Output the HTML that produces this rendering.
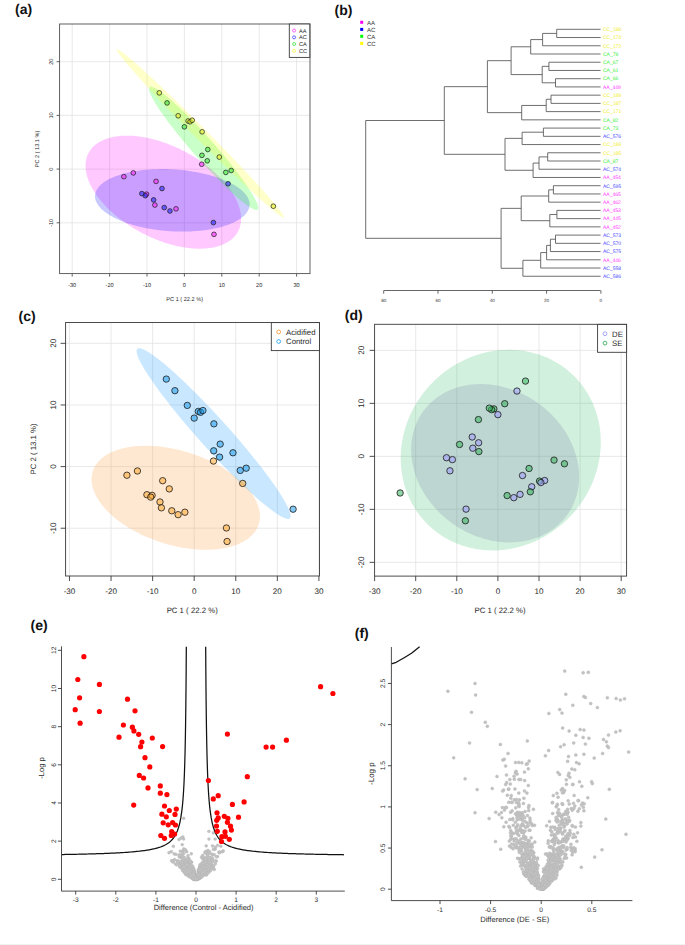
<!DOCTYPE html>
<html><head><meta charset="utf-8"><style>
html,body{margin:0;padding:0;background:#fff;}
svg{display:block;font-family:"Liberation Sans", sans-serif;text-rendering:geometricPrecision;}
</style></head><body>
<svg width="685" height="945" viewBox="0 0 685 945">
<rect width="685" height="945" fill="#fff"/>
<line x1="72.2" y1="24" x2="72.2" y2="273.6" stroke="#e2e2e2" stroke-width="0.8"/>
<line x1="109.6" y1="24" x2="109.6" y2="273.6" stroke="#e2e2e2" stroke-width="0.8"/>
<line x1="147" y1="24" x2="147" y2="273.6" stroke="#e2e2e2" stroke-width="0.8"/>
<line x1="184.4" y1="24" x2="184.4" y2="273.6" stroke="#e2e2e2" stroke-width="0.8"/>
<line x1="221.8" y1="24" x2="221.8" y2="273.6" stroke="#e2e2e2" stroke-width="0.8"/>
<line x1="259.2" y1="24" x2="259.2" y2="273.6" stroke="#e2e2e2" stroke-width="0.8"/>
<line x1="296.6" y1="24" x2="296.6" y2="273.6" stroke="#e2e2e2" stroke-width="0.8"/>
<line x1="59.6" y1="222.8" x2="310" y2="222.8" stroke="#e2e2e2" stroke-width="0.8"/>
<line x1="59.6" y1="169.1" x2="310" y2="169.1" stroke="#e2e2e2" stroke-width="0.8"/>
<line x1="59.6" y1="115.4" x2="310" y2="115.4" stroke="#e2e2e2" stroke-width="0.8"/>
<line x1="59.6" y1="61.7" x2="310" y2="61.7" stroke="#e2e2e2" stroke-width="0.8"/>
<path d="M203.4 163.05 L201.27 161.54 L199.11 160.05 L196.91 158.6 L194.68 157.18 L192.42 155.8 L190.13 154.45 L187.81 153.14 L185.47 151.87 L183.11 150.64 L180.72 149.45 L178.32 148.31 L175.9 147.2 L173.47 146.15 L171.04 145.13 L168.59 144.17 L166.14 143.25 L163.68 142.38 L161.23 141.57 L158.77 140.8 L156.32 140.08 L153.88 139.42 L151.45 138.8 L149.03 138.24 L146.62 137.74 L144.23 137.29 L141.86 136.89 L139.51 136.55 L137.19 136.26 L134.89 136.03 L132.62 135.86 L130.37 135.74 L128.17 135.68 L125.99 135.68 L123.86 135.73 L121.76 135.83 L119.71 136 L117.69 136.22 L115.73 136.49 L113.81 136.82 L111.94 137.21 L110.12 137.65 L108.36 138.15 L106.65 138.7 L104.99 139.3 L103.4 139.95 L101.86 140.66 L100.38 141.42 L98.97 142.23 L97.62 143.09 L96.34 144 L95.13 144.95 L93.98 145.96 L92.9 147.01 L91.89 148.1 L90.95 149.24 L90.09 150.42 L89.29 151.64 L88.58 152.91 L87.93 154.21 L87.36 155.55 L86.87 156.93 L86.45 158.34 L86.11 159.78 L85.85 161.26 L85.66 162.77 L85.55 164.31 L85.52 165.87 L85.57 167.47 L85.69 169.08 L85.89 170.72 L86.17 172.39 L86.52 174.07 L86.95 175.77 L87.46 177.48 L88.04 179.21 L88.7 180.95 L89.43 182.71 L90.24 184.47 L91.12 186.24 L92.07 188.02 L93.09 189.8 L94.18 191.59 L95.34 193.37 L96.57 195.16 L97.87 196.94 L99.23 198.71 L100.65 200.48 L102.14 202.24 L103.68 203.99 L105.29 205.73 L106.96 207.46 L108.68 209.17 L110.45 210.86 L112.28 212.54 L114.16 214.19 L116.08 215.83 L118.06 217.44 L120.08 219.02 L122.14 220.58 L124.25 222.11 L126.39 223.61 L128.57 225.07 L130.78 226.51 L133.03 227.91 L135.31 229.27 L137.61 230.6 L139.94 231.89 L142.29 233.14 L144.67 234.35 L147.06 235.52 L149.47 236.65 L151.89 237.73 L154.33 238.76 L156.77 239.75 L159.22 240.69 L161.68 241.58 L164.13 242.43 L166.59 243.22 L169.04 243.96 L171.48 244.65 L173.92 245.29 L176.35 245.88 L178.76 246.41 L181.16 246.89 L183.54 247.31 L185.9 247.68 L188.24 248 L190.55 248.25 L192.84 248.45 L195.09 248.6 L197.32 248.69 L199.51 248.72 L201.66 248.7 L203.78 248.62 L205.86 248.49 L207.89 248.29 L209.88 248.05 L211.82 247.74 L213.72 247.38 L215.56 246.97 L217.35 246.5 L219.09 245.98 L220.77 245.4 L222.4 244.78 L223.96 244.09 L225.47 243.36 L226.91 242.58 L228.29 241.74 L229.61 240.86 L230.86 239.93 L232.04 238.95 L233.16 237.92 L234.2 236.85 L235.17 235.73 L236.07 234.57 L236.9 233.37 L237.66 232.13 L238.34 230.84 L238.95 229.52 L239.48 228.16 L239.93 226.77 L240.31 225.34 L240.62 223.88 L240.84 222.38 L240.99 220.86 L241.06 219.31 L241.05 217.73 L240.97 216.12 L240.81 214.49 L240.57 212.84 L240.25 211.17 L239.86 209.48 L239.39 207.77 L238.84 206.05 L238.22 204.31 L237.53 202.56 L236.76 200.81 L235.91 199.04 L235 197.26 L234.01 195.48 L232.96 193.7 L231.83 191.92 L230.64 190.13 L229.37 188.35 L228.05 186.57 L226.65 184.8 L225.2 183.03 L223.68 181.28 L222.1 179.53 L220.47 177.8 L218.78 176.08 L217.03 174.38 L215.23 172.69 L213.37 171.03 L211.47 169.38 L209.52 167.76 L207.52 166.16 L205.48 164.59 L203.4 163.05 Z" fill="#ff00ff" fill-opacity="0.21" stroke="none"/>
<path d="M223.27 179.71 L221.41 178.98 L219.5 178.26 L217.55 177.58 L215.55 176.91 L213.5 176.27 L211.42 175.65 L209.29 175.06 L207.13 174.49 L204.94 173.94 L202.71 173.43 L200.45 172.94 L198.17 172.48 L195.85 172.04 L193.52 171.63 L191.16 171.26 L188.79 170.91 L186.4 170.59 L183.99 170.3 L181.57 170.04 L179.15 169.81 L176.71 169.61 L174.27 169.44 L171.83 169.3 L169.39 169.2 L166.96 169.12 L164.53 169.08 L162.1 169.06 L159.69 169.08 L157.29 169.13 L154.9 169.21 L152.53 169.32 L150.18 169.46 L147.86 169.63 L145.55 169.84 L143.28 170.07 L141.03 170.33 L138.82 170.63 L136.63 170.95 L134.49 171.3 L132.38 171.68 L130.31 172.09 L128.28 172.53 L126.3 173 L124.36 173.49 L122.47 174.01 L120.63 174.56 L118.84 175.13 L117.1 175.73 L115.42 176.35 L113.8 176.99 L112.23 177.66 L110.73 178.35 L109.28 179.07 L107.9 179.8 L106.58 180.55 L105.33 181.33 L104.15 182.12 L103.03 182.93 L101.98 183.76 L101 184.61 L100.1 185.47 L99.26 186.35 L98.5 187.24 L97.81 188.14 L97.2 189.05 L96.66 189.98 L96.19 190.92 L95.8 191.86 L95.49 192.82 L95.26 193.78 L95.1 194.75 L95.02 195.72 L95.01 196.7 L95.08 197.68 L95.23 198.67 L95.46 199.65 L95.76 200.64 L96.14 201.63 L96.59 202.61 L97.13 203.6 L97.73 204.58 L98.41 205.55 L99.16 206.52 L99.99 207.49 L100.89 208.45 L101.86 209.4 L102.9 210.34 L104 211.27 L105.18 212.19 L106.43 213.09 L107.73 213.99 L109.11 214.87 L110.54 215.74 L112.04 216.59 L113.6 217.42 L115.22 218.24 L116.89 219.04 L118.62 219.82 L120.4 220.59 L122.24 221.33 L124.12 222.05 L126.05 222.75 L128.03 223.43 L130.05 224.08 L132.12 224.71 L134.22 225.32 L136.36 225.9 L138.54 226.45 L140.75 226.98 L143 227.49 L145.27 227.96 L147.57 228.41 L149.89 228.83 L152.24 229.22 L154.61 229.59 L156.99 229.92 L159.39 230.23 L161.8 230.5 L164.22 230.75 L166.65 230.96 L169.09 231.14 L171.53 231.3 L173.97 231.42 L176.41 231.51 L178.84 231.57 L181.27 231.6 L183.69 231.6 L186.1 231.57 L188.49 231.5 L190.87 231.41 L193.23 231.28 L195.57 231.12 L197.88 230.94 L200.17 230.72 L202.43 230.47 L204.66 230.19 L206.86 229.88 L209.03 229.54 L211.16 229.18 L213.25 228.78 L215.29 228.36 L217.3 227.91 L219.26 227.43 L221.18 226.92 L223.04 226.39 L224.86 225.83 L226.62 225.24 L228.33 224.63 L229.98 224 L231.57 223.34 L233.11 222.66 L234.59 221.96 L236 221.24 L237.35 220.49 L238.63 219.73 L239.85 218.94 L241 218.14 L242.09 217.32 L243.1 216.48 L244.04 215.63 L244.91 214.76 L245.71 213.88 L246.44 212.98 L247.09 212.07 L247.67 211.15 L248.17 210.22 L248.59 209.28 L248.95 208.33 L249.22 207.37 L249.42 206.4 L249.54 205.43 L249.58 204.46 L249.55 203.48 L249.44 202.49 L249.25 201.51 L248.98 200.52 L248.64 199.53 L248.23 198.54 L247.73 197.56 L247.17 196.58 L246.52 195.6 L245.81 194.63 L245.02 193.66 L244.15 192.7 L243.22 191.74 L242.22 190.8 L241.14 189.86 L240 188.94 L238.79 188.03 L237.51 187.12 L236.17 186.24 L234.76 185.36 L233.3 184.5 L231.77 183.66 L230.18 182.83 L228.54 182.02 L226.83 181.23 L225.08 180.46 L223.27 179.71 Z" fill="#0000ff" fill-opacity="0.21" stroke="none"/>
<path d="M210.78 140.28 L209.06 138.36 L207.34 136.45 L205.62 134.54 L203.89 132.66 L202.17 130.78 L200.44 128.93 L198.72 127.09 L197.01 125.28 L195.3 123.48 L193.6 121.72 L191.9 119.98 L190.23 118.26 L188.56 116.58 L186.91 114.93 L185.27 113.31 L183.66 111.73 L182.06 110.18 L180.49 108.68 L178.93 107.21 L177.41 105.78 L175.91 104.4 L174.43 103.06 L172.99 101.76 L171.57 100.51 L170.19 99.31 L168.84 98.15 L167.53 97.05 L166.25 96 L165.01 95 L163.81 94.05 L162.65 93.16 L161.53 92.32 L160.45 91.54 L159.41 90.82 L158.42 90.15 L157.47 89.54 L156.57 88.99 L155.71 88.5 L154.91 88.06 L154.15 87.69 L153.44 87.38 L152.78 87.13 L152.17 86.94 L151.62 86.81 L151.11 86.74 L150.66 86.74 L150.26 86.79 L149.91 86.91 L149.62 87.09 L149.38 87.33 L149.2 87.63 L149.07 87.99 L148.99 88.41 L148.97 88.89 L149 89.43 L149.09 90.03 L149.23 90.68 L149.42 91.4 L149.67 92.17 L149.98 93 L150.33 93.88 L150.74 94.81 L151.21 95.8 L151.72 96.84 L152.29 97.94 L152.91 99.08 L153.57 100.27 L154.29 101.51 L155.06 102.8 L155.88 104.13 L156.74 105.51 L157.65 106.93 L158.61 108.39 L159.61 109.89 L160.65 111.43 L161.74 113.01 L162.87 114.62 L164.04 116.26 L165.25 117.94 L166.5 119.64 L167.78 121.38 L169.1 123.14 L170.46 124.93 L171.84 126.74 L173.26 128.57 L174.71 130.42 L176.19 132.29 L177.7 134.18 L179.23 136.08 L180.79 137.99 L182.37 139.91 L183.97 141.84 L185.59 143.78 L187.22 145.72 L188.88 147.67 L190.55 149.61 L192.23 151.56 L193.92 153.5 L195.63 155.43 L197.34 157.36 L199.05 159.28 L200.78 161.19 L202.5 163.08 L204.23 164.97 L205.95 166.83 L207.67 168.68 L209.39 170.5 L211.11 172.31 L212.81 174.09 L214.51 175.84 L216.19 177.57 L217.87 179.26 L219.53 180.93 L221.17 182.56 L222.8 184.16 L224.4 185.73 L225.99 187.26 L227.55 188.74 L229.09 190.19 L230.6 191.6 L232.09 192.96 L233.55 194.28 L234.98 195.55 L236.38 196.78 L237.74 197.96 L239.08 199.09 L240.37 200.16 L241.63 201.19 L242.85 202.16 L244.03 203.08 L245.18 203.95 L246.28 204.76 L247.33 205.51 L248.35 206.21 L249.32 206.85 L250.24 207.43 L251.12 207.95 L251.95 208.41 L252.73 208.81 L253.47 209.15 L254.15 209.43 L254.79 209.65 L255.37 209.81 L255.9 209.91 L256.38 209.95 L256.8 209.92 L257.18 209.84 L257.5 209.69 L257.76 209.48 L257.98 209.21 L258.13 208.88 L258.24 208.49 L258.29 208.04 L258.28 207.53 L258.22 206.96 L258.11 206.33 L257.94 205.65 L257.72 204.91 L257.44 204.11 L257.11 203.25 L256.73 202.34 L256.29 201.38 L255.8 200.36 L255.26 199.3 L254.67 198.18 L254.02 197.01 L253.33 195.79 L252.59 194.53 L251.8 193.22 L250.96 191.86 L250.07 190.47 L249.14 189.03 L248.16 187.55 L247.13 186.03 L246.07 184.47 L244.96 182.88 L243.81 181.25 L242.62 179.59 L241.39 177.9 L240.12 176.17 L238.82 174.43 L237.48 172.65 L236.11 170.85 L234.71 169.03 L233.27 167.19 L231.81 165.33 L230.32 163.45 L228.8 161.56 L227.25 159.65 L225.68 157.73 L224.09 155.8 L222.48 153.87 L220.85 151.93 L219.21 149.99 L217.55 148.04 L215.87 146.1 L214.18 144.16 L212.48 142.22 L210.78 140.28 Z" fill="#00ff00" fill-opacity="0.21" stroke="none"/>
<path d="M204.5 129.16 L201.85 126.51 L199.21 123.86 L196.57 121.23 L193.93 118.6 L191.3 115.99 L188.67 113.4 L186.06 110.83 L183.46 108.28 L180.88 105.75 L178.32 103.26 L175.78 100.79 L173.27 98.36 L170.78 95.96 L168.32 93.59 L165.9 91.27 L163.5 88.99 L161.15 86.75 L158.83 84.56 L156.56 82.42 L154.32 80.33 L152.14 78.29 L150 76.31 L147.91 74.38 L145.88 72.51 L143.9 70.71 L141.97 68.96 L140.11 67.28 L138.3 65.67 L136.56 64.12 L134.88 62.64 L133.26 61.23 L131.71 59.9 L130.23 58.64 L128.82 57.45 L127.48 56.33 L126.21 55.3 L125.02 54.34 L123.9 53.46 L122.86 52.66 L121.9 51.94 L121.01 51.31 L120.21 50.75 L119.48 50.28 L118.83 49.88 L118.27 49.58 L117.78 49.35 L117.38 49.21 L117.06 49.16 L116.83 49.18 L116.68 49.29 L116.61 49.49 L116.62 49.77 L116.72 50.13 L116.9 50.57 L117.17 51.1 L117.51 51.71 L117.94 52.4 L118.46 53.17 L119.05 54.02 L119.73 54.95 L120.48 55.96 L121.32 57.05 L122.23 58.21 L123.22 59.44 L124.29 60.76 L125.43 62.14 L126.65 63.59 L127.94 65.11 L129.31 66.7 L130.74 68.36 L132.25 70.08 L133.82 71.87 L135.46 73.72 L137.16 75.62 L138.93 77.59 L140.76 79.6 L142.64 81.68 L144.59 83.8 L146.59 85.98 L148.64 88.2 L150.75 90.46 L152.9 92.77 L155.1 95.12 L157.35 97.51 L159.64 99.93 L161.97 102.39 L164.34 104.87 L166.75 107.39 L169.18 109.93 L171.65 112.49 L174.15 115.08 L176.67 117.68 L179.22 120.3 L181.79 122.93 L184.38 125.58 L186.98 128.23 L189.6 130.88 L192.22 133.54 L194.86 136.2 L197.5 138.85 L200.14 141.5 L202.78 144.14 L205.43 146.77 L208.06 149.39 L210.69 151.99 L213.31 154.57 L215.91 157.13 L218.5 159.67 L221.07 162.18 L223.62 164.67 L226.15 167.12 L228.65 169.53 L231.13 171.92 L233.57 174.26 L235.98 176.56 L238.35 178.82 L240.69 181.03 L242.99 183.2 L245.24 185.32 L247.45 187.38 L249.61 189.39 L251.72 191.35 L253.78 193.25 L255.79 195.08 L257.75 196.86 L259.64 198.57 L261.48 200.22 L263.25 201.8 L264.97 203.31 L266.61 204.76 L268.2 206.13 L269.71 207.43 L271.16 208.65 L272.53 209.8 L273.84 210.88 L275.07 211.87 L276.22 212.79 L277.3 213.63 L278.3 214.39 L279.23 215.07 L280.07 215.67 L280.84 216.18 L281.53 216.62 L282.13 216.96 L282.66 217.23 L283.1 217.41 L283.46 217.51 L283.74 217.53 L283.93 217.46 L284.04 217.3 L284.07 217.07 L284.01 216.75 L283.87 216.34 L283.65 215.86 L283.34 215.29 L282.96 214.64 L282.48 213.91 L281.93 213.1 L281.3 212.21 L280.58 211.24 L279.79 210.19 L278.91 209.07 L277.96 207.87 L276.93 206.59 L275.82 205.25 L274.64 203.83 L273.39 202.34 L272.06 200.78 L270.66 199.16 L269.19 197.47 L267.65 195.72 L266.04 193.9 L264.37 192.02 L262.64 190.09 L260.84 188.1 L258.98 186.05 L257.06 183.95 L255.09 181.8 L253.06 179.61 L250.98 177.36 L248.85 175.07 L246.68 172.75 L244.45 170.38 L242.18 167.97 L239.87 165.53 L237.52 163.06 L235.14 160.56 L232.71 158.03 L230.26 155.48 L227.78 152.9 L225.26 150.31 L222.73 147.7 L220.17 145.07 L217.59 142.43 L215 139.78 L212.39 137.13 L209.77 134.47 L207.13 131.82 L204.5 129.16 Z" fill="#ffff00" fill-opacity="0.21" stroke="none"/>
<circle cx="123.85" cy="176.62" r="2.35" fill="#ff28ff" fill-opacity="0.6" stroke="#1a1a1a" stroke-width="0.7"/>
<circle cx="133.31" cy="172.91" r="2.35" fill="#ff28ff" fill-opacity="0.6" stroke="#1a1a1a" stroke-width="0.7"/>
<circle cx="156.05" cy="181.4" r="2.35" fill="#ff28ff" fill-opacity="0.6" stroke="#1a1a1a" stroke-width="0.7"/>
<circle cx="162" cy="188.54" r="2.35" fill="#2828ff" fill-opacity="0.6" stroke="#1a1a1a" stroke-width="0.7"/>
<circle cx="141.84" cy="193.59" r="2.35" fill="#2828ff" fill-opacity="0.6" stroke="#1a1a1a" stroke-width="0.7"/>
<circle cx="146.51" cy="194.18" r="2.35" fill="#ff28ff" fill-opacity="0.6" stroke="#1a1a1a" stroke-width="0.7"/>
<circle cx="145.28" cy="195.68" r="2.35" fill="#2828ff" fill-opacity="0.6" stroke="#1a1a1a" stroke-width="0.7"/>
<circle cx="153.62" cy="199.92" r="2.35" fill="#2828ff" fill-opacity="0.6" stroke="#1a1a1a" stroke-width="0.7"/>
<circle cx="154.89" cy="205.03" r="2.35" fill="#ff28ff" fill-opacity="0.6" stroke="#1a1a1a" stroke-width="0.7"/>
<circle cx="164.24" cy="207.6" r="2.35" fill="#2828ff" fill-opacity="0.6" stroke="#1a1a1a" stroke-width="0.7"/>
<circle cx="169.93" cy="210.99" r="2.35" fill="#2828ff" fill-opacity="0.6" stroke="#1a1a1a" stroke-width="0.7"/>
<circle cx="176.02" cy="208.84" r="2.35" fill="#ff28ff" fill-opacity="0.6" stroke="#1a1a1a" stroke-width="0.7"/>
<circle cx="213.39" cy="222.59" r="2.35" fill="#2828ff" fill-opacity="0.6" stroke="#1a1a1a" stroke-width="0.7"/>
<circle cx="213.98" cy="234.35" r="2.35" fill="#ff28ff" fill-opacity="0.6" stroke="#1a1a1a" stroke-width="0.7"/>
<circle cx="201.72" cy="164.27" r="2.35" fill="#ff28ff" fill-opacity="0.6" stroke="#1a1a1a" stroke-width="0.7"/>
<circle cx="228.05" cy="183.76" r="2.35" fill="#2828ff" fill-opacity="0.6" stroke="#1a1a1a" stroke-width="0.7"/>
<circle cx="159.3" cy="92.85" r="2.35" fill="#e6f02a" fill-opacity="0.6" stroke="#1a1a1a" stroke-width="0.7"/>
<circle cx="167.05" cy="102.94" r="2.35" fill="#3ce63c" fill-opacity="0.6" stroke="#1a1a1a" stroke-width="0.7"/>
<circle cx="178.19" cy="115.78" r="2.35" fill="#e6f02a" fill-opacity="0.6" stroke="#1a1a1a" stroke-width="0.7"/>
<circle cx="188.1" cy="120.98" r="2.35" fill="#e6f02a" fill-opacity="0.6" stroke="#1a1a1a" stroke-width="0.7"/>
<circle cx="190.08" cy="121.79" r="2.35" fill="#e6f02a" fill-opacity="0.6" stroke="#1a1a1a" stroke-width="0.7"/>
<circle cx="192.22" cy="120.23" r="2.35" fill="#e6f02a" fill-opacity="0.6" stroke="#1a1a1a" stroke-width="0.7"/>
<circle cx="184.4" cy="126.84" r="2.35" fill="#3ce63c" fill-opacity="0.6" stroke="#1a1a1a" stroke-width="0.7"/>
<circle cx="202.13" cy="131.83" r="2.35" fill="#e6f02a" fill-opacity="0.6" stroke="#1a1a1a" stroke-width="0.7"/>
<circle cx="207.78" cy="149.5" r="2.35" fill="#3ce63c" fill-opacity="0.6" stroke="#1a1a1a" stroke-width="0.7"/>
<circle cx="201.94" cy="155.35" r="2.35" fill="#3ce63c" fill-opacity="0.6" stroke="#1a1a1a" stroke-width="0.7"/>
<circle cx="219.29" cy="157.07" r="2.35" fill="#e6f02a" fill-opacity="0.6" stroke="#1a1a1a" stroke-width="0.7"/>
<circle cx="207.25" cy="160.83" r="2.35" fill="#3ce63c" fill-opacity="0.6" stroke="#1a1a1a" stroke-width="0.7"/>
<circle cx="225.8" cy="172.43" r="2.35" fill="#3ce63c" fill-opacity="0.6" stroke="#1a1a1a" stroke-width="0.7"/>
<circle cx="231.19" cy="170.5" r="2.35" fill="#3ce63c" fill-opacity="0.6" stroke="#1a1a1a" stroke-width="0.7"/>
<circle cx="273.37" cy="206.21" r="2.35" fill="#e6f02a" fill-opacity="0.6" stroke="#1a1a1a" stroke-width="0.7"/>
<rect x="59.6" y="24" width="250.4" height="249.6" fill="none" stroke="#505050" stroke-width="0.9"/>
<line x1="72.2" y1="273.6" x2="72.2" y2="276.6" stroke="#505050" stroke-width="0.9"/>
<text x="72.2" y="287.42" font-size="5.6" text-anchor="middle" fill="#2a2a2a">-30</text>
<line x1="109.6" y1="273.6" x2="109.6" y2="276.6" stroke="#505050" stroke-width="0.9"/>
<text x="109.6" y="287.42" font-size="5.6" text-anchor="middle" fill="#2a2a2a">-20</text>
<line x1="147" y1="273.6" x2="147" y2="276.6" stroke="#505050" stroke-width="0.9"/>
<text x="147" y="287.42" font-size="5.6" text-anchor="middle" fill="#2a2a2a">-10</text>
<line x1="184.4" y1="273.6" x2="184.4" y2="276.6" stroke="#505050" stroke-width="0.9"/>
<text x="184.4" y="287.42" font-size="5.6" text-anchor="middle" fill="#2a2a2a">0</text>
<line x1="221.8" y1="273.6" x2="221.8" y2="276.6" stroke="#505050" stroke-width="0.9"/>
<text x="221.8" y="287.42" font-size="5.6" text-anchor="middle" fill="#2a2a2a">10</text>
<line x1="259.2" y1="273.6" x2="259.2" y2="276.6" stroke="#505050" stroke-width="0.9"/>
<text x="259.2" y="287.42" font-size="5.6" text-anchor="middle" fill="#2a2a2a">20</text>
<line x1="296.6" y1="273.6" x2="296.6" y2="276.6" stroke="#505050" stroke-width="0.9"/>
<text x="296.6" y="287.42" font-size="5.6" text-anchor="middle" fill="#2a2a2a">30</text>
<line x1="56.6" y1="222.8" x2="59.6" y2="222.8" stroke="#505050" stroke-width="0.9"/>
<text x="50.6" y="224.82" font-size="5.6" text-anchor="middle" fill="#2a2a2a" transform="rotate(-90 50.6 222.8)">-10</text>
<line x1="56.6" y1="169.1" x2="59.6" y2="169.1" stroke="#505050" stroke-width="0.9"/>
<text x="50.6" y="171.12" font-size="5.6" text-anchor="middle" fill="#2a2a2a" transform="rotate(-90 50.6 169.1)">0</text>
<line x1="56.6" y1="115.4" x2="59.6" y2="115.4" stroke="#505050" stroke-width="0.9"/>
<text x="50.6" y="117.42" font-size="5.6" text-anchor="middle" fill="#2a2a2a" transform="rotate(-90 50.6 115.4)">10</text>
<line x1="56.6" y1="61.7" x2="59.6" y2="61.7" stroke="#505050" stroke-width="0.9"/>
<text x="50.6" y="63.72" font-size="5.6" text-anchor="middle" fill="#2a2a2a" transform="rotate(-90 50.6 61.7)">20</text>
<text x="184.7" y="301.02" font-size="5.6" text-anchor="middle" fill="#2a2a2a">PC 1 ( 22.2 %)</text>
<text x="36.6" y="151.02" font-size="5.6" text-anchor="middle" fill="#2a2a2a" transform="rotate(-90 36.6 149)">PC 2 ( 13.1 %)</text>
<rect x="289.3" y="24" width="20.5" height="33.4" fill="#fff" stroke="#3a3a3a" stroke-width="0.9"/>
<circle cx="294.1" cy="30.6" r="1.5" fill="none" stroke="#ff40ff" stroke-width="0.8"/>
<text x="299" y="32.62" font-size="5.6" text-anchor="start" fill="#2a2a2a">AA</text>
<circle cx="294.1" cy="37.33" r="1.5" fill="none" stroke="#4040ff" stroke-width="0.8"/>
<text x="299" y="39.35" font-size="5.6" text-anchor="start" fill="#2a2a2a">AC</text>
<circle cx="294.1" cy="44.06" r="1.5" fill="none" stroke="#40e040" stroke-width="0.8"/>
<text x="299" y="46.08" font-size="5.6" text-anchor="start" fill="#2a2a2a">CA</text>
<circle cx="294.1" cy="50.79" r="1.5" fill="none" stroke="#f0f040" stroke-width="0.8"/>
<text x="299" y="52.81" font-size="5.6" text-anchor="start" fill="#2a2a2a">CC</text>
<text x="15" y="1.1" font-size="14" font-weight="bold" fill="#111" dominant-baseline="text-before-edge">(a)</text>
<line x1="69.49" y1="322.5" x2="69.49" y2="576" stroke="#e2e2e2" stroke-width="0.8"/>
<line x1="111.06" y1="322.5" x2="111.06" y2="576" stroke="#e2e2e2" stroke-width="0.8"/>
<line x1="152.63" y1="322.5" x2="152.63" y2="576" stroke="#e2e2e2" stroke-width="0.8"/>
<line x1="194.2" y1="322.5" x2="194.2" y2="576" stroke="#e2e2e2" stroke-width="0.8"/>
<line x1="235.77" y1="322.5" x2="235.77" y2="576" stroke="#e2e2e2" stroke-width="0.8"/>
<line x1="277.34" y1="322.5" x2="277.34" y2="576" stroke="#e2e2e2" stroke-width="0.8"/>
<line x1="318.91" y1="322.5" x2="318.91" y2="576" stroke="#e2e2e2" stroke-width="0.8"/>
<line x1="65.6" y1="528.23" x2="319.5" y2="528.23" stroke="#e2e2e2" stroke-width="0.8"/>
<line x1="65.6" y1="466.6" x2="319.5" y2="466.6" stroke="#e2e2e2" stroke-width="0.8"/>
<line x1="65.6" y1="404.97" x2="319.5" y2="404.97" stroke="#e2e2e2" stroke-width="0.8"/>
<line x1="65.6" y1="343.34" x2="319.5" y2="343.34" stroke="#e2e2e2" stroke-width="0.8"/>
<path d="M223.5 468.28 L221.29 466.94 L219.03 465.64 L216.73 464.36 L214.39 463.12 L212.01 461.91 L209.59 460.74 L207.14 459.61 L204.66 458.51 L202.14 457.46 L199.61 456.44 L197.05 455.46 L194.46 454.53 L191.86 453.64 L189.24 452.79 L186.61 451.99 L183.97 451.24 L181.32 450.53 L178.67 449.87 L176.01 449.25 L173.35 448.69 L170.69 448.17 L168.04 447.7 L165.4 447.28 L162.77 446.92 L160.15 446.6 L157.54 446.33 L154.96 446.12 L152.39 445.96 L149.85 445.84 L147.33 445.78 L144.84 445.78 L142.39 445.82 L139.96 445.92 L137.57 446.06 L135.22 446.26 L132.91 446.51 L130.64 446.82 L128.42 447.17 L126.25 447.57 L124.12 448.02 L122.05 448.53 L120.02 449.08 L118.06 449.68 L116.15 450.33 L114.3 451.02 L112.52 451.76 L110.79 452.55 L109.13 453.38 L107.54 454.26 L106.01 455.18 L104.56 456.14 L103.17 457.15 L101.86 458.19 L100.62 459.28 L99.46 460.4 L98.37 461.56 L97.36 462.76 L96.43 463.99 L95.57 465.25 L94.8 466.55 L94.11 467.88 L93.49 469.24 L92.97 470.62 L92.52 472.04 L92.15 473.48 L91.87 474.94 L91.68 476.43 L91.56 477.93 L91.53 479.46 L91.59 481.01 L91.73 482.57 L91.95 484.15 L92.25 485.74 L92.64 487.34 L93.11 488.96 L93.67 490.58 L94.3 492.21 L95.02 493.84 L95.82 495.48 L96.7 497.12 L97.65 498.76 L98.69 500.41 L99.8 502.04 L100.98 503.68 L102.24 505.31 L103.58 506.93 L104.98 508.54 L106.46 510.14 L108.01 511.73 L109.62 513.3 L111.3 514.86 L113.04 516.4 L114.85 517.93 L116.71 519.43 L118.64 520.91 L120.62 522.37 L122.66 523.8 L124.75 525.21 L126.89 526.59 L129.08 527.95 L131.31 529.27 L133.6 530.56 L135.92 531.82 L138.28 533.04 L140.68 534.23 L143.11 535.38 L145.58 536.5 L148.08 537.57 L150.6 538.61 L153.15 539.61 L155.72 540.56 L158.32 541.47 L160.93 542.34 L163.55 543.17 L166.19 543.94 L168.83 544.68 L171.48 545.36 L174.14 546 L176.8 546.59 L179.46 547.13 L182.11 547.63 L184.76 548.07 L187.4 548.46 L190.03 548.8 L192.64 549.1 L195.23 549.34 L197.81 549.52 L200.36 549.66 L202.89 549.75 L205.4 549.78 L207.87 549.76 L210.31 549.69 L212.72 549.57 L215.09 549.4 L217.42 549.17 L219.71 548.9 L221.95 548.57 L224.15 548.19 L226.3 547.76 L228.4 547.29 L230.45 546.76 L232.45 546.18 L234.38 545.56 L236.26 544.89 L238.08 544.17 L239.84 543.4 L241.53 542.59 L243.15 541.74 L244.71 540.84 L246.2 539.9 L247.62 538.91 L248.97 537.89 L250.25 536.82 L251.45 535.72 L252.58 534.58 L253.63 533.4 L254.6 532.18 L255.49 530.94 L256.3 529.66 L257.04 528.34 L257.69 527 L258.26 525.63 L258.75 524.23 L259.16 522.8 L259.48 521.35 L259.72 519.87 L259.87 518.38 L259.94 516.86 L259.93 515.32 L259.83 513.77 L259.65 512.2 L259.39 510.61 L259.04 509.02 L258.61 507.41 L258.1 505.79 L257.5 504.16 L256.83 502.53 L256.07 500.89 L255.23 499.25 L254.32 497.61 L253.32 495.97 L252.25 494.33 L251.1 492.69 L249.88 491.06 L248.58 489.44 L247.21 487.82 L245.77 486.21 L244.26 484.62 L242.68 483.04 L241.03 481.47 L239.32 479.92 L237.54 478.39 L235.71 476.87 L233.81 475.38 L231.86 473.91 L229.85 472.46 L227.78 471.04 L225.67 469.65 L223.5 468.28 Z" fill="#ffa040" fill-opacity="0.24" stroke="none"/>
<path d="M223.63 422.51 L221.21 419.85 L218.79 417.19 L216.36 414.56 L213.92 411.94 L211.49 409.35 L209.06 406.77 L206.64 404.23 L204.22 401.72 L201.81 399.23 L199.41 396.78 L197.03 394.37 L194.66 392 L192.32 389.67 L189.99 387.38 L187.69 385.14 L185.41 382.94 L183.16 380.8 L180.94 378.71 L178.76 376.67 L176.6 374.69 L174.49 372.77 L172.42 370.91 L170.38 369.12 L168.39 367.38 L166.44 365.72 L164.55 364.12 L162.7 362.59 L160.9 361.13 L159.15 359.74 L157.46 358.43 L155.82 357.19 L154.24 356.03 L152.72 354.94 L151.26 353.94 L149.87 353.01 L148.53 352.16 L147.26 351.4 L146.06 350.71 L144.93 350.11 L143.86 349.59 L142.86 349.16 L141.94 348.81 L141.08 348.54 L140.3 348.36 L139.59 348.27 L138.96 348.26 L138.39 348.33 L137.91 348.49 L137.5 348.73 L137.16 349.06 L136.9 349.48 L136.72 349.97 L136.62 350.55 L136.59 351.22 L136.64 351.96 L136.76 352.79 L136.96 353.7 L137.24 354.68 L137.59 355.75 L138.02 356.89 L138.53 358.11 L139.11 359.4 L139.76 360.77 L140.49 362.21 L141.29 363.73 L142.16 365.31 L143.11 366.96 L144.12 368.68 L145.21 370.46 L146.36 372.3 L147.58 374.21 L148.86 376.17 L150.21 378.19 L151.62 380.27 L153.1 382.4 L154.63 384.58 L156.22 386.81 L157.88 389.09 L159.58 391.41 L161.34 393.77 L163.15 396.18 L165.02 398.62 L166.93 401.09 L168.88 403.6 L170.89 406.13 L172.93 408.7 L175.02 411.29 L177.14 413.9 L179.3 416.53 L181.49 419.18 L183.72 421.84 L185.98 424.52 L188.26 427.2 L190.57 429.89 L192.9 432.58 L195.25 435.28 L197.63 437.97 L200.01 440.66 L202.41 443.34 L204.82 446.01 L207.24 448.67 L209.67 451.32 L212.1 453.94 L214.53 456.55 L216.97 459.13 L219.39 461.69 L221.82 464.22 L224.23 466.72 L226.63 469.19 L229.02 471.62 L231.4 474.01 L233.76 476.36 L236.09 478.67 L238.41 480.94 L240.7 483.16 L242.96 485.33 L245.2 487.44 L247.4 489.51 L249.57 491.51 L251.7 493.46 L253.79 495.35 L255.85 497.18 L257.86 498.95 L259.83 500.65 L261.75 502.28 L263.63 503.85 L265.45 505.34 L267.23 506.76 L268.95 508.12 L270.61 509.39 L272.22 510.59 L273.77 511.72 L275.26 512.76 L276.69 513.73 L278.05 514.62 L279.35 515.42 L280.59 516.15 L281.76 516.79 L282.86 517.35 L283.89 517.82 L284.85 518.22 L285.74 518.52 L286.56 518.75 L287.31 518.89 L287.98 518.94 L288.58 518.91 L289.1 518.79 L289.55 518.59 L289.92 518.3 L290.22 517.93 L290.44 517.48 L290.58 516.94 L290.65 516.32 L290.64 515.61 L290.56 514.83 L290.39 513.96 L290.15 513.01 L289.84 511.99 L289.44 510.88 L288.98 509.7 L288.43 508.44 L287.82 507.11 L287.13 505.7 L286.36 504.23 L285.53 502.68 L284.62 501.06 L283.64 499.38 L282.59 497.63 L281.47 495.82 L280.28 493.94 L279.03 492.01 L277.72 490.01 L276.33 487.97 L274.89 485.86 L273.39 483.71 L271.82 481.5 L270.2 479.25 L268.52 476.95 L266.79 474.6 L265 472.22 L263.16 469.8 L261.28 467.34 L259.34 464.85 L257.36 462.33 L255.34 459.78 L253.27 457.2 L251.17 454.6 L249.03 451.98 L246.85 449.34 L244.64 446.68 L242.4 444.01 L240.13 441.33 L237.83 438.65 L235.51 435.95 L233.17 433.26 L230.81 430.56 L228.43 427.87 L226.03 425.19 L223.63 422.51 Z" fill="#1ea0ff" fill-opacity="0.24" stroke="none"/>
<circle cx="126.9" cy="475.23" r="3.2" fill="#ffaa32" fill-opacity="0.55" stroke="#1a1a1a" stroke-width="0.8"/>
<circle cx="137.42" cy="470.98" r="3.2" fill="#ffaa32" fill-opacity="0.55" stroke="#1a1a1a" stroke-width="0.8"/>
<circle cx="162.69" cy="480.71" r="3.2" fill="#ffaa32" fill-opacity="0.55" stroke="#1a1a1a" stroke-width="0.8"/>
<circle cx="169.3" cy="488.91" r="3.2" fill="#ffaa32" fill-opacity="0.55" stroke="#1a1a1a" stroke-width="0.8"/>
<circle cx="146.89" cy="494.7" r="3.2" fill="#ffaa32" fill-opacity="0.55" stroke="#1a1a1a" stroke-width="0.8"/>
<circle cx="152.09" cy="495.38" r="3.2" fill="#ffaa32" fill-opacity="0.55" stroke="#1a1a1a" stroke-width="0.8"/>
<circle cx="150.72" cy="497.11" r="3.2" fill="#ffaa32" fill-opacity="0.55" stroke="#1a1a1a" stroke-width="0.8"/>
<circle cx="159.99" cy="501.98" r="3.2" fill="#ffaa32" fill-opacity="0.55" stroke="#1a1a1a" stroke-width="0.8"/>
<circle cx="161.4" cy="507.83" r="3.2" fill="#ffaa32" fill-opacity="0.55" stroke="#1a1a1a" stroke-width="0.8"/>
<circle cx="171.79" cy="510.79" r="3.2" fill="#ffaa32" fill-opacity="0.55" stroke="#1a1a1a" stroke-width="0.8"/>
<circle cx="178.11" cy="514.67" r="3.2" fill="#ffaa32" fill-opacity="0.55" stroke="#1a1a1a" stroke-width="0.8"/>
<circle cx="184.89" cy="512.21" r="3.2" fill="#ffaa32" fill-opacity="0.55" stroke="#1a1a1a" stroke-width="0.8"/>
<circle cx="226.42" cy="527.98" r="3.2" fill="#ffaa32" fill-opacity="0.55" stroke="#1a1a1a" stroke-width="0.8"/>
<circle cx="227.08" cy="541.48" r="3.2" fill="#ffaa32" fill-opacity="0.55" stroke="#1a1a1a" stroke-width="0.8"/>
<circle cx="213.45" cy="461.05" r="3.2" fill="#ffaa32" fill-opacity="0.55" stroke="#1a1a1a" stroke-width="0.8"/>
<circle cx="242.71" cy="483.42" r="3.2" fill="#ffaa32" fill-opacity="0.55" stroke="#1a1a1a" stroke-width="0.8"/>
<circle cx="166.31" cy="379.09" r="3.2" fill="#1e9beb" fill-opacity="0.55" stroke="#1a1a1a" stroke-width="0.8"/>
<circle cx="174.91" cy="390.67" r="3.2" fill="#1e9beb" fill-opacity="0.55" stroke="#1a1a1a" stroke-width="0.8"/>
<circle cx="187.3" cy="405.4" r="3.2" fill="#1e9beb" fill-opacity="0.55" stroke="#1a1a1a" stroke-width="0.8"/>
<circle cx="198.32" cy="411.38" r="3.2" fill="#1e9beb" fill-opacity="0.55" stroke="#1a1a1a" stroke-width="0.8"/>
<circle cx="200.52" cy="412.3" r="3.2" fill="#1e9beb" fill-opacity="0.55" stroke="#1a1a1a" stroke-width="0.8"/>
<circle cx="202.89" cy="410.52" r="3.2" fill="#1e9beb" fill-opacity="0.55" stroke="#1a1a1a" stroke-width="0.8"/>
<circle cx="194.2" cy="418.1" r="3.2" fill="#1e9beb" fill-opacity="0.55" stroke="#1a1a1a" stroke-width="0.8"/>
<circle cx="213.9" cy="423.83" r="3.2" fill="#1e9beb" fill-opacity="0.55" stroke="#1a1a1a" stroke-width="0.8"/>
<circle cx="220.18" cy="444.11" r="3.2" fill="#1e9beb" fill-opacity="0.55" stroke="#1a1a1a" stroke-width="0.8"/>
<circle cx="213.7" cy="450.82" r="3.2" fill="#1e9beb" fill-opacity="0.55" stroke="#1a1a1a" stroke-width="0.8"/>
<circle cx="232.98" cy="452.79" r="3.2" fill="#1e9beb" fill-opacity="0.55" stroke="#1a1a1a" stroke-width="0.8"/>
<circle cx="219.6" cy="457.11" r="3.2" fill="#1e9beb" fill-opacity="0.55" stroke="#1a1a1a" stroke-width="0.8"/>
<circle cx="240.22" cy="470.42" r="3.2" fill="#1e9beb" fill-opacity="0.55" stroke="#1a1a1a" stroke-width="0.8"/>
<circle cx="246.2" cy="468.2" r="3.2" fill="#1e9beb" fill-opacity="0.55" stroke="#1a1a1a" stroke-width="0.8"/>
<circle cx="293.1" cy="509.19" r="3.2" fill="#1e9beb" fill-opacity="0.55" stroke="#1a1a1a" stroke-width="0.8"/>
<rect x="65.6" y="322.5" width="253.9" height="253.5" fill="none" stroke="#3a3a3a" stroke-width="0.9"/>
<line x1="69.49" y1="576" x2="69.49" y2="581" stroke="#3a3a3a" stroke-width="0.9"/>
<text x="69.49" y="594.02" font-size="8.1" text-anchor="middle" fill="#2a2a2a">-30</text>
<line x1="111.06" y1="576" x2="111.06" y2="581" stroke="#3a3a3a" stroke-width="0.9"/>
<text x="111.06" y="594.02" font-size="8.1" text-anchor="middle" fill="#2a2a2a">-20</text>
<line x1="152.63" y1="576" x2="152.63" y2="581" stroke="#3a3a3a" stroke-width="0.9"/>
<text x="152.63" y="594.02" font-size="8.1" text-anchor="middle" fill="#2a2a2a">-10</text>
<line x1="194.2" y1="576" x2="194.2" y2="581" stroke="#3a3a3a" stroke-width="0.9"/>
<text x="194.2" y="594.02" font-size="8.1" text-anchor="middle" fill="#2a2a2a">0</text>
<line x1="235.77" y1="576" x2="235.77" y2="581" stroke="#3a3a3a" stroke-width="0.9"/>
<text x="235.77" y="594.02" font-size="8.1" text-anchor="middle" fill="#2a2a2a">10</text>
<line x1="277.34" y1="576" x2="277.34" y2="581" stroke="#3a3a3a" stroke-width="0.9"/>
<text x="277.34" y="594.02" font-size="8.1" text-anchor="middle" fill="#2a2a2a">20</text>
<line x1="318.91" y1="576" x2="318.91" y2="581" stroke="#3a3a3a" stroke-width="0.9"/>
<text x="318.91" y="594.02" font-size="8.1" text-anchor="middle" fill="#2a2a2a">30</text>
<line x1="60.6" y1="528.23" x2="65.6" y2="528.23" stroke="#3a3a3a" stroke-width="0.9"/>
<text x="52.6" y="531.15" font-size="8.1" text-anchor="middle" fill="#2a2a2a" transform="rotate(-90 52.6 528.23)">-10</text>
<line x1="60.6" y1="466.6" x2="65.6" y2="466.6" stroke="#3a3a3a" stroke-width="0.9"/>
<text x="52.6" y="469.52" font-size="8.1" text-anchor="middle" fill="#2a2a2a" transform="rotate(-90 52.6 466.6)">0</text>
<line x1="60.6" y1="404.97" x2="65.6" y2="404.97" stroke="#3a3a3a" stroke-width="0.9"/>
<text x="52.6" y="407.89" font-size="8.1" text-anchor="middle" fill="#2a2a2a" transform="rotate(-90 52.6 404.97)">10</text>
<line x1="60.6" y1="343.34" x2="65.6" y2="343.34" stroke="#3a3a3a" stroke-width="0.9"/>
<text x="52.6" y="346.26" font-size="8.1" text-anchor="middle" fill="#2a2a2a" transform="rotate(-90 52.6 343.34)">20</text>
<text x="192.2" y="612.81" font-size="7.8" text-anchor="middle" fill="#2a2a2a">PC 1 ( 22.2 %)</text>
<text x="33.7" y="451.81" font-size="7.8" text-anchor="middle" fill="#2a2a2a" transform="rotate(-90 33.7 449)">PC 2 ( 13.1 %)</text>
<rect x="271.3" y="322.6" width="48.2" height="28" fill="#fff" stroke="#3a3a3a" stroke-width="0.9"/>
<circle cx="278.7" cy="331.9" r="1.9" fill="none" stroke="#f5a040" stroke-width="0.9"/>
<text x="286" y="334.71" font-size="7.8" text-anchor="start" fill="#2a2a2a">Acidified</text>
<circle cx="278.7" cy="341.5" r="1.9" fill="none" stroke="#30a8f0" stroke-width="0.9"/>
<text x="286" y="344.31" font-size="7.8" text-anchor="start" fill="#2a2a2a">Control</text>
<text x="18.6" y="307.7" font-size="14" font-weight="bold" fill="#111" dominant-baseline="text-before-edge">(c)</text>
<line x1="415.7" y1="324.3" x2="415.7" y2="576.1" stroke="#e2e2e2" stroke-width="0.8"/>
<line x1="456.8" y1="324.3" x2="456.8" y2="576.1" stroke="#e2e2e2" stroke-width="0.8"/>
<line x1="497.9" y1="324.3" x2="497.9" y2="576.1" stroke="#e2e2e2" stroke-width="0.8"/>
<line x1="539" y1="324.3" x2="539" y2="576.1" stroke="#e2e2e2" stroke-width="0.8"/>
<line x1="580.1" y1="324.3" x2="580.1" y2="576.1" stroke="#e2e2e2" stroke-width="0.8"/>
<line x1="621.2" y1="324.3" x2="621.2" y2="576.1" stroke="#e2e2e2" stroke-width="0.8"/>
<line x1="374.6" y1="562.35" x2="626.6" y2="562.35" stroke="#e2e2e2" stroke-width="0.8"/>
<line x1="374.6" y1="509.35" x2="626.6" y2="509.35" stroke="#e2e2e2" stroke-width="0.8"/>
<line x1="374.6" y1="456.35" x2="626.6" y2="456.35" stroke="#e2e2e2" stroke-width="0.8"/>
<line x1="374.6" y1="403.35" x2="626.6" y2="403.35" stroke="#e2e2e2" stroke-width="0.8"/>
<line x1="374.6" y1="350.35" x2="626.6" y2="350.35" stroke="#e2e2e2" stroke-width="0.8"/>
<path d="M574.29 376.34 L572.12 374.23 L569.87 372.2 L567.55 370.24 L565.17 368.36 L562.72 366.57 L560.21 364.85 L557.64 363.23 L555.01 361.69 L552.33 360.23 L549.6 358.87 L546.82 357.6 L544 356.42 L541.13 355.33 L538.22 354.34 L535.27 353.44 L532.29 352.64 L529.28 351.94 L526.24 351.33 L523.17 350.83 L520.08 350.42 L516.97 350.11 L513.85 349.9 L510.71 349.79 L507.56 349.79 L504.41 349.88 L501.25 350.07 L498.09 350.36 L494.94 350.75 L491.79 351.24 L488.65 351.83 L485.52 352.51 L482.4 353.29 L479.31 354.17 L476.23 355.15 L473.18 356.22 L470.16 357.38 L467.17 358.64 L464.21 359.98 L461.29 361.42 L458.41 362.95 L455.57 364.56 L452.77 366.26 L450.02 368.04 L447.33 369.9 L444.68 371.84 L442.1 373.86 L439.57 375.96 L437.1 378.13 L434.69 380.37 L432.35 382.68 L430.08 385.06 L427.88 387.51 L425.75 390.01 L423.7 392.58 L421.73 395.2 L419.83 397.88 L418.01 400.61 L416.28 403.39 L414.63 406.22 L413.06 409.09 L411.58 412 L410.2 414.95 L408.9 417.93 L407.69 420.95 L406.58 423.99 L405.56 427.06 L404.63 430.16 L403.81 433.27 L403.07 436.4 L402.44 439.55 L401.9 442.7 L401.46 445.86 L401.12 449.03 L400.88 452.2 L400.74 455.36 L400.7 458.52 L400.76 461.67 L400.92 464.81 L401.18 467.94 L401.53 471.05 L401.99 474.13 L402.54 477.2 L403.2 480.23 L403.95 483.24 L404.79 486.21 L405.73 489.15 L406.77 492.05 L407.9 494.9 L409.12 497.72 L410.44 500.48 L411.84 503.19 L413.33 505.85 L414.91 508.46 L416.58 511.01 L418.33 513.49 L420.16 515.92 L422.07 518.27 L424.06 520.56 L426.13 522.78 L428.27 524.93 L430.48 527 L432.76 529 L435.12 530.92 L437.53 532.75 L440.01 534.51 L442.55 536.18 L445.15 537.76 L447.8 539.26 L450.51 540.66 L453.26 541.98 L456.07 543.21 L458.92 544.34 L461.81 545.38 L464.73 546.33 L467.7 547.17 L470.7 547.93 L473.72 548.58 L476.78 549.14 L479.86 549.59 L482.95 549.95 L486.07 550.21 L489.2 550.37 L492.35 550.43 L495.5 550.39 L498.65 550.25 L501.81 550 L504.97 549.66 L508.12 549.22 L511.27 548.69 L514.4 548.05 L517.52 547.31 L520.63 546.48 L523.71 545.56 L526.78 544.53 L529.81 543.42 L532.82 542.21 L535.8 540.91 L538.74 539.51 L541.64 538.03 L544.5 536.46 L547.32 534.81 L550.09 533.07 L552.81 531.25 L555.48 529.34 L558.1 527.36 L560.66 525.3 L563.16 523.17 L565.59 520.96 L567.97 518.69 L570.27 516.34 L572.51 513.93 L574.67 511.45 L576.76 508.92 L578.78 506.32 L580.72 503.67 L582.57 500.96 L584.35 498.21 L586.04 495.41 L587.65 492.56 L589.17 489.67 L590.6 486.74 L591.95 483.77 L593.2 480.77 L594.36 477.74 L595.42 474.68 L596.4 471.6 L597.27 468.49 L598.05 465.37 L598.74 462.23 L599.32 459.08 L599.81 455.92 L600.2 452.76 L600.49 449.59 L600.68 446.43 L600.77 443.26 L600.76 440.11 L600.66 436.96 L600.45 433.83 L600.14 430.71 L599.73 427.61 L599.23 424.54 L598.62 421.49 L597.92 418.46 L597.13 415.47 L596.23 412.52 L595.24 409.6 L594.16 406.72 L592.98 403.89 L591.71 401.1 L590.35 398.36 L588.91 395.68 L587.37 393.04 L585.75 390.47 L584.04 387.95 L582.25 385.49 L580.38 383.1 L578.43 380.78 L576.4 378.52 L574.29 376.34 Z" fill="#40c070" fill-opacity="0.24" stroke="none"/>
<path d="M549.16 412.28 L547.11 410.39 L545 408.56 L542.84 406.78 L540.64 405.05 L538.39 403.39 L536.1 401.78 L533.76 400.24 L531.39 398.75 L528.98 397.34 L526.54 395.98 L524.07 394.7 L521.56 393.48 L519.03 392.33 L516.48 391.26 L513.91 390.25 L511.32 389.32 L508.71 388.46 L506.08 387.68 L503.45 386.97 L500.81 386.33 L498.16 385.78 L495.51 385.3 L492.86 384.9 L490.21 384.57 L487.57 384.33 L484.94 384.16 L482.31 384.08 L479.7 384.07 L477.1 384.14 L474.52 384.29 L471.96 384.51 L469.43 384.82 L466.92 385.21 L464.43 385.67 L461.98 386.21 L459.56 386.82 L457.18 387.52 L454.84 388.28 L452.53 389.13 L450.27 390.04 L448.05 391.03 L445.88 392.09 L443.76 393.23 L441.69 394.43 L439.67 395.7 L437.71 397.04 L435.8 398.44 L433.96 399.91 L432.17 401.44 L430.45 403.04 L428.8 404.69 L427.2 406.4 L425.68 408.17 L424.23 409.99 L422.84 411.87 L421.53 413.8 L420.29 415.77 L419.13 417.8 L418.04 419.87 L417.03 421.98 L416.1 424.13 L415.24 426.33 L414.47 428.56 L413.78 430.82 L413.16 433.12 L412.63 435.44 L412.18 437.8 L411.82 440.18 L411.53 442.58 L411.33 445 L411.22 447.44 L411.18 449.9 L411.23 452.37 L411.37 454.85 L411.59 457.34 L411.89 459.84 L412.27 462.34 L412.74 464.84 L413.29 467.33 L413.92 469.83 L414.63 472.31 L415.42 474.79 L416.29 477.26 L417.24 479.71 L418.27 482.15 L419.37 484.57 L420.55 486.96 L421.81 489.33 L423.13 491.68 L424.53 494 L426 496.29 L427.54 498.54 L429.15 500.76 L430.82 502.94 L432.55 505.08 L434.35 507.18 L436.21 509.24 L438.13 511.25 L440.1 513.22 L442.13 515.13 L444.21 516.99 L446.34 518.8 L448.52 520.55 L450.75 522.25 L453.02 523.88 L455.34 525.46 L457.69 526.97 L460.08 528.42 L462.51 529.81 L464.96 531.13 L467.45 532.38 L469.97 533.56 L472.51 534.67 L475.07 535.71 L477.66 536.68 L480.26 537.58 L482.87 538.4 L485.5 539.15 L488.14 539.82 L490.78 540.41 L493.43 540.93 L496.08 541.37 L498.73 541.73 L501.38 542.02 L504.02 542.22 L506.65 542.35 L509.27 542.4 L511.87 542.37 L514.46 542.26 L517.03 542.07 L519.58 541.8 L522.1 541.46 L524.6 541.03 L527.07 540.53 L529.5 539.95 L531.9 539.3 L534.27 538.57 L536.59 537.76 L538.88 536.88 L541.12 535.93 L543.31 534.9 L545.46 533.81 L547.55 532.64 L549.6 531.4 L551.59 530.1 L553.52 528.73 L555.4 527.29 L557.21 525.79 L558.97 524.23 L560.65 522.6 L562.28 520.92 L563.84 519.18 L565.33 517.38 L566.74 515.53 L568.09 513.63 L569.37 511.68 L570.57 509.68 L571.69 507.63 L572.74 505.54 L573.72 503.41 L574.61 501.23 L575.42 499.02 L576.16 496.77 L576.81 494.49 L577.38 492.18 L577.87 489.84 L578.28 487.47 L578.61 485.08 L578.85 482.67 L579.01 480.24 L579.08 477.79 L579.07 475.32 L578.98 472.85 L578.8 470.36 L578.54 467.87 L578.2 465.37 L577.78 462.87 L577.27 460.37 L576.68 457.88 L576.01 455.39 L575.26 452.9 L574.42 450.43 L573.51 447.97 L572.52 445.53 L571.46 443.1 L570.32 440.69 L569.1 438.31 L567.81 435.95 L566.45 433.62 L565.01 431.31 L563.51 429.04 L561.94 426.8 L560.3 424.6 L558.59 422.44 L556.83 420.32 L555 418.24 L553.11 416.21 L551.16 414.22 L549.16 412.28 Z" fill="#6c6ca4" fill-opacity="0.2" stroke="none"/>
<circle cx="564.44" cy="463.77" r="3.2" fill="#34b45c" fill-opacity="0.55" stroke="#1a1a1a" stroke-width="0.8"/>
<circle cx="554.04" cy="460.11" r="3.2" fill="#34b45c" fill-opacity="0.55" stroke="#1a1a1a" stroke-width="0.8"/>
<circle cx="529.05" cy="468.49" r="3.2" fill="#34b45c" fill-opacity="0.55" stroke="#1a1a1a" stroke-width="0.8"/>
<circle cx="522.52" cy="475.54" r="3.2" fill="#a09cff" fill-opacity="0.55" stroke="#1a1a1a" stroke-width="0.8"/>
<circle cx="544.67" cy="480.52" r="3.2" fill="#a09cff" fill-opacity="0.55" stroke="#1a1a1a" stroke-width="0.8"/>
<circle cx="539.53" cy="481.1" r="3.2" fill="#34b45c" fill-opacity="0.55" stroke="#1a1a1a" stroke-width="0.8"/>
<circle cx="540.89" cy="482.59" r="3.2" fill="#a09cff" fill-opacity="0.55" stroke="#1a1a1a" stroke-width="0.8"/>
<circle cx="531.73" cy="486.77" r="3.2" fill="#a09cff" fill-opacity="0.55" stroke="#1a1a1a" stroke-width="0.8"/>
<circle cx="530.33" cy="491.81" r="3.2" fill="#34b45c" fill-opacity="0.55" stroke="#1a1a1a" stroke-width="0.8"/>
<circle cx="520.05" cy="494.35" r="3.2" fill="#a09cff" fill-opacity="0.55" stroke="#1a1a1a" stroke-width="0.8"/>
<circle cx="513.81" cy="497.69" r="3.2" fill="#a09cff" fill-opacity="0.55" stroke="#1a1a1a" stroke-width="0.8"/>
<circle cx="507.11" cy="495.57" r="3.2" fill="#34b45c" fill-opacity="0.55" stroke="#1a1a1a" stroke-width="0.8"/>
<circle cx="466.05" cy="509.14" r="3.2" fill="#a09cff" fill-opacity="0.55" stroke="#1a1a1a" stroke-width="0.8"/>
<circle cx="465.39" cy="520.75" r="3.2" fill="#34b45c" fill-opacity="0.55" stroke="#1a1a1a" stroke-width="0.8"/>
<circle cx="478.87" cy="451.58" r="3.2" fill="#34b45c" fill-opacity="0.55" stroke="#1a1a1a" stroke-width="0.8"/>
<circle cx="449.94" cy="470.82" r="3.2" fill="#a09cff" fill-opacity="0.55" stroke="#1a1a1a" stroke-width="0.8"/>
<circle cx="525.48" cy="381.09" r="3.2" fill="#34b45c" fill-opacity="0.55" stroke="#1a1a1a" stroke-width="0.8"/>
<circle cx="516.97" cy="391.05" r="3.2" fill="#a09cff" fill-opacity="0.55" stroke="#1a1a1a" stroke-width="0.8"/>
<circle cx="504.72" cy="403.72" r="3.2" fill="#34b45c" fill-opacity="0.55" stroke="#1a1a1a" stroke-width="0.8"/>
<circle cx="493.83" cy="408.86" r="3.2" fill="#34b45c" fill-opacity="0.55" stroke="#1a1a1a" stroke-width="0.8"/>
<circle cx="491.65" cy="409.66" r="3.2" fill="#34b45c" fill-opacity="0.55" stroke="#1a1a1a" stroke-width="0.8"/>
<circle cx="489.31" cy="408.12" r="3.2" fill="#34b45c" fill-opacity="0.55" stroke="#1a1a1a" stroke-width="0.8"/>
<circle cx="497.9" cy="414.64" r="3.2" fill="#a09cff" fill-opacity="0.55" stroke="#1a1a1a" stroke-width="0.8"/>
<circle cx="478.42" cy="419.57" r="3.2" fill="#34b45c" fill-opacity="0.55" stroke="#1a1a1a" stroke-width="0.8"/>
<circle cx="472.21" cy="437" r="3.2" fill="#a09cff" fill-opacity="0.55" stroke="#1a1a1a" stroke-width="0.8"/>
<circle cx="478.62" cy="442.78" r="3.2" fill="#a09cff" fill-opacity="0.55" stroke="#1a1a1a" stroke-width="0.8"/>
<circle cx="459.55" cy="444.48" r="3.2" fill="#34b45c" fill-opacity="0.55" stroke="#1a1a1a" stroke-width="0.8"/>
<circle cx="472.79" cy="448.19" r="3.2" fill="#a09cff" fill-opacity="0.55" stroke="#1a1a1a" stroke-width="0.8"/>
<circle cx="452.4" cy="459.64" r="3.2" fill="#a09cff" fill-opacity="0.55" stroke="#1a1a1a" stroke-width="0.8"/>
<circle cx="446.48" cy="457.73" r="3.2" fill="#a09cff" fill-opacity="0.55" stroke="#1a1a1a" stroke-width="0.8"/>
<circle cx="400.12" cy="492.97" r="3.2" fill="#34b45c" fill-opacity="0.55" stroke="#1a1a1a" stroke-width="0.8"/>
<rect x="374.6" y="324.3" width="252" height="251.8" fill="none" stroke="#3a3a3a" stroke-width="0.9"/>
<line x1="374.6" y1="576.1" x2="374.6" y2="581.1" stroke="#3a3a3a" stroke-width="0.9"/>
<text x="374.6" y="594.42" font-size="8.1" text-anchor="middle" fill="#2a2a2a">-30</text>
<line x1="415.7" y1="576.1" x2="415.7" y2="581.1" stroke="#3a3a3a" stroke-width="0.9"/>
<text x="415.7" y="594.42" font-size="8.1" text-anchor="middle" fill="#2a2a2a">-20</text>
<line x1="456.8" y1="576.1" x2="456.8" y2="581.1" stroke="#3a3a3a" stroke-width="0.9"/>
<text x="456.8" y="594.42" font-size="8.1" text-anchor="middle" fill="#2a2a2a">-10</text>
<line x1="497.9" y1="576.1" x2="497.9" y2="581.1" stroke="#3a3a3a" stroke-width="0.9"/>
<text x="497.9" y="594.42" font-size="8.1" text-anchor="middle" fill="#2a2a2a">0</text>
<line x1="539" y1="576.1" x2="539" y2="581.1" stroke="#3a3a3a" stroke-width="0.9"/>
<text x="539" y="594.42" font-size="8.1" text-anchor="middle" fill="#2a2a2a">10</text>
<line x1="580.1" y1="576.1" x2="580.1" y2="581.1" stroke="#3a3a3a" stroke-width="0.9"/>
<text x="580.1" y="594.42" font-size="8.1" text-anchor="middle" fill="#2a2a2a">20</text>
<line x1="621.2" y1="576.1" x2="621.2" y2="581.1" stroke="#3a3a3a" stroke-width="0.9"/>
<text x="621.2" y="594.42" font-size="8.1" text-anchor="middle" fill="#2a2a2a">30</text>
<line x1="369.6" y1="562.35" x2="374.6" y2="562.35" stroke="#3a3a3a" stroke-width="0.9"/>
<text x="361.4" y="565.27" font-size="8.1" text-anchor="middle" fill="#2a2a2a" transform="rotate(-90 361.4 562.35)">-20</text>
<line x1="369.6" y1="509.35" x2="374.6" y2="509.35" stroke="#3a3a3a" stroke-width="0.9"/>
<text x="361.4" y="512.27" font-size="8.1" text-anchor="middle" fill="#2a2a2a" transform="rotate(-90 361.4 509.35)">-10</text>
<line x1="369.6" y1="456.35" x2="374.6" y2="456.35" stroke="#3a3a3a" stroke-width="0.9"/>
<text x="361.4" y="459.27" font-size="8.1" text-anchor="middle" fill="#2a2a2a" transform="rotate(-90 361.4 456.35)">0</text>
<line x1="369.6" y1="403.35" x2="374.6" y2="403.35" stroke="#3a3a3a" stroke-width="0.9"/>
<text x="361.4" y="406.27" font-size="8.1" text-anchor="middle" fill="#2a2a2a" transform="rotate(-90 361.4 403.35)">10</text>
<line x1="369.6" y1="350.35" x2="374.6" y2="350.35" stroke="#3a3a3a" stroke-width="0.9"/>
<text x="361.4" y="353.27" font-size="8.1" text-anchor="middle" fill="#2a2a2a" transform="rotate(-90 361.4 350.35)">20</text>
<text x="500.1" y="612.51" font-size="7.8" text-anchor="middle" fill="#2a2a2a">PC 1 ( 22.2 %)</text>
<rect x="597.6" y="324.4" width="29" height="27.9" fill="#fff" stroke="#3a3a3a" stroke-width="0.9"/>
<circle cx="605" cy="333.7" r="1.9" fill="none" stroke="#9a9af0" stroke-width="0.9"/>
<text x="612" y="336.51" font-size="7.8" text-anchor="start" fill="#2a2a2a">DE</text>
<circle cx="605" cy="343.1" r="1.9" fill="none" stroke="#40b060" stroke-width="0.9"/>
<text x="612" y="345.91" font-size="7.8" text-anchor="start" fill="#2a2a2a">SE</text>
<text x="344.8" y="306.9" font-size="14" font-weight="bold" fill="#111" dominant-baseline="text-before-edge">(d)</text>
<text x="334.5" y="1.9" font-size="14" font-weight="bold" fill="#111" dominant-baseline="text-before-edge">(b)</text>
<rect x="360.2" y="20.8" width="3" height="3" fill="#ff00ff"/>
<text x="367" y="24.96" font-size="6.0" text-anchor="start" fill="#2a2a2a">AA</text>
<rect x="360.2" y="27.9" width="3" height="3" fill="#0000ff"/>
<text x="367" y="31.56" font-size="6.0" text-anchor="start" fill="#2a2a2a">AC</text>
<rect x="360.2" y="34.8" width="3" height="3" fill="#00ff00"/>
<text x="367" y="38.96" font-size="6.0" text-anchor="start" fill="#2a2a2a">CA</text>
<rect x="360.2" y="41.9" width="3" height="3" fill="#ffff00"/>
<text x="367" y="45.56" font-size="6.0" text-anchor="start" fill="#2a2a2a">CC</text>
<text x="603" y="31.1" font-size="5.0" text-anchor="start" fill="#eeee22">CC_188</text>
<text x="603" y="39.33" font-size="5.0" text-anchor="start" fill="#eeee22">CC_174</text>
<text x="603" y="47.56" font-size="5.0" text-anchor="start" fill="#eeee22">CC_172</text>
<text x="603" y="55.8" font-size="5.0" text-anchor="start" fill="#33ee33">CA_78</text>
<text x="603" y="64.03" font-size="5.0" text-anchor="start" fill="#33ee33">CA_67</text>
<text x="603" y="72.26" font-size="5.0" text-anchor="start" fill="#33ee33">CA_61</text>
<text x="603" y="80.49" font-size="5.0" text-anchor="start" fill="#33ee33">CA_66</text>
<text x="603" y="88.72" font-size="5.0" text-anchor="start" fill="#ff33ff">AA_449</text>
<text x="603" y="96.96" font-size="5.0" text-anchor="start" fill="#eeee22">CC_189</text>
<text x="603" y="105.19" font-size="5.0" text-anchor="start" fill="#eeee22">CC_187</text>
<text x="603" y="113.42" font-size="5.0" text-anchor="start" fill="#eeee22">CC_171</text>
<text x="603" y="121.65" font-size="5.0" text-anchor="start" fill="#33ee33">CA_82</text>
<text x="603" y="129.88" font-size="5.0" text-anchor="start" fill="#33ee33">CA_73</text>
<text x="603" y="138.12" font-size="5.0" text-anchor="start" fill="#4444ff">AC_576</text>
<text x="603" y="146.35" font-size="5.0" text-anchor="start" fill="#eeee22">CC_186</text>
<text x="603" y="154.58" font-size="5.0" text-anchor="start" fill="#eeee22">CC_185</text>
<text x="603" y="162.81" font-size="5.0" text-anchor="start" fill="#33ee33">CA_87</text>
<text x="603" y="171.04" font-size="5.0" text-anchor="start" fill="#4444ff">AC_574</text>
<text x="603" y="179.28" font-size="5.0" text-anchor="start" fill="#ff33ff">AA_454</text>
<text x="603" y="187.51" font-size="5.0" text-anchor="start" fill="#4444ff">AC_595</text>
<text x="603" y="195.74" font-size="5.0" text-anchor="start" fill="#ff33ff">AA_465</text>
<text x="603" y="203.97" font-size="5.0" text-anchor="start" fill="#ff33ff">AA_462</text>
<text x="603" y="212.2" font-size="5.0" text-anchor="start" fill="#ff33ff">AA_453</text>
<text x="603" y="220.44" font-size="5.0" text-anchor="start" fill="#ff33ff">AA_445</text>
<text x="603" y="228.67" font-size="5.0" text-anchor="start" fill="#ff33ff">AA_452</text>
<text x="603" y="236.9" font-size="5.0" text-anchor="start" fill="#4444ff">AC_573</text>
<text x="603" y="245.13" font-size="5.0" text-anchor="start" fill="#4444ff">AC_570</text>
<text x="603" y="253.36" font-size="5.0" text-anchor="start" fill="#4444ff">AC_575</text>
<text x="603" y="261.6" font-size="5.0" text-anchor="start" fill="#ff33ff">AA_446</text>
<text x="603" y="269.83" font-size="5.0" text-anchor="start" fill="#4444ff">AC_558</text>
<text x="603" y="278.06" font-size="5.0" text-anchor="start" fill="#4444ff">AC_586</text>
<line x1="556.7" y1="29.3" x2="600.6" y2="29.3" stroke="#555" stroke-width="0.85"/>
<line x1="556.7" y1="37.53" x2="600.6" y2="37.53" stroke="#555" stroke-width="0.85"/>
<line x1="556.7" y1="29.3" x2="556.7" y2="37.53" stroke="#555" stroke-width="0.85"/>
<line x1="542.6" y1="33.42" x2="556.7" y2="33.42" stroke="#555" stroke-width="0.85"/>
<line x1="542.6" y1="45.76" x2="600.6" y2="45.76" stroke="#555" stroke-width="0.85"/>
<line x1="542.6" y1="33.42" x2="542.6" y2="45.76" stroke="#555" stroke-width="0.85"/>
<line x1="530.7" y1="39.59" x2="542.6" y2="39.59" stroke="#555" stroke-width="0.85"/>
<line x1="530.7" y1="54" x2="600.6" y2="54" stroke="#555" stroke-width="0.85"/>
<line x1="530.7" y1="39.59" x2="530.7" y2="54" stroke="#555" stroke-width="0.85"/>
<line x1="548.9" y1="62.23" x2="600.6" y2="62.23" stroke="#555" stroke-width="0.85"/>
<line x1="548.9" y1="70.46" x2="600.6" y2="70.46" stroke="#555" stroke-width="0.85"/>
<line x1="548.9" y1="62.23" x2="548.9" y2="70.46" stroke="#555" stroke-width="0.85"/>
<line x1="555.5" y1="78.69" x2="600.6" y2="78.69" stroke="#555" stroke-width="0.85"/>
<line x1="555.5" y1="86.92" x2="600.6" y2="86.92" stroke="#555" stroke-width="0.85"/>
<line x1="555.5" y1="78.69" x2="555.5" y2="86.92" stroke="#555" stroke-width="0.85"/>
<line x1="542.2" y1="66.34" x2="548.9" y2="66.34" stroke="#555" stroke-width="0.85"/>
<line x1="542.2" y1="82.81" x2="555.5" y2="82.81" stroke="#555" stroke-width="0.85"/>
<line x1="542.2" y1="66.34" x2="542.2" y2="82.81" stroke="#555" stroke-width="0.85"/>
<line x1="511.1" y1="46.79" x2="530.7" y2="46.79" stroke="#555" stroke-width="0.85"/>
<line x1="511.1" y1="74.58" x2="542.2" y2="74.58" stroke="#555" stroke-width="0.85"/>
<line x1="511.1" y1="46.79" x2="511.1" y2="74.58" stroke="#555" stroke-width="0.85"/>
<line x1="551" y1="95.16" x2="600.6" y2="95.16" stroke="#555" stroke-width="0.85"/>
<line x1="551" y1="103.39" x2="600.6" y2="103.39" stroke="#555" stroke-width="0.85"/>
<line x1="551" y1="95.16" x2="551" y2="103.39" stroke="#555" stroke-width="0.85"/>
<line x1="546.2" y1="99.27" x2="551" y2="99.27" stroke="#555" stroke-width="0.85"/>
<line x1="546.2" y1="111.62" x2="600.6" y2="111.62" stroke="#555" stroke-width="0.85"/>
<line x1="546.2" y1="99.27" x2="546.2" y2="111.62" stroke="#555" stroke-width="0.85"/>
<line x1="521.7" y1="105.45" x2="546.2" y2="105.45" stroke="#555" stroke-width="0.85"/>
<line x1="521.7" y1="119.85" x2="600.6" y2="119.85" stroke="#555" stroke-width="0.85"/>
<line x1="521.7" y1="105.45" x2="521.7" y2="119.85" stroke="#555" stroke-width="0.85"/>
<line x1="487.4" y1="60.68" x2="511.1" y2="60.68" stroke="#555" stroke-width="0.85"/>
<line x1="487.4" y1="112.65" x2="521.7" y2="112.65" stroke="#555" stroke-width="0.85"/>
<line x1="487.4" y1="60.68" x2="487.4" y2="112.65" stroke="#555" stroke-width="0.85"/>
<line x1="543.4" y1="128.08" x2="600.6" y2="128.08" stroke="#555" stroke-width="0.85"/>
<line x1="543.4" y1="136.32" x2="600.6" y2="136.32" stroke="#555" stroke-width="0.85"/>
<line x1="543.4" y1="128.08" x2="543.4" y2="136.32" stroke="#555" stroke-width="0.85"/>
<line x1="522.1" y1="132.2" x2="543.4" y2="132.2" stroke="#555" stroke-width="0.85"/>
<line x1="522.1" y1="144.55" x2="600.6" y2="144.55" stroke="#555" stroke-width="0.85"/>
<line x1="522.1" y1="132.2" x2="522.1" y2="144.55" stroke="#555" stroke-width="0.85"/>
<line x1="547.7" y1="152.78" x2="600.6" y2="152.78" stroke="#555" stroke-width="0.85"/>
<line x1="547.7" y1="161.01" x2="600.6" y2="161.01" stroke="#555" stroke-width="0.85"/>
<line x1="547.7" y1="152.78" x2="547.7" y2="161.01" stroke="#555" stroke-width="0.85"/>
<line x1="539" y1="156.9" x2="547.7" y2="156.9" stroke="#555" stroke-width="0.85"/>
<line x1="539" y1="169.24" x2="600.6" y2="169.24" stroke="#555" stroke-width="0.85"/>
<line x1="539" y1="156.9" x2="539" y2="169.24" stroke="#555" stroke-width="0.85"/>
<line x1="533.1" y1="163.07" x2="539" y2="163.07" stroke="#555" stroke-width="0.85"/>
<line x1="533.1" y1="177.48" x2="600.6" y2="177.48" stroke="#555" stroke-width="0.85"/>
<line x1="533.1" y1="163.07" x2="533.1" y2="177.48" stroke="#555" stroke-width="0.85"/>
<line x1="505" y1="138.37" x2="522.1" y2="138.37" stroke="#555" stroke-width="0.85"/>
<line x1="505" y1="170.27" x2="533.1" y2="170.27" stroke="#555" stroke-width="0.85"/>
<line x1="505" y1="138.37" x2="505" y2="170.27" stroke="#555" stroke-width="0.85"/>
<line x1="444.3" y1="86.67" x2="487.4" y2="86.67" stroke="#555" stroke-width="0.85"/>
<line x1="444.3" y1="154.32" x2="505" y2="154.32" stroke="#555" stroke-width="0.85"/>
<line x1="444.3" y1="86.67" x2="444.3" y2="154.32" stroke="#555" stroke-width="0.85"/>
<line x1="553.4" y1="185.71" x2="600.6" y2="185.71" stroke="#555" stroke-width="0.85"/>
<line x1="553.4" y1="193.94" x2="600.6" y2="193.94" stroke="#555" stroke-width="0.85"/>
<line x1="553.4" y1="185.71" x2="553.4" y2="193.94" stroke="#555" stroke-width="0.85"/>
<line x1="548.7" y1="189.82" x2="553.4" y2="189.82" stroke="#555" stroke-width="0.85"/>
<line x1="548.7" y1="202.17" x2="600.6" y2="202.17" stroke="#555" stroke-width="0.85"/>
<line x1="548.7" y1="189.82" x2="548.7" y2="202.17" stroke="#555" stroke-width="0.85"/>
<line x1="556.9" y1="210.4" x2="600.6" y2="210.4" stroke="#555" stroke-width="0.85"/>
<line x1="556.9" y1="218.64" x2="600.6" y2="218.64" stroke="#555" stroke-width="0.85"/>
<line x1="556.9" y1="210.4" x2="556.9" y2="218.64" stroke="#555" stroke-width="0.85"/>
<line x1="549.8" y1="214.52" x2="556.9" y2="214.52" stroke="#555" stroke-width="0.85"/>
<line x1="549.8" y1="226.87" x2="600.6" y2="226.87" stroke="#555" stroke-width="0.85"/>
<line x1="549.8" y1="214.52" x2="549.8" y2="226.87" stroke="#555" stroke-width="0.85"/>
<line x1="521.2" y1="196" x2="548.7" y2="196" stroke="#555" stroke-width="0.85"/>
<line x1="521.2" y1="220.69" x2="549.8" y2="220.69" stroke="#555" stroke-width="0.85"/>
<line x1="521.2" y1="196" x2="521.2" y2="220.69" stroke="#555" stroke-width="0.85"/>
<line x1="555.5" y1="235.1" x2="600.6" y2="235.1" stroke="#555" stroke-width="0.85"/>
<line x1="555.5" y1="243.33" x2="600.6" y2="243.33" stroke="#555" stroke-width="0.85"/>
<line x1="555.5" y1="235.1" x2="555.5" y2="243.33" stroke="#555" stroke-width="0.85"/>
<line x1="550.4" y1="239.22" x2="555.5" y2="239.22" stroke="#555" stroke-width="0.85"/>
<line x1="550.4" y1="251.56" x2="600.6" y2="251.56" stroke="#555" stroke-width="0.85"/>
<line x1="550.4" y1="239.22" x2="550.4" y2="251.56" stroke="#555" stroke-width="0.85"/>
<line x1="546.6" y1="245.39" x2="550.4" y2="245.39" stroke="#555" stroke-width="0.85"/>
<line x1="546.6" y1="259.8" x2="600.6" y2="259.8" stroke="#555" stroke-width="0.85"/>
<line x1="546.6" y1="245.39" x2="546.6" y2="259.8" stroke="#555" stroke-width="0.85"/>
<line x1="540.7" y1="252.59" x2="546.6" y2="252.59" stroke="#555" stroke-width="0.85"/>
<line x1="540.7" y1="268.03" x2="600.6" y2="268.03" stroke="#555" stroke-width="0.85"/>
<line x1="540.7" y1="252.59" x2="540.7" y2="268.03" stroke="#555" stroke-width="0.85"/>
<line x1="522.9" y1="260.31" x2="540.7" y2="260.31" stroke="#555" stroke-width="0.85"/>
<line x1="522.9" y1="276.26" x2="600.6" y2="276.26" stroke="#555" stroke-width="0.85"/>
<line x1="522.9" y1="260.31" x2="522.9" y2="276.26" stroke="#555" stroke-width="0.85"/>
<line x1="501.1" y1="208.35" x2="521.2" y2="208.35" stroke="#555" stroke-width="0.85"/>
<line x1="501.1" y1="268.29" x2="522.9" y2="268.29" stroke="#555" stroke-width="0.85"/>
<line x1="501.1" y1="208.35" x2="501.1" y2="268.29" stroke="#555" stroke-width="0.85"/>
<line x1="365.7" y1="120.5" x2="444.3" y2="120.5" stroke="#555" stroke-width="0.85"/>
<line x1="365.7" y1="238.32" x2="501.1" y2="238.32" stroke="#555" stroke-width="0.85"/>
<line x1="365.7" y1="120.5" x2="365.7" y2="238.32" stroke="#555" stroke-width="0.85"/>
<line x1="383.8" y1="290.5" x2="600.6" y2="290.5" stroke="#555" stroke-width="0.9"/>
<line x1="383.7" y1="290.5" x2="383.7" y2="293.7" stroke="#555" stroke-width="0.9"/>
<text x="383.7" y="301.66" font-size="4.6" text-anchor="middle" fill="#444">80</text>
<line x1="438" y1="290.5" x2="438" y2="293.7" stroke="#555" stroke-width="0.9"/>
<text x="438" y="301.66" font-size="4.6" text-anchor="middle" fill="#444">60</text>
<line x1="492.3" y1="290.5" x2="492.3" y2="293.7" stroke="#555" stroke-width="0.9"/>
<text x="492.3" y="301.66" font-size="4.6" text-anchor="middle" fill="#444">40</text>
<line x1="546.6" y1="290.5" x2="546.6" y2="293.7" stroke="#555" stroke-width="0.9"/>
<text x="546.6" y="301.66" font-size="4.6" text-anchor="middle" fill="#444">20</text>
<line x1="600.9" y1="290.5" x2="600.9" y2="293.7" stroke="#555" stroke-width="0.9"/>
<text x="600.9" y="301.66" font-size="4.6" text-anchor="middle" fill="#444">0</text>
<text x="30.5" y="617.1" font-size="14" font-weight="bold" fill="#111" dominant-baseline="text-before-edge">(e)</text>
<circle cx="196.6" cy="879.29" r="1.45" fill="#c2c2c2" stroke="#b6b6b6" stroke-width="0.4"/>
<circle cx="194.45" cy="876.96" r="1.45" fill="#c2c2c2" stroke="#b6b6b6" stroke-width="0.4"/>
<circle cx="193.55" cy="877.17" r="1.45" fill="#c2c2c2" stroke="#b6b6b6" stroke-width="0.4"/>
<circle cx="201.57" cy="870.59" r="1.45" fill="#c2c2c2" stroke="#b6b6b6" stroke-width="0.4"/>
<circle cx="193.42" cy="875.51" r="1.45" fill="#c2c2c2" stroke="#b6b6b6" stroke-width="0.4"/>
<circle cx="184.06" cy="869.26" r="1.45" fill="#c2c2c2" stroke="#b6b6b6" stroke-width="0.4"/>
<circle cx="197.03" cy="878.87" r="1.45" fill="#c2c2c2" stroke="#b6b6b6" stroke-width="0.4"/>
<circle cx="175.75" cy="864.08" r="1.45" fill="#c2c2c2" stroke="#b6b6b6" stroke-width="0.4"/>
<circle cx="194.45" cy="875.14" r="1.45" fill="#c2c2c2" stroke="#b6b6b6" stroke-width="0.4"/>
<circle cx="191.14" cy="873.8" r="1.45" fill="#c2c2c2" stroke="#b6b6b6" stroke-width="0.4"/>
<circle cx="203.55" cy="875.16" r="1.45" fill="#c2c2c2" stroke="#b6b6b6" stroke-width="0.4"/>
<circle cx="191.76" cy="876.44" r="1.45" fill="#c2c2c2" stroke="#b6b6b6" stroke-width="0.4"/>
<circle cx="193.98" cy="878.54" r="1.45" fill="#c2c2c2" stroke="#b6b6b6" stroke-width="0.4"/>
<circle cx="184.75" cy="870.08" r="1.45" fill="#c2c2c2" stroke="#b6b6b6" stroke-width="0.4"/>
<circle cx="197.01" cy="879.09" r="1.45" fill="#c2c2c2" stroke="#b6b6b6" stroke-width="0.4"/>
<circle cx="199.35" cy="872.96" r="1.45" fill="#c2c2c2" stroke="#b6b6b6" stroke-width="0.4"/>
<circle cx="182.26" cy="864.02" r="1.45" fill="#c2c2c2" stroke="#b6b6b6" stroke-width="0.4"/>
<circle cx="198.83" cy="875.48" r="1.45" fill="#c2c2c2" stroke="#b6b6b6" stroke-width="0.4"/>
<circle cx="208.41" cy="853.77" r="1.45" fill="#c2c2c2" stroke="#b6b6b6" stroke-width="0.4"/>
<circle cx="186.23" cy="864.89" r="1.45" fill="#c2c2c2" stroke="#b6b6b6" stroke-width="0.4"/>
<circle cx="182.1" cy="854.98" r="1.45" fill="#c2c2c2" stroke="#b6b6b6" stroke-width="0.4"/>
<circle cx="197.17" cy="877.5" r="1.45" fill="#c2c2c2" stroke="#b6b6b6" stroke-width="0.4"/>
<circle cx="210.53" cy="865.24" r="1.45" fill="#c2c2c2" stroke="#b6b6b6" stroke-width="0.4"/>
<circle cx="193.62" cy="877.2" r="1.45" fill="#c2c2c2" stroke="#b6b6b6" stroke-width="0.4"/>
<circle cx="198.77" cy="878.14" r="1.45" fill="#c2c2c2" stroke="#b6b6b6" stroke-width="0.4"/>
<circle cx="194.5" cy="877.9" r="1.45" fill="#c2c2c2" stroke="#b6b6b6" stroke-width="0.4"/>
<circle cx="178.97" cy="839.52" r="1.45" fill="#c2c2c2" stroke="#b6b6b6" stroke-width="0.4"/>
<circle cx="186.63" cy="874.67" r="1.45" fill="#c2c2c2" stroke="#b6b6b6" stroke-width="0.4"/>
<circle cx="194.24" cy="878.96" r="1.45" fill="#c2c2c2" stroke="#b6b6b6" stroke-width="0.4"/>
<circle cx="198.75" cy="878.48" r="1.45" fill="#c2c2c2" stroke="#b6b6b6" stroke-width="0.4"/>
<circle cx="204.52" cy="860.87" r="1.45" fill="#c2c2c2" stroke="#b6b6b6" stroke-width="0.4"/>
<circle cx="190.56" cy="875.28" r="1.45" fill="#c2c2c2" stroke="#b6b6b6" stroke-width="0.4"/>
<circle cx="206.19" cy="869.44" r="1.45" fill="#c2c2c2" stroke="#b6b6b6" stroke-width="0.4"/>
<circle cx="193.89" cy="871.62" r="1.45" fill="#c2c2c2" stroke="#b6b6b6" stroke-width="0.4"/>
<circle cx="208.3" cy="868.31" r="1.45" fill="#c2c2c2" stroke="#b6b6b6" stroke-width="0.4"/>
<circle cx="202.63" cy="871.63" r="1.45" fill="#c2c2c2" stroke="#b6b6b6" stroke-width="0.4"/>
<circle cx="195.25" cy="879.07" r="1.45" fill="#c2c2c2" stroke="#b6b6b6" stroke-width="0.4"/>
<circle cx="202.43" cy="870.67" r="1.45" fill="#c2c2c2" stroke="#b6b6b6" stroke-width="0.4"/>
<circle cx="198.2" cy="874.19" r="1.45" fill="#c2c2c2" stroke="#b6b6b6" stroke-width="0.4"/>
<circle cx="196.94" cy="878.49" r="1.45" fill="#c2c2c2" stroke="#b6b6b6" stroke-width="0.4"/>
<circle cx="193.48" cy="878.5" r="1.45" fill="#c2c2c2" stroke="#b6b6b6" stroke-width="0.4"/>
<circle cx="195.45" cy="878.85" r="1.45" fill="#c2c2c2" stroke="#b6b6b6" stroke-width="0.4"/>
<circle cx="179.91" cy="865.89" r="1.45" fill="#c2c2c2" stroke="#b6b6b6" stroke-width="0.4"/>
<circle cx="196.92" cy="878.75" r="1.45" fill="#c2c2c2" stroke="#b6b6b6" stroke-width="0.4"/>
<circle cx="180.18" cy="863.78" r="1.45" fill="#c2c2c2" stroke="#b6b6b6" stroke-width="0.4"/>
<circle cx="210.69" cy="860.57" r="1.45" fill="#c2c2c2" stroke="#b6b6b6" stroke-width="0.4"/>
<circle cx="190.81" cy="870.99" r="1.45" fill="#c2c2c2" stroke="#b6b6b6" stroke-width="0.4"/>
<circle cx="197.4" cy="878.43" r="1.45" fill="#c2c2c2" stroke="#b6b6b6" stroke-width="0.4"/>
<circle cx="199.72" cy="873.57" r="1.45" fill="#c2c2c2" stroke="#b6b6b6" stroke-width="0.4"/>
<circle cx="222.45" cy="851.68" r="1.45" fill="#c2c2c2" stroke="#b6b6b6" stroke-width="0.4"/>
<circle cx="205.5" cy="872.18" r="1.45" fill="#c2c2c2" stroke="#b6b6b6" stroke-width="0.4"/>
<circle cx="182.84" cy="866.29" r="1.45" fill="#c2c2c2" stroke="#b6b6b6" stroke-width="0.4"/>
<circle cx="196.74" cy="878.77" r="1.45" fill="#c2c2c2" stroke="#b6b6b6" stroke-width="0.4"/>
<circle cx="199.8" cy="874.27" r="1.45" fill="#c2c2c2" stroke="#b6b6b6" stroke-width="0.4"/>
<circle cx="200.1" cy="877.88" r="1.45" fill="#c2c2c2" stroke="#b6b6b6" stroke-width="0.4"/>
<circle cx="199.22" cy="873.1" r="1.45" fill="#c2c2c2" stroke="#b6b6b6" stroke-width="0.4"/>
<circle cx="194.34" cy="878.83" r="1.45" fill="#c2c2c2" stroke="#b6b6b6" stroke-width="0.4"/>
<circle cx="201.01" cy="873.28" r="1.45" fill="#c2c2c2" stroke="#b6b6b6" stroke-width="0.4"/>
<circle cx="179.92" cy="862.45" r="1.45" fill="#c2c2c2" stroke="#b6b6b6" stroke-width="0.4"/>
<circle cx="187.01" cy="873.18" r="1.45" fill="#c2c2c2" stroke="#b6b6b6" stroke-width="0.4"/>
<circle cx="193.54" cy="877.77" r="1.45" fill="#c2c2c2" stroke="#b6b6b6" stroke-width="0.4"/>
<circle cx="201.92" cy="875.43" r="1.45" fill="#c2c2c2" stroke="#b6b6b6" stroke-width="0.4"/>
<circle cx="196.88" cy="878.37" r="1.45" fill="#c2c2c2" stroke="#b6b6b6" stroke-width="0.4"/>
<circle cx="190.03" cy="866.47" r="1.45" fill="#c2c2c2" stroke="#b6b6b6" stroke-width="0.4"/>
<circle cx="194.01" cy="874.24" r="1.45" fill="#c2c2c2" stroke="#b6b6b6" stroke-width="0.4"/>
<circle cx="198.24" cy="877.82" r="1.45" fill="#c2c2c2" stroke="#b6b6b6" stroke-width="0.4"/>
<circle cx="189.29" cy="870.49" r="1.45" fill="#c2c2c2" stroke="#b6b6b6" stroke-width="0.4"/>
<circle cx="186.68" cy="867.09" r="1.45" fill="#c2c2c2" stroke="#b6b6b6" stroke-width="0.4"/>
<circle cx="181.6" cy="864.35" r="1.45" fill="#c2c2c2" stroke="#b6b6b6" stroke-width="0.4"/>
<circle cx="201.26" cy="871.79" r="1.45" fill="#c2c2c2" stroke="#b6b6b6" stroke-width="0.4"/>
<circle cx="191.37" cy="873.51" r="1.45" fill="#c2c2c2" stroke="#b6b6b6" stroke-width="0.4"/>
<circle cx="186.74" cy="851.85" r="1.45" fill="#c2c2c2" stroke="#b6b6b6" stroke-width="0.4"/>
<circle cx="198.92" cy="875.43" r="1.45" fill="#c2c2c2" stroke="#b6b6b6" stroke-width="0.4"/>
<circle cx="195.19" cy="878.6" r="1.45" fill="#c2c2c2" stroke="#b6b6b6" stroke-width="0.4"/>
<circle cx="208.5" cy="865.4" r="1.45" fill="#c2c2c2" stroke="#b6b6b6" stroke-width="0.4"/>
<circle cx="189.48" cy="873.03" r="1.45" fill="#c2c2c2" stroke="#b6b6b6" stroke-width="0.4"/>
<circle cx="191.78" cy="876.71" r="1.45" fill="#c2c2c2" stroke="#b6b6b6" stroke-width="0.4"/>
<circle cx="193.65" cy="876.33" r="1.45" fill="#c2c2c2" stroke="#b6b6b6" stroke-width="0.4"/>
<circle cx="193.92" cy="877.38" r="1.45" fill="#c2c2c2" stroke="#b6b6b6" stroke-width="0.4"/>
<circle cx="206.38" cy="860.98" r="1.45" fill="#c2c2c2" stroke="#b6b6b6" stroke-width="0.4"/>
<circle cx="193.05" cy="875.77" r="1.45" fill="#c2c2c2" stroke="#b6b6b6" stroke-width="0.4"/>
<circle cx="198.9" cy="876.91" r="1.45" fill="#c2c2c2" stroke="#b6b6b6" stroke-width="0.4"/>
<circle cx="194.11" cy="876.48" r="1.45" fill="#c2c2c2" stroke="#b6b6b6" stroke-width="0.4"/>
<circle cx="194.44" cy="878.42" r="1.45" fill="#c2c2c2" stroke="#b6b6b6" stroke-width="0.4"/>
<circle cx="195.3" cy="877.81" r="1.45" fill="#c2c2c2" stroke="#b6b6b6" stroke-width="0.4"/>
<circle cx="192.89" cy="867.55" r="1.45" fill="#c2c2c2" stroke="#b6b6b6" stroke-width="0.4"/>
<circle cx="194.05" cy="879.22" r="1.45" fill="#c2c2c2" stroke="#b6b6b6" stroke-width="0.4"/>
<circle cx="200.82" cy="875.62" r="1.45" fill="#c2c2c2" stroke="#b6b6b6" stroke-width="0.4"/>
<circle cx="207" cy="866.78" r="1.45" fill="#c2c2c2" stroke="#b6b6b6" stroke-width="0.4"/>
<circle cx="200.93" cy="873.44" r="1.45" fill="#c2c2c2" stroke="#b6b6b6" stroke-width="0.4"/>
<circle cx="193.74" cy="879.13" r="1.45" fill="#c2c2c2" stroke="#b6b6b6" stroke-width="0.4"/>
<circle cx="190.45" cy="873.27" r="1.45" fill="#c2c2c2" stroke="#b6b6b6" stroke-width="0.4"/>
<circle cx="192.41" cy="876.59" r="1.45" fill="#c2c2c2" stroke="#b6b6b6" stroke-width="0.4"/>
<circle cx="209.07" cy="868.43" r="1.45" fill="#c2c2c2" stroke="#b6b6b6" stroke-width="0.4"/>
<circle cx="193.96" cy="879.26" r="1.45" fill="#c2c2c2" stroke="#b6b6b6" stroke-width="0.4"/>
<circle cx="199.88" cy="874.2" r="1.45" fill="#c2c2c2" stroke="#b6b6b6" stroke-width="0.4"/>
<circle cx="187.27" cy="864.87" r="1.45" fill="#c2c2c2" stroke="#b6b6b6" stroke-width="0.4"/>
<circle cx="193.65" cy="876.53" r="1.45" fill="#c2c2c2" stroke="#b6b6b6" stroke-width="0.4"/>
<circle cx="209.93" cy="857.98" r="1.45" fill="#c2c2c2" stroke="#b6b6b6" stroke-width="0.4"/>
<circle cx="223.21" cy="850.93" r="1.45" fill="#c2c2c2" stroke="#b6b6b6" stroke-width="0.4"/>
<circle cx="194.48" cy="876.91" r="1.45" fill="#c2c2c2" stroke="#b6b6b6" stroke-width="0.4"/>
<circle cx="208.2" cy="870.47" r="1.45" fill="#c2c2c2" stroke="#b6b6b6" stroke-width="0.4"/>
<circle cx="197.1" cy="878.08" r="1.45" fill="#c2c2c2" stroke="#b6b6b6" stroke-width="0.4"/>
<circle cx="220.83" cy="846.2" r="1.45" fill="#c2c2c2" stroke="#b6b6b6" stroke-width="0.4"/>
<circle cx="192.3" cy="871.34" r="1.45" fill="#c2c2c2" stroke="#b6b6b6" stroke-width="0.4"/>
<circle cx="199.37" cy="873.76" r="1.45" fill="#c2c2c2" stroke="#b6b6b6" stroke-width="0.4"/>
<circle cx="193.37" cy="877.75" r="1.45" fill="#c2c2c2" stroke="#b6b6b6" stroke-width="0.4"/>
<circle cx="200.92" cy="875.13" r="1.45" fill="#c2c2c2" stroke="#b6b6b6" stroke-width="0.4"/>
<circle cx="193" cy="877.98" r="1.45" fill="#c2c2c2" stroke="#b6b6b6" stroke-width="0.4"/>
<circle cx="198.8" cy="877.74" r="1.45" fill="#c2c2c2" stroke="#b6b6b6" stroke-width="0.4"/>
<circle cx="199.72" cy="872.88" r="1.45" fill="#c2c2c2" stroke="#b6b6b6" stroke-width="0.4"/>
<circle cx="199.82" cy="874.86" r="1.45" fill="#c2c2c2" stroke="#b6b6b6" stroke-width="0.4"/>
<circle cx="193.61" cy="868.69" r="1.45" fill="#c2c2c2" stroke="#b6b6b6" stroke-width="0.4"/>
<circle cx="197.01" cy="878.73" r="1.45" fill="#c2c2c2" stroke="#b6b6b6" stroke-width="0.4"/>
<circle cx="194.95" cy="879.05" r="1.45" fill="#c2c2c2" stroke="#b6b6b6" stroke-width="0.4"/>
<circle cx="188.39" cy="868.4" r="1.45" fill="#c2c2c2" stroke="#b6b6b6" stroke-width="0.4"/>
<circle cx="195.31" cy="877.29" r="1.45" fill="#c2c2c2" stroke="#b6b6b6" stroke-width="0.4"/>
<circle cx="200.72" cy="871.01" r="1.45" fill="#c2c2c2" stroke="#b6b6b6" stroke-width="0.4"/>
<circle cx="187.18" cy="869.53" r="1.45" fill="#c2c2c2" stroke="#b6b6b6" stroke-width="0.4"/>
<circle cx="194.77" cy="877.85" r="1.45" fill="#c2c2c2" stroke="#b6b6b6" stroke-width="0.4"/>
<circle cx="197.45" cy="878.66" r="1.45" fill="#c2c2c2" stroke="#b6b6b6" stroke-width="0.4"/>
<circle cx="193.85" cy="874.12" r="1.45" fill="#c2c2c2" stroke="#b6b6b6" stroke-width="0.4"/>
<circle cx="198.03" cy="878.44" r="1.45" fill="#c2c2c2" stroke="#b6b6b6" stroke-width="0.4"/>
<circle cx="209.29" cy="851.74" r="1.45" fill="#c2c2c2" stroke="#b6b6b6" stroke-width="0.4"/>
<circle cx="204.17" cy="867.29" r="1.45" fill="#c2c2c2" stroke="#b6b6b6" stroke-width="0.4"/>
<circle cx="200.16" cy="876.38" r="1.45" fill="#c2c2c2" stroke="#b6b6b6" stroke-width="0.4"/>
<circle cx="183.75" cy="848.87" r="1.45" fill="#c2c2c2" stroke="#b6b6b6" stroke-width="0.4"/>
<circle cx="202.57" cy="871.15" r="1.45" fill="#c2c2c2" stroke="#b6b6b6" stroke-width="0.4"/>
<circle cx="208.25" cy="856.87" r="1.45" fill="#c2c2c2" stroke="#b6b6b6" stroke-width="0.4"/>
<circle cx="188.8" cy="872.25" r="1.45" fill="#c2c2c2" stroke="#b6b6b6" stroke-width="0.4"/>
<circle cx="204.11" cy="871.17" r="1.45" fill="#c2c2c2" stroke="#b6b6b6" stroke-width="0.4"/>
<circle cx="201.75" cy="871.98" r="1.45" fill="#c2c2c2" stroke="#b6b6b6" stroke-width="0.4"/>
<circle cx="198.09" cy="878.34" r="1.45" fill="#c2c2c2" stroke="#b6b6b6" stroke-width="0.4"/>
<circle cx="171.62" cy="860.75" r="1.45" fill="#c2c2c2" stroke="#b6b6b6" stroke-width="0.4"/>
<circle cx="202.86" cy="865.52" r="1.45" fill="#c2c2c2" stroke="#b6b6b6" stroke-width="0.4"/>
<circle cx="187.93" cy="862.4" r="1.45" fill="#c2c2c2" stroke="#b6b6b6" stroke-width="0.4"/>
<circle cx="195.24" cy="878.83" r="1.45" fill="#c2c2c2" stroke="#b6b6b6" stroke-width="0.4"/>
<circle cx="197.45" cy="877.17" r="1.45" fill="#c2c2c2" stroke="#b6b6b6" stroke-width="0.4"/>
<circle cx="194.94" cy="878.11" r="1.45" fill="#c2c2c2" stroke="#b6b6b6" stroke-width="0.4"/>
<circle cx="203.72" cy="869.48" r="1.45" fill="#c2c2c2" stroke="#b6b6b6" stroke-width="0.4"/>
<circle cx="208.4" cy="867.77" r="1.45" fill="#c2c2c2" stroke="#b6b6b6" stroke-width="0.4"/>
<circle cx="198.84" cy="874.62" r="1.45" fill="#c2c2c2" stroke="#b6b6b6" stroke-width="0.4"/>
<circle cx="197.22" cy="878.94" r="1.45" fill="#c2c2c2" stroke="#b6b6b6" stroke-width="0.4"/>
<circle cx="191.19" cy="871.81" r="1.45" fill="#c2c2c2" stroke="#b6b6b6" stroke-width="0.4"/>
<circle cx="186.45" cy="873.74" r="1.45" fill="#c2c2c2" stroke="#b6b6b6" stroke-width="0.4"/>
<circle cx="208.48" cy="865.08" r="1.45" fill="#c2c2c2" stroke="#b6b6b6" stroke-width="0.4"/>
<circle cx="203.41" cy="865.4" r="1.45" fill="#c2c2c2" stroke="#b6b6b6" stroke-width="0.4"/>
<circle cx="197.56" cy="878.16" r="1.45" fill="#c2c2c2" stroke="#b6b6b6" stroke-width="0.4"/>
<circle cx="188.43" cy="869.61" r="1.45" fill="#c2c2c2" stroke="#b6b6b6" stroke-width="0.4"/>
<circle cx="196.55" cy="879.21" r="1.45" fill="#c2c2c2" stroke="#b6b6b6" stroke-width="0.4"/>
<circle cx="191.02" cy="872.97" r="1.45" fill="#c2c2c2" stroke="#b6b6b6" stroke-width="0.4"/>
<circle cx="200.41" cy="876.71" r="1.45" fill="#c2c2c2" stroke="#b6b6b6" stroke-width="0.4"/>
<circle cx="193.16" cy="874.44" r="1.45" fill="#c2c2c2" stroke="#b6b6b6" stroke-width="0.4"/>
<circle cx="195.48" cy="879.24" r="1.45" fill="#c2c2c2" stroke="#b6b6b6" stroke-width="0.4"/>
<circle cx="193.02" cy="876.27" r="1.45" fill="#c2c2c2" stroke="#b6b6b6" stroke-width="0.4"/>
<circle cx="197.95" cy="876.95" r="1.45" fill="#c2c2c2" stroke="#b6b6b6" stroke-width="0.4"/>
<circle cx="181.65" cy="863.45" r="1.45" fill="#c2c2c2" stroke="#b6b6b6" stroke-width="0.4"/>
<circle cx="190.39" cy="871.64" r="1.45" fill="#c2c2c2" stroke="#b6b6b6" stroke-width="0.4"/>
<circle cx="188.92" cy="858.62" r="1.45" fill="#c2c2c2" stroke="#b6b6b6" stroke-width="0.4"/>
<circle cx="194.32" cy="873.23" r="1.45" fill="#c2c2c2" stroke="#b6b6b6" stroke-width="0.4"/>
<circle cx="186.48" cy="868.4" r="1.45" fill="#c2c2c2" stroke="#b6b6b6" stroke-width="0.4"/>
<circle cx="197.73" cy="876.61" r="1.45" fill="#c2c2c2" stroke="#b6b6b6" stroke-width="0.4"/>
<circle cx="184.79" cy="862.98" r="1.45" fill="#c2c2c2" stroke="#b6b6b6" stroke-width="0.4"/>
<circle cx="191.65" cy="862.19" r="1.45" fill="#c2c2c2" stroke="#b6b6b6" stroke-width="0.4"/>
<circle cx="197.15" cy="877.72" r="1.45" fill="#c2c2c2" stroke="#b6b6b6" stroke-width="0.4"/>
<circle cx="201.53" cy="873.67" r="1.45" fill="#c2c2c2" stroke="#b6b6b6" stroke-width="0.4"/>
<circle cx="217.59" cy="856.58" r="1.45" fill="#c2c2c2" stroke="#b6b6b6" stroke-width="0.4"/>
<circle cx="205.32" cy="872.5" r="1.45" fill="#c2c2c2" stroke="#b6b6b6" stroke-width="0.4"/>
<circle cx="194.36" cy="879.14" r="1.45" fill="#c2c2c2" stroke="#b6b6b6" stroke-width="0.4"/>
<circle cx="197.04" cy="878.79" r="1.45" fill="#c2c2c2" stroke="#b6b6b6" stroke-width="0.4"/>
<circle cx="186.92" cy="872.3" r="1.45" fill="#c2c2c2" stroke="#b6b6b6" stroke-width="0.4"/>
<circle cx="199.93" cy="875.51" r="1.45" fill="#c2c2c2" stroke="#b6b6b6" stroke-width="0.4"/>
<circle cx="199.46" cy="874.66" r="1.45" fill="#c2c2c2" stroke="#b6b6b6" stroke-width="0.4"/>
<circle cx="197.09" cy="878.25" r="1.45" fill="#c2c2c2" stroke="#b6b6b6" stroke-width="0.4"/>
<circle cx="190.38" cy="867.63" r="1.45" fill="#c2c2c2" stroke="#b6b6b6" stroke-width="0.4"/>
<circle cx="180.39" cy="866.03" r="1.45" fill="#c2c2c2" stroke="#b6b6b6" stroke-width="0.4"/>
<circle cx="185.68" cy="864.16" r="1.45" fill="#c2c2c2" stroke="#b6b6b6" stroke-width="0.4"/>
<circle cx="198.56" cy="874.99" r="1.45" fill="#c2c2c2" stroke="#b6b6b6" stroke-width="0.4"/>
<circle cx="198.03" cy="877.02" r="1.45" fill="#c2c2c2" stroke="#b6b6b6" stroke-width="0.4"/>
<circle cx="193.63" cy="879.06" r="1.45" fill="#c2c2c2" stroke="#b6b6b6" stroke-width="0.4"/>
<circle cx="197.57" cy="875.64" r="1.45" fill="#c2c2c2" stroke="#b6b6b6" stroke-width="0.4"/>
<circle cx="197.85" cy="874.98" r="1.45" fill="#c2c2c2" stroke="#b6b6b6" stroke-width="0.4"/>
<circle cx="186.35" cy="873.69" r="1.45" fill="#c2c2c2" stroke="#b6b6b6" stroke-width="0.4"/>
<circle cx="197.08" cy="876.93" r="1.45" fill="#c2c2c2" stroke="#b6b6b6" stroke-width="0.4"/>
<circle cx="198.9" cy="878.18" r="1.45" fill="#c2c2c2" stroke="#b6b6b6" stroke-width="0.4"/>
<circle cx="196.63" cy="879.14" r="1.45" fill="#c2c2c2" stroke="#b6b6b6" stroke-width="0.4"/>
<circle cx="184.99" cy="866.63" r="1.45" fill="#c2c2c2" stroke="#b6b6b6" stroke-width="0.4"/>
<circle cx="205.81" cy="873.13" r="1.45" fill="#c2c2c2" stroke="#b6b6b6" stroke-width="0.4"/>
<circle cx="201.5" cy="876.2" r="1.45" fill="#c2c2c2" stroke="#b6b6b6" stroke-width="0.4"/>
<circle cx="189.83" cy="874.41" r="1.45" fill="#c2c2c2" stroke="#b6b6b6" stroke-width="0.4"/>
<circle cx="206.34" cy="863.4" r="1.45" fill="#c2c2c2" stroke="#b6b6b6" stroke-width="0.4"/>
<circle cx="202.3" cy="869.83" r="1.45" fill="#c2c2c2" stroke="#b6b6b6" stroke-width="0.4"/>
<circle cx="189.52" cy="869.6" r="1.45" fill="#c2c2c2" stroke="#b6b6b6" stroke-width="0.4"/>
<circle cx="199.08" cy="878.26" r="1.45" fill="#c2c2c2" stroke="#b6b6b6" stroke-width="0.4"/>
<circle cx="200.72" cy="874.63" r="1.45" fill="#c2c2c2" stroke="#b6b6b6" stroke-width="0.4"/>
<circle cx="206.71" cy="871.95" r="1.45" fill="#c2c2c2" stroke="#b6b6b6" stroke-width="0.4"/>
<circle cx="194.16" cy="871.34" r="1.45" fill="#c2c2c2" stroke="#b6b6b6" stroke-width="0.4"/>
<circle cx="190.13" cy="870.2" r="1.45" fill="#c2c2c2" stroke="#b6b6b6" stroke-width="0.4"/>
<circle cx="192.08" cy="875.5" r="1.45" fill="#c2c2c2" stroke="#b6b6b6" stroke-width="0.4"/>
<circle cx="186.69" cy="861.13" r="1.45" fill="#c2c2c2" stroke="#b6b6b6" stroke-width="0.4"/>
<circle cx="203.99" cy="865.56" r="1.45" fill="#c2c2c2" stroke="#b6b6b6" stroke-width="0.4"/>
<circle cx="203.79" cy="870.96" r="1.45" fill="#c2c2c2" stroke="#b6b6b6" stroke-width="0.4"/>
<circle cx="193.34" cy="875.12" r="1.45" fill="#c2c2c2" stroke="#b6b6b6" stroke-width="0.4"/>
<circle cx="190.57" cy="870.81" r="1.45" fill="#c2c2c2" stroke="#b6b6b6" stroke-width="0.4"/>
<circle cx="211.62" cy="854.22" r="1.45" fill="#c2c2c2" stroke="#b6b6b6" stroke-width="0.4"/>
<circle cx="204.46" cy="861.67" r="1.45" fill="#c2c2c2" stroke="#b6b6b6" stroke-width="0.4"/>
<circle cx="204.8" cy="867.09" r="1.45" fill="#c2c2c2" stroke="#b6b6b6" stroke-width="0.4"/>
<circle cx="205.06" cy="857.97" r="1.45" fill="#c2c2c2" stroke="#b6b6b6" stroke-width="0.4"/>
<circle cx="202.3" cy="871.52" r="1.45" fill="#c2c2c2" stroke="#b6b6b6" stroke-width="0.4"/>
<circle cx="207.92" cy="868.94" r="1.45" fill="#c2c2c2" stroke="#b6b6b6" stroke-width="0.4"/>
<circle cx="194.34" cy="879.21" r="1.45" fill="#c2c2c2" stroke="#b6b6b6" stroke-width="0.4"/>
<circle cx="200.89" cy="871.24" r="1.45" fill="#c2c2c2" stroke="#b6b6b6" stroke-width="0.4"/>
<circle cx="212.72" cy="858.81" r="1.45" fill="#c2c2c2" stroke="#b6b6b6" stroke-width="0.4"/>
<circle cx="215.07" cy="849.29" r="1.45" fill="#c2c2c2" stroke="#b6b6b6" stroke-width="0.4"/>
<circle cx="200.58" cy="877.3" r="1.45" fill="#c2c2c2" stroke="#b6b6b6" stroke-width="0.4"/>
<circle cx="195.54" cy="878.99" r="1.45" fill="#c2c2c2" stroke="#b6b6b6" stroke-width="0.4"/>
<circle cx="196.94" cy="877.41" r="1.45" fill="#c2c2c2" stroke="#b6b6b6" stroke-width="0.4"/>
<circle cx="196.63" cy="879.03" r="1.45" fill="#c2c2c2" stroke="#b6b6b6" stroke-width="0.4"/>
<circle cx="186.68" cy="870.98" r="1.45" fill="#c2c2c2" stroke="#b6b6b6" stroke-width="0.4"/>
<circle cx="216.17" cy="861.16" r="1.45" fill="#c2c2c2" stroke="#b6b6b6" stroke-width="0.4"/>
<circle cx="197.43" cy="878.06" r="1.45" fill="#c2c2c2" stroke="#b6b6b6" stroke-width="0.4"/>
<circle cx="204.61" cy="869.53" r="1.45" fill="#c2c2c2" stroke="#b6b6b6" stroke-width="0.4"/>
<circle cx="208.61" cy="858.82" r="1.45" fill="#c2c2c2" stroke="#b6b6b6" stroke-width="0.4"/>
<circle cx="194.38" cy="875" r="1.45" fill="#c2c2c2" stroke="#b6b6b6" stroke-width="0.4"/>
<circle cx="196.67" cy="878.86" r="1.45" fill="#c2c2c2" stroke="#b6b6b6" stroke-width="0.4"/>
<circle cx="200.88" cy="875.98" r="1.45" fill="#c2c2c2" stroke="#b6b6b6" stroke-width="0.4"/>
<circle cx="184.06" cy="869.29" r="1.45" fill="#c2c2c2" stroke="#b6b6b6" stroke-width="0.4"/>
<circle cx="186.89" cy="873.38" r="1.45" fill="#c2c2c2" stroke="#b6b6b6" stroke-width="0.4"/>
<circle cx="184.85" cy="869.16" r="1.45" fill="#c2c2c2" stroke="#b6b6b6" stroke-width="0.4"/>
<circle cx="194.15" cy="870.64" r="1.45" fill="#c2c2c2" stroke="#b6b6b6" stroke-width="0.4"/>
<circle cx="194.06" cy="877.83" r="1.45" fill="#c2c2c2" stroke="#b6b6b6" stroke-width="0.4"/>
<circle cx="188.83" cy="871.93" r="1.45" fill="#c2c2c2" stroke="#b6b6b6" stroke-width="0.4"/>
<circle cx="197.33" cy="876.44" r="1.45" fill="#c2c2c2" stroke="#b6b6b6" stroke-width="0.4"/>
<circle cx="189.22" cy="876.59" r="1.45" fill="#c2c2c2" stroke="#b6b6b6" stroke-width="0.4"/>
<circle cx="182.66" cy="851.15" r="1.45" fill="#c2c2c2" stroke="#b6b6b6" stroke-width="0.4"/>
<circle cx="178.36" cy="863.22" r="1.45" fill="#c2c2c2" stroke="#b6b6b6" stroke-width="0.4"/>
<circle cx="185.65" cy="870.63" r="1.45" fill="#c2c2c2" stroke="#b6b6b6" stroke-width="0.4"/>
<circle cx="194.4" cy="878.66" r="1.45" fill="#c2c2c2" stroke="#b6b6b6" stroke-width="0.4"/>
<circle cx="197.73" cy="879.2" r="1.45" fill="#c2c2c2" stroke="#b6b6b6" stroke-width="0.4"/>
<circle cx="185.67" cy="862.26" r="1.45" fill="#c2c2c2" stroke="#b6b6b6" stroke-width="0.4"/>
<circle cx="190.35" cy="875.46" r="1.45" fill="#c2c2c2" stroke="#b6b6b6" stroke-width="0.4"/>
<circle cx="188.87" cy="872.41" r="1.45" fill="#c2c2c2" stroke="#b6b6b6" stroke-width="0.4"/>
<circle cx="196.6" cy="878.71" r="1.45" fill="#c2c2c2" stroke="#b6b6b6" stroke-width="0.4"/>
<circle cx="195.19" cy="878.72" r="1.45" fill="#c2c2c2" stroke="#b6b6b6" stroke-width="0.4"/>
<circle cx="197.19" cy="877.03" r="1.45" fill="#c2c2c2" stroke="#b6b6b6" stroke-width="0.4"/>
<circle cx="199.55" cy="866.95" r="1.45" fill="#c2c2c2" stroke="#b6b6b6" stroke-width="0.4"/>
<circle cx="196.38" cy="879.15" r="1.45" fill="#c2c2c2" stroke="#b6b6b6" stroke-width="0.4"/>
<circle cx="215.38" cy="847.23" r="1.45" fill="#c2c2c2" stroke="#b6b6b6" stroke-width="0.4"/>
<circle cx="193.52" cy="873" r="1.45" fill="#c2c2c2" stroke="#b6b6b6" stroke-width="0.4"/>
<circle cx="219.58" cy="852.36" r="1.45" fill="#c2c2c2" stroke="#b6b6b6" stroke-width="0.4"/>
<circle cx="183.61" cy="818.36" r="1.45" fill="#c2c2c2" stroke="#b6b6b6" stroke-width="0.4"/>
<circle cx="199.46" cy="874.75" r="1.45" fill="#c2c2c2" stroke="#b6b6b6" stroke-width="0.4"/>
<circle cx="201.42" cy="864.19" r="1.45" fill="#c2c2c2" stroke="#b6b6b6" stroke-width="0.4"/>
<circle cx="197.19" cy="878.97" r="1.45" fill="#c2c2c2" stroke="#b6b6b6" stroke-width="0.4"/>
<circle cx="190.33" cy="866.69" r="1.45" fill="#c2c2c2" stroke="#b6b6b6" stroke-width="0.4"/>
<circle cx="185.71" cy="869.94" r="1.45" fill="#c2c2c2" stroke="#b6b6b6" stroke-width="0.4"/>
<circle cx="183.4" cy="867.31" r="1.45" fill="#c2c2c2" stroke="#b6b6b6" stroke-width="0.4"/>
<circle cx="195.39" cy="878.13" r="1.45" fill="#c2c2c2" stroke="#b6b6b6" stroke-width="0.4"/>
<circle cx="197.26" cy="878.96" r="1.45" fill="#c2c2c2" stroke="#b6b6b6" stroke-width="0.4"/>
<circle cx="196.34" cy="878.92" r="1.45" fill="#c2c2c2" stroke="#b6b6b6" stroke-width="0.4"/>
<circle cx="197.44" cy="879.03" r="1.45" fill="#c2c2c2" stroke="#b6b6b6" stroke-width="0.4"/>
<circle cx="198.04" cy="871.66" r="1.45" fill="#c2c2c2" stroke="#b6b6b6" stroke-width="0.4"/>
<circle cx="198.39" cy="874.52" r="1.45" fill="#c2c2c2" stroke="#b6b6b6" stroke-width="0.4"/>
<circle cx="199.48" cy="877.66" r="1.45" fill="#c2c2c2" stroke="#b6b6b6" stroke-width="0.4"/>
<circle cx="205.09" cy="868.56" r="1.45" fill="#c2c2c2" stroke="#b6b6b6" stroke-width="0.4"/>
<circle cx="190.49" cy="874.95" r="1.45" fill="#c2c2c2" stroke="#b6b6b6" stroke-width="0.4"/>
<circle cx="194.56" cy="873.09" r="1.45" fill="#c2c2c2" stroke="#b6b6b6" stroke-width="0.4"/>
<circle cx="183.26" cy="867.84" r="1.45" fill="#c2c2c2" stroke="#b6b6b6" stroke-width="0.4"/>
<circle cx="202.42" cy="865.18" r="1.45" fill="#c2c2c2" stroke="#b6b6b6" stroke-width="0.4"/>
<circle cx="199.29" cy="878.29" r="1.45" fill="#c2c2c2" stroke="#b6b6b6" stroke-width="0.4"/>
<circle cx="195.17" cy="879.25" r="1.45" fill="#c2c2c2" stroke="#b6b6b6" stroke-width="0.4"/>
<circle cx="186.25" cy="864.33" r="1.45" fill="#c2c2c2" stroke="#b6b6b6" stroke-width="0.4"/>
<circle cx="201.49" cy="857.33" r="1.45" fill="#c2c2c2" stroke="#b6b6b6" stroke-width="0.4"/>
<circle cx="202.93" cy="862.08" r="1.45" fill="#c2c2c2" stroke="#b6b6b6" stroke-width="0.4"/>
<circle cx="199.4" cy="875.42" r="1.45" fill="#c2c2c2" stroke="#b6b6b6" stroke-width="0.4"/>
<circle cx="184.06" cy="872.07" r="1.45" fill="#c2c2c2" stroke="#b6b6b6" stroke-width="0.4"/>
<circle cx="201.51" cy="876.24" r="1.45" fill="#c2c2c2" stroke="#b6b6b6" stroke-width="0.4"/>
<circle cx="182.78" cy="837" r="1.45" fill="#c2c2c2" stroke="#b6b6b6" stroke-width="0.4"/>
<circle cx="197.06" cy="877.37" r="1.45" fill="#c2c2c2" stroke="#b6b6b6" stroke-width="0.4"/>
<circle cx="195.46" cy="878.86" r="1.45" fill="#c2c2c2" stroke="#b6b6b6" stroke-width="0.4"/>
<circle cx="193.24" cy="878.7" r="1.45" fill="#c2c2c2" stroke="#b6b6b6" stroke-width="0.4"/>
<circle cx="205.76" cy="868.08" r="1.45" fill="#c2c2c2" stroke="#b6b6b6" stroke-width="0.4"/>
<circle cx="194.82" cy="877.21" r="1.45" fill="#c2c2c2" stroke="#b6b6b6" stroke-width="0.4"/>
<circle cx="192.5" cy="877.97" r="1.45" fill="#c2c2c2" stroke="#b6b6b6" stroke-width="0.4"/>
<circle cx="183.66" cy="866.45" r="1.45" fill="#c2c2c2" stroke="#b6b6b6" stroke-width="0.4"/>
<circle cx="199.77" cy="876.64" r="1.45" fill="#c2c2c2" stroke="#b6b6b6" stroke-width="0.4"/>
<circle cx="194.75" cy="879.26" r="1.45" fill="#c2c2c2" stroke="#b6b6b6" stroke-width="0.4"/>
<circle cx="182.02" cy="860.89" r="1.45" fill="#c2c2c2" stroke="#b6b6b6" stroke-width="0.4"/>
<circle cx="199.19" cy="874.49" r="1.45" fill="#c2c2c2" stroke="#b6b6b6" stroke-width="0.4"/>
<circle cx="194.77" cy="876.14" r="1.45" fill="#c2c2c2" stroke="#b6b6b6" stroke-width="0.4"/>
<circle cx="202.64" cy="855.48" r="1.45" fill="#c2c2c2" stroke="#b6b6b6" stroke-width="0.4"/>
<circle cx="188.48" cy="860.17" r="1.45" fill="#c2c2c2" stroke="#b6b6b6" stroke-width="0.4"/>
<circle cx="186.13" cy="869.63" r="1.45" fill="#c2c2c2" stroke="#b6b6b6" stroke-width="0.4"/>
<circle cx="191.15" cy="870.26" r="1.45" fill="#c2c2c2" stroke="#b6b6b6" stroke-width="0.4"/>
<circle cx="188.32" cy="873.26" r="1.45" fill="#c2c2c2" stroke="#b6b6b6" stroke-width="0.4"/>
<circle cx="198.03" cy="878.5" r="1.45" fill="#c2c2c2" stroke="#b6b6b6" stroke-width="0.4"/>
<circle cx="192.07" cy="877.67" r="1.45" fill="#c2c2c2" stroke="#b6b6b6" stroke-width="0.4"/>
<circle cx="191.57" cy="877.36" r="1.45" fill="#c2c2c2" stroke="#b6b6b6" stroke-width="0.4"/>
<circle cx="195.58" cy="877.76" r="1.45" fill="#c2c2c2" stroke="#b6b6b6" stroke-width="0.4"/>
<circle cx="198.37" cy="878.91" r="1.45" fill="#c2c2c2" stroke="#b6b6b6" stroke-width="0.4"/>
<circle cx="209.06" cy="861.19" r="1.45" fill="#c2c2c2" stroke="#b6b6b6" stroke-width="0.4"/>
<circle cx="191.45" cy="874.49" r="1.45" fill="#c2c2c2" stroke="#b6b6b6" stroke-width="0.4"/>
<circle cx="195.25" cy="878.88" r="1.45" fill="#c2c2c2" stroke="#b6b6b6" stroke-width="0.4"/>
<circle cx="190.95" cy="874.24" r="1.45" fill="#c2c2c2" stroke="#b6b6b6" stroke-width="0.4"/>
<circle cx="190.85" cy="873.64" r="1.45" fill="#c2c2c2" stroke="#b6b6b6" stroke-width="0.4"/>
<circle cx="187.33" cy="859.57" r="1.45" fill="#c2c2c2" stroke="#b6b6b6" stroke-width="0.4"/>
<circle cx="197.46" cy="874.99" r="1.45" fill="#c2c2c2" stroke="#b6b6b6" stroke-width="0.4"/>
<circle cx="193.79" cy="878.82" r="1.45" fill="#c2c2c2" stroke="#b6b6b6" stroke-width="0.4"/>
<circle cx="192.44" cy="876.53" r="1.45" fill="#c2c2c2" stroke="#b6b6b6" stroke-width="0.4"/>
<circle cx="201.19" cy="867.62" r="1.45" fill="#c2c2c2" stroke="#b6b6b6" stroke-width="0.4"/>
<circle cx="196.84" cy="878.82" r="1.45" fill="#c2c2c2" stroke="#b6b6b6" stroke-width="0.4"/>
<circle cx="185.65" cy="870.81" r="1.45" fill="#c2c2c2" stroke="#b6b6b6" stroke-width="0.4"/>
<circle cx="198.25" cy="876.11" r="1.45" fill="#c2c2c2" stroke="#b6b6b6" stroke-width="0.4"/>
<circle cx="193.81" cy="877.57" r="1.45" fill="#c2c2c2" stroke="#b6b6b6" stroke-width="0.4"/>
<circle cx="199.18" cy="877.62" r="1.45" fill="#c2c2c2" stroke="#b6b6b6" stroke-width="0.4"/>
<circle cx="193.98" cy="878.5" r="1.45" fill="#c2c2c2" stroke="#b6b6b6" stroke-width="0.4"/>
<circle cx="184.55" cy="859.74" r="1.45" fill="#c2c2c2" stroke="#b6b6b6" stroke-width="0.4"/>
<circle cx="197.21" cy="877.5" r="1.45" fill="#c2c2c2" stroke="#b6b6b6" stroke-width="0.4"/>
<circle cx="190.45" cy="871.05" r="1.45" fill="#c2c2c2" stroke="#b6b6b6" stroke-width="0.4"/>
<circle cx="206.44" cy="870.67" r="1.45" fill="#c2c2c2" stroke="#b6b6b6" stroke-width="0.4"/>
<circle cx="190.52" cy="872.08" r="1.45" fill="#c2c2c2" stroke="#b6b6b6" stroke-width="0.4"/>
<circle cx="206.54" cy="874.26" r="1.45" fill="#c2c2c2" stroke="#b6b6b6" stroke-width="0.4"/>
<circle cx="177.76" cy="860.97" r="1.45" fill="#c2c2c2" stroke="#b6b6b6" stroke-width="0.4"/>
<circle cx="198.16" cy="876.83" r="1.45" fill="#c2c2c2" stroke="#b6b6b6" stroke-width="0.4"/>
<circle cx="193.53" cy="874" r="1.45" fill="#c2c2c2" stroke="#b6b6b6" stroke-width="0.4"/>
<circle cx="191.87" cy="877.86" r="1.45" fill="#c2c2c2" stroke="#b6b6b6" stroke-width="0.4"/>
<circle cx="194.79" cy="879.29" r="1.45" fill="#c2c2c2" stroke="#b6b6b6" stroke-width="0.4"/>
<circle cx="190.34" cy="869.23" r="1.45" fill="#c2c2c2" stroke="#b6b6b6" stroke-width="0.4"/>
<circle cx="193.75" cy="875.45" r="1.45" fill="#c2c2c2" stroke="#b6b6b6" stroke-width="0.4"/>
<circle cx="206.73" cy="851.36" r="1.45" fill="#c2c2c2" stroke="#b6b6b6" stroke-width="0.4"/>
<circle cx="193.76" cy="877.31" r="1.45" fill="#c2c2c2" stroke="#b6b6b6" stroke-width="0.4"/>
<circle cx="196.83" cy="877.77" r="1.45" fill="#c2c2c2" stroke="#b6b6b6" stroke-width="0.4"/>
<circle cx="211.59" cy="868.53" r="1.45" fill="#c2c2c2" stroke="#b6b6b6" stroke-width="0.4"/>
<circle cx="193.93" cy="876.78" r="1.45" fill="#c2c2c2" stroke="#b6b6b6" stroke-width="0.4"/>
<circle cx="209.53" cy="865.56" r="1.45" fill="#c2c2c2" stroke="#b6b6b6" stroke-width="0.4"/>
<circle cx="199.65" cy="867.65" r="1.45" fill="#c2c2c2" stroke="#b6b6b6" stroke-width="0.4"/>
<circle cx="199.88" cy="865.05" r="1.45" fill="#c2c2c2" stroke="#b6b6b6" stroke-width="0.4"/>
<circle cx="204.88" cy="870.4" r="1.45" fill="#c2c2c2" stroke="#b6b6b6" stroke-width="0.4"/>
<circle cx="191.36" cy="868.02" r="1.45" fill="#c2c2c2" stroke="#b6b6b6" stroke-width="0.4"/>
<circle cx="206.85" cy="860.97" r="1.45" fill="#c2c2c2" stroke="#b6b6b6" stroke-width="0.4"/>
<circle cx="193.79" cy="877.3" r="1.45" fill="#c2c2c2" stroke="#b6b6b6" stroke-width="0.4"/>
<circle cx="186.17" cy="874.51" r="1.45" fill="#c2c2c2" stroke="#b6b6b6" stroke-width="0.4"/>
<circle cx="219.26" cy="852.71" r="1.45" fill="#c2c2c2" stroke="#b6b6b6" stroke-width="0.4"/>
<circle cx="198.48" cy="877.82" r="1.45" fill="#c2c2c2" stroke="#b6b6b6" stroke-width="0.4"/>
<circle cx="194.84" cy="874.09" r="1.45" fill="#c2c2c2" stroke="#b6b6b6" stroke-width="0.4"/>
<circle cx="189.85" cy="863.87" r="1.45" fill="#c2c2c2" stroke="#b6b6b6" stroke-width="0.4"/>
<circle cx="193.75" cy="879.01" r="1.45" fill="#c2c2c2" stroke="#b6b6b6" stroke-width="0.4"/>
<circle cx="189.34" cy="861.76" r="1.45" fill="#c2c2c2" stroke="#b6b6b6" stroke-width="0.4"/>
<circle cx="204.26" cy="869.69" r="1.45" fill="#c2c2c2" stroke="#b6b6b6" stroke-width="0.4"/>
<circle cx="186.92" cy="869.92" r="1.45" fill="#c2c2c2" stroke="#b6b6b6" stroke-width="0.4"/>
<circle cx="202.59" cy="871.04" r="1.45" fill="#c2c2c2" stroke="#b6b6b6" stroke-width="0.4"/>
<circle cx="202.49" cy="875.02" r="1.45" fill="#c2c2c2" stroke="#b6b6b6" stroke-width="0.4"/>
<circle cx="198.37" cy="877.01" r="1.45" fill="#c2c2c2" stroke="#b6b6b6" stroke-width="0.4"/>
<circle cx="197.31" cy="877.75" r="1.45" fill="#c2c2c2" stroke="#b6b6b6" stroke-width="0.4"/>
<circle cx="194.17" cy="877.67" r="1.45" fill="#c2c2c2" stroke="#b6b6b6" stroke-width="0.4"/>
<circle cx="194.19" cy="876.98" r="1.45" fill="#c2c2c2" stroke="#b6b6b6" stroke-width="0.4"/>
<circle cx="192.68" cy="876.96" r="1.45" fill="#c2c2c2" stroke="#b6b6b6" stroke-width="0.4"/>
<circle cx="195.31" cy="879.02" r="1.45" fill="#c2c2c2" stroke="#b6b6b6" stroke-width="0.4"/>
<circle cx="195.27" cy="877.74" r="1.45" fill="#c2c2c2" stroke="#b6b6b6" stroke-width="0.4"/>
<circle cx="194.19" cy="878.7" r="1.45" fill="#c2c2c2" stroke="#b6b6b6" stroke-width="0.4"/>
<circle cx="200.79" cy="875.03" r="1.45" fill="#c2c2c2" stroke="#b6b6b6" stroke-width="0.4"/>
<circle cx="175.91" cy="854.39" r="1.45" fill="#c2c2c2" stroke="#b6b6b6" stroke-width="0.4"/>
<circle cx="202.57" cy="874.1" r="1.45" fill="#c2c2c2" stroke="#b6b6b6" stroke-width="0.4"/>
<circle cx="197.56" cy="878.9" r="1.45" fill="#c2c2c2" stroke="#b6b6b6" stroke-width="0.4"/>
<circle cx="187.72" cy="858.02" r="1.45" fill="#c2c2c2" stroke="#b6b6b6" stroke-width="0.4"/>
<circle cx="193.24" cy="876.15" r="1.45" fill="#c2c2c2" stroke="#b6b6b6" stroke-width="0.4"/>
<circle cx="182.72" cy="852.82" r="1.45" fill="#c2c2c2" stroke="#b6b6b6" stroke-width="0.4"/>
<circle cx="187.1" cy="862.95" r="1.45" fill="#c2c2c2" stroke="#b6b6b6" stroke-width="0.4"/>
<circle cx="201.64" cy="871.05" r="1.45" fill="#c2c2c2" stroke="#b6b6b6" stroke-width="0.4"/>
<circle cx="190.17" cy="872.84" r="1.45" fill="#c2c2c2" stroke="#b6b6b6" stroke-width="0.4"/>
<circle cx="198.1" cy="878.19" r="1.45" fill="#c2c2c2" stroke="#b6b6b6" stroke-width="0.4"/>
<circle cx="184.26" cy="857.56" r="1.45" fill="#c2c2c2" stroke="#b6b6b6" stroke-width="0.4"/>
<circle cx="194.01" cy="876.3" r="1.45" fill="#c2c2c2" stroke="#b6b6b6" stroke-width="0.4"/>
<circle cx="205.39" cy="873.15" r="1.45" fill="#c2c2c2" stroke="#b6b6b6" stroke-width="0.4"/>
<circle cx="200.22" cy="873.62" r="1.45" fill="#c2c2c2" stroke="#b6b6b6" stroke-width="0.4"/>
<circle cx="206.21" cy="845.9" r="1.45" fill="#c2c2c2" stroke="#b6b6b6" stroke-width="0.4"/>
<circle cx="197.03" cy="877.65" r="1.45" fill="#c2c2c2" stroke="#b6b6b6" stroke-width="0.4"/>
<circle cx="199.93" cy="871.98" r="1.45" fill="#c2c2c2" stroke="#b6b6b6" stroke-width="0.4"/>
<circle cx="190.12" cy="866.72" r="1.45" fill="#c2c2c2" stroke="#b6b6b6" stroke-width="0.4"/>
<circle cx="197.3" cy="878.9" r="1.45" fill="#c2c2c2" stroke="#b6b6b6" stroke-width="0.4"/>
<circle cx="194.25" cy="877.98" r="1.45" fill="#c2c2c2" stroke="#b6b6b6" stroke-width="0.4"/>
<circle cx="184.97" cy="867" r="1.45" fill="#c2c2c2" stroke="#b6b6b6" stroke-width="0.4"/>
<circle cx="194.71" cy="878.45" r="1.45" fill="#c2c2c2" stroke="#b6b6b6" stroke-width="0.4"/>
<circle cx="185.28" cy="867.01" r="1.45" fill="#c2c2c2" stroke="#b6b6b6" stroke-width="0.4"/>
<circle cx="201.8" cy="867.57" r="1.45" fill="#c2c2c2" stroke="#b6b6b6" stroke-width="0.4"/>
<circle cx="211.47" cy="868.28" r="1.45" fill="#c2c2c2" stroke="#b6b6b6" stroke-width="0.4"/>
<circle cx="186.34" cy="867.97" r="1.45" fill="#c2c2c2" stroke="#b6b6b6" stroke-width="0.4"/>
<circle cx="198.38" cy="875.32" r="1.45" fill="#c2c2c2" stroke="#b6b6b6" stroke-width="0.4"/>
<circle cx="192.76" cy="874.91" r="1.45" fill="#c2c2c2" stroke="#b6b6b6" stroke-width="0.4"/>
<circle cx="197.05" cy="878.33" r="1.45" fill="#c2c2c2" stroke="#b6b6b6" stroke-width="0.4"/>
<circle cx="200.24" cy="876.14" r="1.45" fill="#c2c2c2" stroke="#b6b6b6" stroke-width="0.4"/>
<circle cx="193.04" cy="876.6" r="1.45" fill="#c2c2c2" stroke="#b6b6b6" stroke-width="0.4"/>
<circle cx="208.16" cy="864.73" r="1.45" fill="#c2c2c2" stroke="#b6b6b6" stroke-width="0.4"/>
<circle cx="190.58" cy="862.36" r="1.45" fill="#c2c2c2" stroke="#b6b6b6" stroke-width="0.4"/>
<circle cx="189.94" cy="871.8" r="1.45" fill="#c2c2c2" stroke="#b6b6b6" stroke-width="0.4"/>
<circle cx="195.44" cy="877.86" r="1.45" fill="#c2c2c2" stroke="#b6b6b6" stroke-width="0.4"/>
<circle cx="194.5" cy="877.66" r="1.45" fill="#c2c2c2" stroke="#b6b6b6" stroke-width="0.4"/>
<circle cx="188.92" cy="869.12" r="1.45" fill="#c2c2c2" stroke="#b6b6b6" stroke-width="0.4"/>
<circle cx="179.48" cy="857.12" r="1.45" fill="#c2c2c2" stroke="#b6b6b6" stroke-width="0.4"/>
<circle cx="192.19" cy="871.92" r="1.45" fill="#c2c2c2" stroke="#b6b6b6" stroke-width="0.4"/>
<circle cx="194.25" cy="877.99" r="1.45" fill="#c2c2c2" stroke="#b6b6b6" stroke-width="0.4"/>
<circle cx="193.74" cy="876.11" r="1.45" fill="#c2c2c2" stroke="#b6b6b6" stroke-width="0.4"/>
<circle cx="198.84" cy="876.25" r="1.45" fill="#c2c2c2" stroke="#b6b6b6" stroke-width="0.4"/>
<circle cx="191.21" cy="868.75" r="1.45" fill="#c2c2c2" stroke="#b6b6b6" stroke-width="0.4"/>
<circle cx="193.2" cy="877.71" r="1.45" fill="#c2c2c2" stroke="#b6b6b6" stroke-width="0.4"/>
<circle cx="210.75" cy="866.07" r="1.45" fill="#c2c2c2" stroke="#b6b6b6" stroke-width="0.4"/>
<circle cx="192.94" cy="870.07" r="1.45" fill="#c2c2c2" stroke="#b6b6b6" stroke-width="0.4"/>
<circle cx="190.85" cy="871.66" r="1.45" fill="#c2c2c2" stroke="#b6b6b6" stroke-width="0.4"/>
<circle cx="193.25" cy="875.42" r="1.45" fill="#c2c2c2" stroke="#b6b6b6" stroke-width="0.4"/>
<circle cx="191.28" cy="853.81" r="1.45" fill="#c2c2c2" stroke="#b6b6b6" stroke-width="0.4"/>
<circle cx="201.18" cy="863.96" r="1.45" fill="#c2c2c2" stroke="#b6b6b6" stroke-width="0.4"/>
<circle cx="192.25" cy="874.04" r="1.45" fill="#c2c2c2" stroke="#b6b6b6" stroke-width="0.4"/>
<circle cx="190.7" cy="864.03" r="1.45" fill="#c2c2c2" stroke="#b6b6b6" stroke-width="0.4"/>
<circle cx="193.04" cy="876.19" r="1.45" fill="#c2c2c2" stroke="#b6b6b6" stroke-width="0.4"/>
<circle cx="199.13" cy="876.98" r="1.45" fill="#c2c2c2" stroke="#b6b6b6" stroke-width="0.4"/>
<circle cx="202.02" cy="867.37" r="1.45" fill="#c2c2c2" stroke="#b6b6b6" stroke-width="0.4"/>
<circle cx="183.61" cy="839" r="1.45" fill="#c2c2c2" stroke="#b6b6b6" stroke-width="0.4"/>
<circle cx="194.06" cy="877.99" r="1.45" fill="#c2c2c2" stroke="#b6b6b6" stroke-width="0.4"/>
<circle cx="210.93" cy="859.84" r="1.45" fill="#c2c2c2" stroke="#b6b6b6" stroke-width="0.4"/>
<circle cx="201.4" cy="873.5" r="1.45" fill="#c2c2c2" stroke="#b6b6b6" stroke-width="0.4"/>
<circle cx="199" cy="878.08" r="1.45" fill="#c2c2c2" stroke="#b6b6b6" stroke-width="0.4"/>
<circle cx="210.15" cy="858.3" r="1.45" fill="#c2c2c2" stroke="#b6b6b6" stroke-width="0.4"/>
<circle cx="197.84" cy="876.2" r="1.45" fill="#c2c2c2" stroke="#b6b6b6" stroke-width="0.4"/>
<circle cx="207.91" cy="869.37" r="1.45" fill="#c2c2c2" stroke="#b6b6b6" stroke-width="0.4"/>
<circle cx="181.78" cy="865.48" r="1.45" fill="#c2c2c2" stroke="#b6b6b6" stroke-width="0.4"/>
<circle cx="186.02" cy="868.15" r="1.45" fill="#c2c2c2" stroke="#b6b6b6" stroke-width="0.4"/>
<circle cx="198.5" cy="876.62" r="1.45" fill="#c2c2c2" stroke="#b6b6b6" stroke-width="0.4"/>
<circle cx="190.34" cy="868.54" r="1.45" fill="#c2c2c2" stroke="#b6b6b6" stroke-width="0.4"/>
<circle cx="194.87" cy="875.05" r="1.45" fill="#c2c2c2" stroke="#b6b6b6" stroke-width="0.4"/>
<circle cx="193.48" cy="875.47" r="1.45" fill="#c2c2c2" stroke="#b6b6b6" stroke-width="0.4"/>
<circle cx="196.39" cy="878.95" r="1.45" fill="#c2c2c2" stroke="#b6b6b6" stroke-width="0.4"/>
<circle cx="199.69" cy="874.69" r="1.45" fill="#c2c2c2" stroke="#b6b6b6" stroke-width="0.4"/>
<circle cx="191.94" cy="871.39" r="1.45" fill="#c2c2c2" stroke="#b6b6b6" stroke-width="0.4"/>
<circle cx="197.56" cy="876.91" r="1.45" fill="#c2c2c2" stroke="#b6b6b6" stroke-width="0.4"/>
<circle cx="203.17" cy="868.78" r="1.45" fill="#c2c2c2" stroke="#b6b6b6" stroke-width="0.4"/>
<circle cx="176.56" cy="864.89" r="1.45" fill="#c2c2c2" stroke="#b6b6b6" stroke-width="0.4"/>
<circle cx="196.71" cy="878.96" r="1.45" fill="#c2c2c2" stroke="#b6b6b6" stroke-width="0.4"/>
<circle cx="182.98" cy="870.69" r="1.45" fill="#c2c2c2" stroke="#b6b6b6" stroke-width="0.4"/>
<circle cx="177.47" cy="860.88" r="1.45" fill="#c2c2c2" stroke="#b6b6b6" stroke-width="0.4"/>
<circle cx="195.48" cy="879.28" r="1.45" fill="#c2c2c2" stroke="#b6b6b6" stroke-width="0.4"/>
<circle cx="193.54" cy="873.47" r="1.45" fill="#c2c2c2" stroke="#b6b6b6" stroke-width="0.4"/>
<circle cx="209.15" cy="869.46" r="1.45" fill="#c2c2c2" stroke="#b6b6b6" stroke-width="0.4"/>
<circle cx="188.92" cy="871.07" r="1.45" fill="#c2c2c2" stroke="#b6b6b6" stroke-width="0.4"/>
<circle cx="189.89" cy="874.88" r="1.45" fill="#c2c2c2" stroke="#b6b6b6" stroke-width="0.4"/>
<circle cx="180.72" cy="861.43" r="1.45" fill="#c2c2c2" stroke="#b6b6b6" stroke-width="0.4"/>
<circle cx="203.46" cy="871.97" r="1.45" fill="#c2c2c2" stroke="#b6b6b6" stroke-width="0.4"/>
<circle cx="198.32" cy="876.16" r="1.45" fill="#c2c2c2" stroke="#b6b6b6" stroke-width="0.4"/>
<circle cx="199.21" cy="877.57" r="1.45" fill="#c2c2c2" stroke="#b6b6b6" stroke-width="0.4"/>
<circle cx="192.66" cy="872.28" r="1.45" fill="#c2c2c2" stroke="#b6b6b6" stroke-width="0.4"/>
<circle cx="192.92" cy="874.15" r="1.45" fill="#c2c2c2" stroke="#b6b6b6" stroke-width="0.4"/>
<circle cx="197.61" cy="878.15" r="1.45" fill="#c2c2c2" stroke="#b6b6b6" stroke-width="0.4"/>
<circle cx="189.22" cy="873.98" r="1.45" fill="#c2c2c2" stroke="#b6b6b6" stroke-width="0.4"/>
<circle cx="194.75" cy="878.97" r="1.45" fill="#c2c2c2" stroke="#b6b6b6" stroke-width="0.4"/>
<circle cx="184.91" cy="867.95" r="1.45" fill="#c2c2c2" stroke="#b6b6b6" stroke-width="0.4"/>
<circle cx="195.05" cy="878.56" r="1.45" fill="#c2c2c2" stroke="#b6b6b6" stroke-width="0.4"/>
<circle cx="197.68" cy="878.93" r="1.45" fill="#c2c2c2" stroke="#b6b6b6" stroke-width="0.4"/>
<circle cx="198.52" cy="869.71" r="1.45" fill="#c2c2c2" stroke="#b6b6b6" stroke-width="0.4"/>
<circle cx="201.01" cy="870.39" r="1.45" fill="#c2c2c2" stroke="#b6b6b6" stroke-width="0.4"/>
<circle cx="196.47" cy="879.02" r="1.45" fill="#c2c2c2" stroke="#b6b6b6" stroke-width="0.4"/>
<circle cx="203.29" cy="857.34" r="1.45" fill="#c2c2c2" stroke="#b6b6b6" stroke-width="0.4"/>
<circle cx="189.85" cy="873.46" r="1.45" fill="#c2c2c2" stroke="#b6b6b6" stroke-width="0.4"/>
<circle cx="183.11" cy="868.01" r="1.45" fill="#c2c2c2" stroke="#b6b6b6" stroke-width="0.4"/>
<circle cx="188.05" cy="855.69" r="1.45" fill="#c2c2c2" stroke="#b6b6b6" stroke-width="0.4"/>
<circle cx="197.03" cy="878.88" r="1.45" fill="#c2c2c2" stroke="#b6b6b6" stroke-width="0.4"/>
<circle cx="201.7" cy="867.67" r="1.45" fill="#c2c2c2" stroke="#b6b6b6" stroke-width="0.4"/>
<circle cx="209.37" cy="860.97" r="1.45" fill="#c2c2c2" stroke="#b6b6b6" stroke-width="0.4"/>
<circle cx="202.92" cy="867.92" r="1.45" fill="#c2c2c2" stroke="#b6b6b6" stroke-width="0.4"/>
<circle cx="192.03" cy="872.4" r="1.45" fill="#c2c2c2" stroke="#b6b6b6" stroke-width="0.4"/>
<circle cx="189.88" cy="867.32" r="1.45" fill="#c2c2c2" stroke="#b6b6b6" stroke-width="0.4"/>
<circle cx="199.47" cy="876.23" r="1.45" fill="#c2c2c2" stroke="#b6b6b6" stroke-width="0.4"/>
<circle cx="188.29" cy="871.64" r="1.45" fill="#c2c2c2" stroke="#b6b6b6" stroke-width="0.4"/>
<circle cx="204.28" cy="872.66" r="1.45" fill="#c2c2c2" stroke="#b6b6b6" stroke-width="0.4"/>
<circle cx="187.86" cy="874.2" r="1.45" fill="#c2c2c2" stroke="#b6b6b6" stroke-width="0.4"/>
<circle cx="200.41" cy="872.26" r="1.45" fill="#c2c2c2" stroke="#b6b6b6" stroke-width="0.4"/>
<circle cx="199.68" cy="875.72" r="1.45" fill="#c2c2c2" stroke="#b6b6b6" stroke-width="0.4"/>
<circle cx="191.28" cy="869.53" r="1.45" fill="#c2c2c2" stroke="#b6b6b6" stroke-width="0.4"/>
<circle cx="192.61" cy="866.09" r="1.45" fill="#c2c2c2" stroke="#b6b6b6" stroke-width="0.4"/>
<circle cx="207.37" cy="855.11" r="1.45" fill="#c2c2c2" stroke="#b6b6b6" stroke-width="0.4"/>
<circle cx="179.4" cy="854.59" r="1.45" fill="#c2c2c2" stroke="#b6b6b6" stroke-width="0.4"/>
<circle cx="199.41" cy="876.77" r="1.45" fill="#c2c2c2" stroke="#b6b6b6" stroke-width="0.4"/>
<circle cx="194.59" cy="877.43" r="1.45" fill="#c2c2c2" stroke="#b6b6b6" stroke-width="0.4"/>
<circle cx="196.51" cy="879.08" r="1.45" fill="#c2c2c2" stroke="#b6b6b6" stroke-width="0.4"/>
<circle cx="195.06" cy="878.11" r="1.45" fill="#c2c2c2" stroke="#b6b6b6" stroke-width="0.4"/>
<circle cx="194.22" cy="878.95" r="1.45" fill="#c2c2c2" stroke="#b6b6b6" stroke-width="0.4"/>
<circle cx="183.68" cy="853.62" r="1.45" fill="#c2c2c2" stroke="#b6b6b6" stroke-width="0.4"/>
<circle cx="181.76" cy="868.61" r="1.45" fill="#c2c2c2" stroke="#b6b6b6" stroke-width="0.4"/>
<circle cx="173.95" cy="860.38" r="1.45" fill="#c2c2c2" stroke="#b6b6b6" stroke-width="0.4"/>
<circle cx="211.21" cy="868.98" r="1.45" fill="#c2c2c2" stroke="#b6b6b6" stroke-width="0.4"/>
<circle cx="211.61" cy="864.17" r="1.45" fill="#c2c2c2" stroke="#b6b6b6" stroke-width="0.4"/>
<circle cx="203.21" cy="872.36" r="1.45" fill="#c2c2c2" stroke="#b6b6b6" stroke-width="0.4"/>
<circle cx="188.68" cy="871.48" r="1.45" fill="#c2c2c2" stroke="#b6b6b6" stroke-width="0.4"/>
<circle cx="201.96" cy="869.67" r="1.45" fill="#c2c2c2" stroke="#b6b6b6" stroke-width="0.4"/>
<circle cx="206.53" cy="863.26" r="1.45" fill="#c2c2c2" stroke="#b6b6b6" stroke-width="0.4"/>
<circle cx="198.63" cy="876.46" r="1.45" fill="#c2c2c2" stroke="#b6b6b6" stroke-width="0.4"/>
<circle cx="205.48" cy="863.25" r="1.45" fill="#c2c2c2" stroke="#b6b6b6" stroke-width="0.4"/>
<circle cx="208.91" cy="831.36" r="1.45" fill="#c2c2c2" stroke="#b6b6b6" stroke-width="0.4"/>
<circle cx="200.56" cy="874.79" r="1.45" fill="#c2c2c2" stroke="#b6b6b6" stroke-width="0.4"/>
<circle cx="201.15" cy="868.1" r="1.45" fill="#c2c2c2" stroke="#b6b6b6" stroke-width="0.4"/>
<circle cx="207.89" cy="868.59" r="1.45" fill="#c2c2c2" stroke="#b6b6b6" stroke-width="0.4"/>
<circle cx="202.05" cy="868.06" r="1.45" fill="#c2c2c2" stroke="#b6b6b6" stroke-width="0.4"/>
<circle cx="193.35" cy="877.07" r="1.45" fill="#c2c2c2" stroke="#b6b6b6" stroke-width="0.4"/>
<circle cx="184.2" cy="861.29" r="1.45" fill="#c2c2c2" stroke="#b6b6b6" stroke-width="0.4"/>
<circle cx="193.64" cy="869.46" r="1.45" fill="#c2c2c2" stroke="#b6b6b6" stroke-width="0.4"/>
<circle cx="210.69" cy="863.33" r="1.45" fill="#c2c2c2" stroke="#b6b6b6" stroke-width="0.4"/>
<circle cx="192.75" cy="871.47" r="1.45" fill="#c2c2c2" stroke="#b6b6b6" stroke-width="0.4"/>
<circle cx="199.57" cy="876.02" r="1.45" fill="#c2c2c2" stroke="#b6b6b6" stroke-width="0.4"/>
<circle cx="210.49" cy="870.85" r="1.45" fill="#c2c2c2" stroke="#b6b6b6" stroke-width="0.4"/>
<circle cx="174.18" cy="853.92" r="1.45" fill="#c2c2c2" stroke="#b6b6b6" stroke-width="0.4"/>
<circle cx="198.95" cy="876.1" r="1.45" fill="#c2c2c2" stroke="#b6b6b6" stroke-width="0.4"/>
<circle cx="196.94" cy="879.08" r="1.45" fill="#c2c2c2" stroke="#b6b6b6" stroke-width="0.4"/>
<circle cx="197.26" cy="878.7" r="1.45" fill="#c2c2c2" stroke="#b6b6b6" stroke-width="0.4"/>
<circle cx="194.94" cy="878.62" r="1.45" fill="#c2c2c2" stroke="#b6b6b6" stroke-width="0.4"/>
<circle cx="201.68" cy="867.43" r="1.45" fill="#c2c2c2" stroke="#b6b6b6" stroke-width="0.4"/>
<circle cx="197.07" cy="878.83" r="1.45" fill="#c2c2c2" stroke="#b6b6b6" stroke-width="0.4"/>
<circle cx="195.08" cy="879.03" r="1.45" fill="#c2c2c2" stroke="#b6b6b6" stroke-width="0.4"/>
<circle cx="182.77" cy="864.88" r="1.45" fill="#c2c2c2" stroke="#b6b6b6" stroke-width="0.4"/>
<circle cx="212.77" cy="854.47" r="1.45" fill="#c2c2c2" stroke="#b6b6b6" stroke-width="0.4"/>
<circle cx="194.32" cy="878.29" r="1.45" fill="#c2c2c2" stroke="#b6b6b6" stroke-width="0.4"/>
<circle cx="208.56" cy="872.13" r="1.45" fill="#c2c2c2" stroke="#b6b6b6" stroke-width="0.4"/>
<circle cx="196.69" cy="878.84" r="1.45" fill="#c2c2c2" stroke="#b6b6b6" stroke-width="0.4"/>
<circle cx="193.2" cy="873.94" r="1.45" fill="#c2c2c2" stroke="#b6b6b6" stroke-width="0.4"/>
<circle cx="191.09" cy="872.41" r="1.45" fill="#c2c2c2" stroke="#b6b6b6" stroke-width="0.4"/>
<circle cx="194.28" cy="878.88" r="1.45" fill="#c2c2c2" stroke="#b6b6b6" stroke-width="0.4"/>
<circle cx="191.28" cy="868.55" r="1.45" fill="#c2c2c2" stroke="#b6b6b6" stroke-width="0.4"/>
<circle cx="198.28" cy="873.95" r="1.45" fill="#c2c2c2" stroke="#b6b6b6" stroke-width="0.4"/>
<circle cx="197.21" cy="878.55" r="1.45" fill="#c2c2c2" stroke="#b6b6b6" stroke-width="0.4"/>
<circle cx="197.41" cy="877.38" r="1.45" fill="#c2c2c2" stroke="#b6b6b6" stroke-width="0.4"/>
<circle cx="197.13" cy="877.93" r="1.45" fill="#c2c2c2" stroke="#b6b6b6" stroke-width="0.4"/>
<circle cx="208.53" cy="872.59" r="1.45" fill="#c2c2c2" stroke="#b6b6b6" stroke-width="0.4"/>
<circle cx="203.23" cy="869.85" r="1.45" fill="#c2c2c2" stroke="#b6b6b6" stroke-width="0.4"/>
<circle cx="198.51" cy="877.48" r="1.45" fill="#c2c2c2" stroke="#b6b6b6" stroke-width="0.4"/>
<circle cx="199.95" cy="874.56" r="1.45" fill="#c2c2c2" stroke="#b6b6b6" stroke-width="0.4"/>
<circle cx="193.23" cy="877.51" r="1.45" fill="#c2c2c2" stroke="#b6b6b6" stroke-width="0.4"/>
<circle cx="195.24" cy="879.27" r="1.45" fill="#c2c2c2" stroke="#b6b6b6" stroke-width="0.4"/>
<circle cx="186.38" cy="863.72" r="1.45" fill="#c2c2c2" stroke="#b6b6b6" stroke-width="0.4"/>
<circle cx="197.51" cy="878.82" r="1.45" fill="#c2c2c2" stroke="#b6b6b6" stroke-width="0.4"/>
<circle cx="205.98" cy="864.04" r="1.45" fill="#c2c2c2" stroke="#b6b6b6" stroke-width="0.4"/>
<circle cx="186.97" cy="873.84" r="1.45" fill="#c2c2c2" stroke="#b6b6b6" stroke-width="0.4"/>
<circle cx="194.45" cy="877" r="1.45" fill="#c2c2c2" stroke="#b6b6b6" stroke-width="0.4"/>
<circle cx="185.64" cy="850.06" r="1.45" fill="#c2c2c2" stroke="#b6b6b6" stroke-width="0.4"/>
<circle cx="196.87" cy="878.64" r="1.45" fill="#c2c2c2" stroke="#b6b6b6" stroke-width="0.4"/>
<circle cx="196.66" cy="878.18" r="1.45" fill="#c2c2c2" stroke="#b6b6b6" stroke-width="0.4"/>
<circle cx="196.79" cy="878.13" r="1.45" fill="#c2c2c2" stroke="#b6b6b6" stroke-width="0.4"/>
<circle cx="190.71" cy="875.81" r="1.45" fill="#c2c2c2" stroke="#b6b6b6" stroke-width="0.4"/>
<circle cx="198.8" cy="876.28" r="1.45" fill="#c2c2c2" stroke="#b6b6b6" stroke-width="0.4"/>
<circle cx="208.05" cy="869.47" r="1.45" fill="#c2c2c2" stroke="#b6b6b6" stroke-width="0.4"/>
<circle cx="198.2" cy="877.21" r="1.45" fill="#c2c2c2" stroke="#b6b6b6" stroke-width="0.4"/>
<circle cx="206.65" cy="874.52" r="1.45" fill="#c2c2c2" stroke="#b6b6b6" stroke-width="0.4"/>
<circle cx="196.69" cy="878.64" r="1.45" fill="#c2c2c2" stroke="#b6b6b6" stroke-width="0.4"/>
<circle cx="210.11" cy="866.21" r="1.45" fill="#c2c2c2" stroke="#b6b6b6" stroke-width="0.4"/>
<circle cx="190.98" cy="877.5" r="1.45" fill="#c2c2c2" stroke="#b6b6b6" stroke-width="0.4"/>
<circle cx="194.89" cy="878.25" r="1.45" fill="#c2c2c2" stroke="#b6b6b6" stroke-width="0.4"/>
<circle cx="195.25" cy="878.26" r="1.45" fill="#c2c2c2" stroke="#b6b6b6" stroke-width="0.4"/>
<circle cx="192.32" cy="875.66" r="1.45" fill="#c2c2c2" stroke="#b6b6b6" stroke-width="0.4"/>
<circle cx="191.48" cy="874.52" r="1.45" fill="#c2c2c2" stroke="#b6b6b6" stroke-width="0.4"/>
<circle cx="205.13" cy="858.42" r="1.45" fill="#c2c2c2" stroke="#b6b6b6" stroke-width="0.4"/>
<circle cx="197.86" cy="875.46" r="1.45" fill="#c2c2c2" stroke="#b6b6b6" stroke-width="0.4"/>
<circle cx="194.37" cy="877.44" r="1.45" fill="#c2c2c2" stroke="#b6b6b6" stroke-width="0.4"/>
<circle cx="198.06" cy="877.09" r="1.45" fill="#c2c2c2" stroke="#b6b6b6" stroke-width="0.4"/>
<circle cx="200.48" cy="876.19" r="1.45" fill="#c2c2c2" stroke="#b6b6b6" stroke-width="0.4"/>
<circle cx="199.92" cy="873.43" r="1.45" fill="#c2c2c2" stroke="#b6b6b6" stroke-width="0.4"/>
<circle cx="194.62" cy="877.3" r="1.45" fill="#c2c2c2" stroke="#b6b6b6" stroke-width="0.4"/>
<circle cx="193.86" cy="873.62" r="1.45" fill="#c2c2c2" stroke="#b6b6b6" stroke-width="0.4"/>
<circle cx="191.15" cy="875.74" r="1.45" fill="#c2c2c2" stroke="#b6b6b6" stroke-width="0.4"/>
<circle cx="198.02" cy="877.74" r="1.45" fill="#c2c2c2" stroke="#b6b6b6" stroke-width="0.4"/>
<circle cx="172.32" cy="861.15" r="1.45" fill="#c2c2c2" stroke="#b6b6b6" stroke-width="0.4"/>
<circle cx="200.73" cy="874.67" r="1.45" fill="#c2c2c2" stroke="#b6b6b6" stroke-width="0.4"/>
<circle cx="201.48" cy="866.73" r="1.45" fill="#c2c2c2" stroke="#b6b6b6" stroke-width="0.4"/>
<circle cx="186.49" cy="869.02" r="1.45" fill="#c2c2c2" stroke="#b6b6b6" stroke-width="0.4"/>
<circle cx="194.59" cy="877.51" r="1.45" fill="#c2c2c2" stroke="#b6b6b6" stroke-width="0.4"/>
<circle cx="208.3" cy="860.38" r="1.45" fill="#c2c2c2" stroke="#b6b6b6" stroke-width="0.4"/>
<circle cx="199.45" cy="869.92" r="1.45" fill="#c2c2c2" stroke="#b6b6b6" stroke-width="0.4"/>
<circle cx="198.96" cy="878.21" r="1.45" fill="#c2c2c2" stroke="#b6b6b6" stroke-width="0.4"/>
<circle cx="215.15" cy="839.12" r="1.45" fill="#c2c2c2" stroke="#b6b6b6" stroke-width="0.4"/>
<circle cx="195.15" cy="876.25" r="1.45" fill="#c2c2c2" stroke="#b6b6b6" stroke-width="0.4"/>
<circle cx="183.18" cy="861.53" r="1.45" fill="#c2c2c2" stroke="#b6b6b6" stroke-width="0.4"/>
<circle cx="207.3" cy="864.78" r="1.45" fill="#c2c2c2" stroke="#b6b6b6" stroke-width="0.4"/>
<circle cx="190.8" cy="873.64" r="1.45" fill="#c2c2c2" stroke="#b6b6b6" stroke-width="0.4"/>
<circle cx="202.95" cy="865.16" r="1.45" fill="#c2c2c2" stroke="#b6b6b6" stroke-width="0.4"/>
<circle cx="193.84" cy="876.31" r="1.45" fill="#c2c2c2" stroke="#b6b6b6" stroke-width="0.4"/>
<circle cx="201.15" cy="877.2" r="1.45" fill="#c2c2c2" stroke="#b6b6b6" stroke-width="0.4"/>
<circle cx="216.44" cy="856.83" r="1.45" fill="#c2c2c2" stroke="#b6b6b6" stroke-width="0.4"/>
<circle cx="212.12" cy="859.72" r="1.45" fill="#c2c2c2" stroke="#b6b6b6" stroke-width="0.4"/>
<circle cx="197.26" cy="878.55" r="1.45" fill="#c2c2c2" stroke="#b6b6b6" stroke-width="0.4"/>
<circle cx="194.8" cy="877.45" r="1.45" fill="#c2c2c2" stroke="#b6b6b6" stroke-width="0.4"/>
<circle cx="191.01" cy="865.34" r="1.45" fill="#c2c2c2" stroke="#b6b6b6" stroke-width="0.4"/>
<circle cx="203.1" cy="872.97" r="1.45" fill="#c2c2c2" stroke="#b6b6b6" stroke-width="0.4"/>
<circle cx="198.33" cy="875.8" r="1.45" fill="#c2c2c2" stroke="#b6b6b6" stroke-width="0.4"/>
<circle cx="193.45" cy="876.08" r="1.45" fill="#c2c2c2" stroke="#b6b6b6" stroke-width="0.4"/>
<circle cx="196.7" cy="878.5" r="1.45" fill="#c2c2c2" stroke="#b6b6b6" stroke-width="0.4"/>
<circle cx="199.26" cy="869.22" r="1.45" fill="#c2c2c2" stroke="#b6b6b6" stroke-width="0.4"/>
<circle cx="202.15" cy="872.06" r="1.45" fill="#c2c2c2" stroke="#b6b6b6" stroke-width="0.4"/>
<circle cx="195.38" cy="878.9" r="1.45" fill="#c2c2c2" stroke="#b6b6b6" stroke-width="0.4"/>
<circle cx="198.85" cy="872.55" r="1.45" fill="#c2c2c2" stroke="#b6b6b6" stroke-width="0.4"/>
<circle cx="202.2" cy="874.19" r="1.45" fill="#c2c2c2" stroke="#b6b6b6" stroke-width="0.4"/>
<circle cx="200.73" cy="868.16" r="1.45" fill="#c2c2c2" stroke="#b6b6b6" stroke-width="0.4"/>
<circle cx="188.43" cy="876.06" r="1.45" fill="#c2c2c2" stroke="#b6b6b6" stroke-width="0.4"/>
<circle cx="193.92" cy="876.86" r="1.45" fill="#c2c2c2" stroke="#b6b6b6" stroke-width="0.4"/>
<circle cx="192.65" cy="876.39" r="1.45" fill="#c2c2c2" stroke="#b6b6b6" stroke-width="0.4"/>
<circle cx="189.98" cy="869.11" r="1.45" fill="#c2c2c2" stroke="#b6b6b6" stroke-width="0.4"/>
<circle cx="202.68" cy="858.89" r="1.45" fill="#c2c2c2" stroke="#b6b6b6" stroke-width="0.4"/>
<circle cx="202.86" cy="874.23" r="1.45" fill="#c2c2c2" stroke="#b6b6b6" stroke-width="0.4"/>
<circle cx="195.28" cy="878.91" r="1.45" fill="#c2c2c2" stroke="#b6b6b6" stroke-width="0.4"/>
<circle cx="198.27" cy="876.87" r="1.45" fill="#c2c2c2" stroke="#b6b6b6" stroke-width="0.4"/>
<circle cx="207.03" cy="857.8" r="1.45" fill="#c2c2c2" stroke="#b6b6b6" stroke-width="0.4"/>
<circle cx="199.86" cy="876.36" r="1.45" fill="#c2c2c2" stroke="#b6b6b6" stroke-width="0.4"/>
<circle cx="191.49" cy="874.02" r="1.45" fill="#c2c2c2" stroke="#b6b6b6" stroke-width="0.4"/>
<circle cx="205.04" cy="870.93" r="1.45" fill="#c2c2c2" stroke="#b6b6b6" stroke-width="0.4"/>
<circle cx="212.53" cy="845.96" r="1.45" fill="#c2c2c2" stroke="#b6b6b6" stroke-width="0.4"/>
<circle cx="197.62" cy="876.64" r="1.45" fill="#c2c2c2" stroke="#b6b6b6" stroke-width="0.4"/>
<circle cx="199.51" cy="870.51" r="1.45" fill="#c2c2c2" stroke="#b6b6b6" stroke-width="0.4"/>
<circle cx="191.14" cy="876.21" r="1.45" fill="#c2c2c2" stroke="#b6b6b6" stroke-width="0.4"/>
<circle cx="192.87" cy="874.01" r="1.45" fill="#c2c2c2" stroke="#b6b6b6" stroke-width="0.4"/>
<circle cx="197.11" cy="879.2" r="1.45" fill="#c2c2c2" stroke="#b6b6b6" stroke-width="0.4"/>
<circle cx="202.91" cy="872.25" r="1.45" fill="#c2c2c2" stroke="#b6b6b6" stroke-width="0.4"/>
<circle cx="213.37" cy="833.01" r="1.45" fill="#c2c2c2" stroke="#b6b6b6" stroke-width="0.4"/>
<circle cx="193.95" cy="878.39" r="1.45" fill="#c2c2c2" stroke="#b6b6b6" stroke-width="0.4"/>
<circle cx="199.4" cy="874.62" r="1.45" fill="#c2c2c2" stroke="#b6b6b6" stroke-width="0.4"/>
<circle cx="203.62" cy="873.11" r="1.45" fill="#c2c2c2" stroke="#b6b6b6" stroke-width="0.4"/>
<circle cx="209.45" cy="857.74" r="1.45" fill="#c2c2c2" stroke="#b6b6b6" stroke-width="0.4"/>
<circle cx="180.06" cy="867.24" r="1.45" fill="#c2c2c2" stroke="#b6b6b6" stroke-width="0.4"/>
<circle cx="194.13" cy="876.84" r="1.45" fill="#c2c2c2" stroke="#b6b6b6" stroke-width="0.4"/>
<circle cx="198.09" cy="876.93" r="1.45" fill="#c2c2c2" stroke="#b6b6b6" stroke-width="0.4"/>
<circle cx="204.69" cy="871.88" r="1.45" fill="#c2c2c2" stroke="#b6b6b6" stroke-width="0.4"/>
<circle cx="198.51" cy="874.66" r="1.45" fill="#c2c2c2" stroke="#b6b6b6" stroke-width="0.4"/>
<circle cx="196.6" cy="879.02" r="1.45" fill="#c2c2c2" stroke="#b6b6b6" stroke-width="0.4"/>
<circle cx="182.67" cy="870.39" r="1.45" fill="#c2c2c2" stroke="#b6b6b6" stroke-width="0.4"/>
<circle cx="204.97" cy="852.6" r="1.45" fill="#c2c2c2" stroke="#b6b6b6" stroke-width="0.4"/>
<circle cx="197.22" cy="878.12" r="1.45" fill="#c2c2c2" stroke="#b6b6b6" stroke-width="0.4"/>
<circle cx="197.85" cy="878.96" r="1.45" fill="#c2c2c2" stroke="#b6b6b6" stroke-width="0.4"/>
<circle cx="198.22" cy="877.8" r="1.45" fill="#c2c2c2" stroke="#b6b6b6" stroke-width="0.4"/>
<circle cx="181.55" cy="864.03" r="1.45" fill="#c2c2c2" stroke="#b6b6b6" stroke-width="0.4"/>
<circle cx="193.94" cy="879.09" r="1.45" fill="#c2c2c2" stroke="#b6b6b6" stroke-width="0.4"/>
<circle cx="177.79" cy="861.93" r="1.45" fill="#c2c2c2" stroke="#b6b6b6" stroke-width="0.4"/>
<circle cx="193.09" cy="869.6" r="1.45" fill="#c2c2c2" stroke="#b6b6b6" stroke-width="0.4"/>
<circle cx="194.53" cy="877.91" r="1.45" fill="#c2c2c2" stroke="#b6b6b6" stroke-width="0.4"/>
<circle cx="194.95" cy="877.81" r="1.45" fill="#c2c2c2" stroke="#b6b6b6" stroke-width="0.4"/>
<circle cx="201.09" cy="871.89" r="1.45" fill="#c2c2c2" stroke="#b6b6b6" stroke-width="0.4"/>
<circle cx="185.1" cy="868.52" r="1.45" fill="#c2c2c2" stroke="#b6b6b6" stroke-width="0.4"/>
<circle cx="209.76" cy="861.23" r="1.45" fill="#c2c2c2" stroke="#b6b6b6" stroke-width="0.4"/>
<circle cx="201.1" cy="870.28" r="1.45" fill="#c2c2c2" stroke="#b6b6b6" stroke-width="0.4"/>
<circle cx="194.54" cy="876.62" r="1.45" fill="#c2c2c2" stroke="#b6b6b6" stroke-width="0.4"/>
<circle cx="201.14" cy="873.37" r="1.45" fill="#c2c2c2" stroke="#b6b6b6" stroke-width="0.4"/>
<circle cx="190.23" cy="861" r="1.45" fill="#c2c2c2" stroke="#b6b6b6" stroke-width="0.4"/>
<circle cx="201.26" cy="868.62" r="1.45" fill="#c2c2c2" stroke="#b6b6b6" stroke-width="0.4"/>
<circle cx="206.13" cy="875.12" r="1.45" fill="#c2c2c2" stroke="#b6b6b6" stroke-width="0.4"/>
<circle cx="199.26" cy="875.13" r="1.45" fill="#c2c2c2" stroke="#b6b6b6" stroke-width="0.4"/>
<circle cx="194.23" cy="875.31" r="1.45" fill="#c2c2c2" stroke="#b6b6b6" stroke-width="0.4"/>
<circle cx="183.9" cy="868.75" r="1.45" fill="#c2c2c2" stroke="#b6b6b6" stroke-width="0.4"/>
<circle cx="193.97" cy="877.46" r="1.45" fill="#c2c2c2" stroke="#b6b6b6" stroke-width="0.4"/>
<circle cx="205.26" cy="867.8" r="1.45" fill="#c2c2c2" stroke="#b6b6b6" stroke-width="0.4"/>
<circle cx="201.15" cy="870.32" r="1.45" fill="#c2c2c2" stroke="#b6b6b6" stroke-width="0.4"/>
<circle cx="191.52" cy="871.06" r="1.45" fill="#c2c2c2" stroke="#b6b6b6" stroke-width="0.4"/>
<circle cx="194.96" cy="877.75" r="1.45" fill="#c2c2c2" stroke="#b6b6b6" stroke-width="0.4"/>
<circle cx="198.67" cy="872.88" r="1.45" fill="#c2c2c2" stroke="#b6b6b6" stroke-width="0.4"/>
<circle cx="189.27" cy="873.19" r="1.45" fill="#c2c2c2" stroke="#b6b6b6" stroke-width="0.4"/>
<circle cx="197.24" cy="877.29" r="1.45" fill="#c2c2c2" stroke="#b6b6b6" stroke-width="0.4"/>
<circle cx="204.5" cy="870.18" r="1.45" fill="#c2c2c2" stroke="#b6b6b6" stroke-width="0.4"/>
<circle cx="196.98" cy="878.78" r="1.45" fill="#c2c2c2" stroke="#b6b6b6" stroke-width="0.4"/>
<circle cx="197.91" cy="876.49" r="1.45" fill="#c2c2c2" stroke="#b6b6b6" stroke-width="0.4"/>
<circle cx="198.74" cy="870.27" r="1.45" fill="#c2c2c2" stroke="#b6b6b6" stroke-width="0.4"/>
<circle cx="201.84" cy="873.66" r="1.45" fill="#c2c2c2" stroke="#b6b6b6" stroke-width="0.4"/>
<circle cx="192.32" cy="875.66" r="1.45" fill="#c2c2c2" stroke="#b6b6b6" stroke-width="0.4"/>
<circle cx="185.4" cy="866.11" r="1.45" fill="#c2c2c2" stroke="#b6b6b6" stroke-width="0.4"/>
<circle cx="173.32" cy="846.35" r="1.45" fill="#c2c2c2" stroke="#b6b6b6" stroke-width="0.4"/>
<circle cx="171.32" cy="851.71" r="1.45" fill="#c2c2c2" stroke="#b6b6b6" stroke-width="0.4"/>
<circle cx="196.52" cy="878.85" r="1.45" fill="#c2c2c2" stroke="#b6b6b6" stroke-width="0.4"/>
<circle cx="194.79" cy="877.64" r="1.45" fill="#c2c2c2" stroke="#b6b6b6" stroke-width="0.4"/>
<circle cx="204.93" cy="860.81" r="1.45" fill="#c2c2c2" stroke="#b6b6b6" stroke-width="0.4"/>
<circle cx="195.09" cy="878.39" r="1.45" fill="#c2c2c2" stroke="#b6b6b6" stroke-width="0.4"/>
<circle cx="198.93" cy="869.47" r="1.45" fill="#c2c2c2" stroke="#b6b6b6" stroke-width="0.4"/>
<circle cx="194.6" cy="878.45" r="1.45" fill="#c2c2c2" stroke="#b6b6b6" stroke-width="0.4"/>
<circle cx="198.41" cy="875.54" r="1.45" fill="#c2c2c2" stroke="#b6b6b6" stroke-width="0.4"/>
<circle cx="199.51" cy="871.37" r="1.45" fill="#c2c2c2" stroke="#b6b6b6" stroke-width="0.4"/>
<circle cx="204.43" cy="858.76" r="1.45" fill="#c2c2c2" stroke="#b6b6b6" stroke-width="0.4"/>
<circle cx="182.4" cy="862.48" r="1.45" fill="#c2c2c2" stroke="#b6b6b6" stroke-width="0.4"/>
<circle cx="200.15" cy="873.3" r="1.45" fill="#c2c2c2" stroke="#b6b6b6" stroke-width="0.4"/>
<circle cx="199.71" cy="872.23" r="1.45" fill="#c2c2c2" stroke="#b6b6b6" stroke-width="0.4"/>
<circle cx="192.95" cy="878.26" r="1.45" fill="#c2c2c2" stroke="#b6b6b6" stroke-width="0.4"/>
<circle cx="193.46" cy="877.69" r="1.45" fill="#c2c2c2" stroke="#b6b6b6" stroke-width="0.4"/>
<circle cx="185.21" cy="873.81" r="1.45" fill="#c2c2c2" stroke="#b6b6b6" stroke-width="0.4"/>
<circle cx="191.17" cy="876.64" r="1.45" fill="#c2c2c2" stroke="#b6b6b6" stroke-width="0.4"/>
<circle cx="193.4" cy="875.07" r="1.45" fill="#c2c2c2" stroke="#b6b6b6" stroke-width="0.4"/>
<circle cx="202.39" cy="870.6" r="1.45" fill="#c2c2c2" stroke="#b6b6b6" stroke-width="0.4"/>
<circle cx="194.77" cy="876.39" r="1.45" fill="#c2c2c2" stroke="#b6b6b6" stroke-width="0.4"/>
<circle cx="213.58" cy="868.81" r="1.45" fill="#c2c2c2" stroke="#b6b6b6" stroke-width="0.4"/>
<circle cx="183.2" cy="867.29" r="1.45" fill="#c2c2c2" stroke="#b6b6b6" stroke-width="0.4"/>
<circle cx="195.3" cy="879.11" r="1.45" fill="#c2c2c2" stroke="#b6b6b6" stroke-width="0.4"/>
<circle cx="202.72" cy="872.45" r="1.45" fill="#c2c2c2" stroke="#b6b6b6" stroke-width="0.4"/>
<circle cx="197.64" cy="876.48" r="1.45" fill="#c2c2c2" stroke="#b6b6b6" stroke-width="0.4"/>
<circle cx="194.42" cy="877.61" r="1.45" fill="#c2c2c2" stroke="#b6b6b6" stroke-width="0.4"/>
<circle cx="189.31" cy="872.9" r="1.45" fill="#c2c2c2" stroke="#b6b6b6" stroke-width="0.4"/>
<circle cx="174.67" cy="859.69" r="1.45" fill="#c2c2c2" stroke="#b6b6b6" stroke-width="0.4"/>
<circle cx="203.15" cy="868.64" r="1.45" fill="#c2c2c2" stroke="#b6b6b6" stroke-width="0.4"/>
<circle cx="193.32" cy="876.24" r="1.45" fill="#c2c2c2" stroke="#b6b6b6" stroke-width="0.4"/>
<circle cx="208.95" cy="839.12" r="1.45" fill="#c2c2c2" stroke="#b6b6b6" stroke-width="0.4"/>
<circle cx="206.83" cy="869.74" r="1.45" fill="#c2c2c2" stroke="#b6b6b6" stroke-width="0.4"/>
<circle cx="196.54" cy="878.49" r="1.45" fill="#c2c2c2" stroke="#b6b6b6" stroke-width="0.4"/>
<circle cx="200.49" cy="872.77" r="1.45" fill="#c2c2c2" stroke="#b6b6b6" stroke-width="0.4"/>
<circle cx="207.95" cy="850.45" r="1.45" fill="#c2c2c2" stroke="#b6b6b6" stroke-width="0.4"/>
<circle cx="198.9" cy="877.51" r="1.45" fill="#c2c2c2" stroke="#b6b6b6" stroke-width="0.4"/>
<circle cx="194.45" cy="876.35" r="1.45" fill="#c2c2c2" stroke="#b6b6b6" stroke-width="0.4"/>
<circle cx="179.54" cy="866.09" r="1.45" fill="#c2c2c2" stroke="#b6b6b6" stroke-width="0.4"/>
<circle cx="201.92" cy="875.12" r="1.45" fill="#c2c2c2" stroke="#b6b6b6" stroke-width="0.4"/>
<circle cx="205.39" cy="873.23" r="1.45" fill="#c2c2c2" stroke="#b6b6b6" stroke-width="0.4"/>
<circle cx="198.61" cy="874.98" r="1.45" fill="#c2c2c2" stroke="#b6b6b6" stroke-width="0.4"/>
<circle cx="205.7" cy="853.29" r="1.45" fill="#c2c2c2" stroke="#b6b6b6" stroke-width="0.4"/>
<circle cx="181.51" cy="857.57" r="1.45" fill="#c2c2c2" stroke="#b6b6b6" stroke-width="0.4"/>
<circle cx="192.71" cy="874.38" r="1.45" fill="#c2c2c2" stroke="#b6b6b6" stroke-width="0.4"/>
<circle cx="200.15" cy="873.09" r="1.45" fill="#c2c2c2" stroke="#b6b6b6" stroke-width="0.4"/>
<circle cx="180.3" cy="851.1" r="1.45" fill="#c2c2c2" stroke="#b6b6b6" stroke-width="0.4"/>
<circle cx="190.37" cy="873.61" r="1.45" fill="#c2c2c2" stroke="#b6b6b6" stroke-width="0.4"/>
<circle cx="197.99" cy="877.84" r="1.45" fill="#c2c2c2" stroke="#b6b6b6" stroke-width="0.4"/>
<circle cx="192.94" cy="875.71" r="1.45" fill="#c2c2c2" stroke="#b6b6b6" stroke-width="0.4"/>
<circle cx="192" cy="873.11" r="1.45" fill="#c2c2c2" stroke="#b6b6b6" stroke-width="0.4"/>
<circle cx="197.65" cy="876.58" r="1.45" fill="#c2c2c2" stroke="#b6b6b6" stroke-width="0.4"/>
<circle cx="209" cy="857.93" r="1.45" fill="#c2c2c2" stroke="#b6b6b6" stroke-width="0.4"/>
<circle cx="198.51" cy="876.34" r="1.45" fill="#c2c2c2" stroke="#b6b6b6" stroke-width="0.4"/>
<circle cx="190.68" cy="872.43" r="1.45" fill="#c2c2c2" stroke="#b6b6b6" stroke-width="0.4"/>
<circle cx="192.03" cy="876.68" r="1.45" fill="#c2c2c2" stroke="#b6b6b6" stroke-width="0.4"/>
<circle cx="199.31" cy="873.97" r="1.45" fill="#c2c2c2" stroke="#b6b6b6" stroke-width="0.4"/>
<circle cx="202.31" cy="876.58" r="1.45" fill="#c2c2c2" stroke="#b6b6b6" stroke-width="0.4"/>
<circle cx="182.21" cy="844.67" r="1.45" fill="#c2c2c2" stroke="#b6b6b6" stroke-width="0.4"/>
<circle cx="213.33" cy="866.02" r="1.45" fill="#c2c2c2" stroke="#b6b6b6" stroke-width="0.4"/>
<circle cx="197.66" cy="877.35" r="1.45" fill="#c2c2c2" stroke="#b6b6b6" stroke-width="0.4"/>
<circle cx="206.99" cy="867.58" r="1.45" fill="#c2c2c2" stroke="#b6b6b6" stroke-width="0.4"/>
<circle cx="209.47" cy="852.12" r="1.45" fill="#c2c2c2" stroke="#b6b6b6" stroke-width="0.4"/>
<circle cx="195.55" cy="879.14" r="1.45" fill="#c2c2c2" stroke="#b6b6b6" stroke-width="0.4"/>
<circle cx="179.07" cy="855.77" r="1.45" fill="#c2c2c2" stroke="#b6b6b6" stroke-width="0.4"/>
<circle cx="199.9" cy="870.55" r="1.45" fill="#c2c2c2" stroke="#b6b6b6" stroke-width="0.4"/>
<circle cx="204.23" cy="866.17" r="1.45" fill="#c2c2c2" stroke="#b6b6b6" stroke-width="0.4"/>
<circle cx="189.77" cy="875.04" r="1.45" fill="#c2c2c2" stroke="#b6b6b6" stroke-width="0.4"/>
<circle cx="197.84" cy="878.73" r="1.45" fill="#c2c2c2" stroke="#b6b6b6" stroke-width="0.4"/>
<circle cx="205.43" cy="851.64" r="1.45" fill="#c2c2c2" stroke="#b6b6b6" stroke-width="0.4"/>
<circle cx="198.19" cy="876.57" r="1.45" fill="#c2c2c2" stroke="#b6b6b6" stroke-width="0.4"/>
<circle cx="185.1" cy="861.22" r="1.45" fill="#c2c2c2" stroke="#b6b6b6" stroke-width="0.4"/>
<circle cx="199.22" cy="876.97" r="1.45" fill="#c2c2c2" stroke="#b6b6b6" stroke-width="0.4"/>
<circle cx="197.46" cy="878.5" r="1.45" fill="#c2c2c2" stroke="#b6b6b6" stroke-width="0.4"/>
<circle cx="190.77" cy="876.83" r="1.45" fill="#c2c2c2" stroke="#b6b6b6" stroke-width="0.4"/>
<circle cx="196.89" cy="878.78" r="1.45" fill="#c2c2c2" stroke="#b6b6b6" stroke-width="0.4"/>
<circle cx="186.26" cy="874.65" r="1.45" fill="#c2c2c2" stroke="#b6b6b6" stroke-width="0.4"/>
<circle cx="188.96" cy="873.88" r="1.45" fill="#c2c2c2" stroke="#b6b6b6" stroke-width="0.4"/>
<circle cx="181.71" cy="858.08" r="1.45" fill="#c2c2c2" stroke="#b6b6b6" stroke-width="0.4"/>
<circle cx="195.03" cy="879.09" r="1.45" fill="#c2c2c2" stroke="#b6b6b6" stroke-width="0.4"/>
<circle cx="214.44" cy="854.9" r="1.45" fill="#c2c2c2" stroke="#b6b6b6" stroke-width="0.4"/>
<circle cx="218.97" cy="852.11" r="1.45" fill="#c2c2c2" stroke="#b6b6b6" stroke-width="0.4"/>
<circle cx="186.84" cy="864.38" r="1.45" fill="#c2c2c2" stroke="#b6b6b6" stroke-width="0.4"/>
<circle cx="191.61" cy="872.84" r="1.45" fill="#c2c2c2" stroke="#b6b6b6" stroke-width="0.4"/>
<circle cx="200.58" cy="873.18" r="1.45" fill="#c2c2c2" stroke="#b6b6b6" stroke-width="0.4"/>
<circle cx="205.36" cy="862.38" r="1.45" fill="#c2c2c2" stroke="#b6b6b6" stroke-width="0.4"/>
<circle cx="194.31" cy="878.9" r="1.45" fill="#c2c2c2" stroke="#b6b6b6" stroke-width="0.4"/>
<circle cx="197.58" cy="878.81" r="1.45" fill="#c2c2c2" stroke="#b6b6b6" stroke-width="0.4"/>
<circle cx="195.03" cy="877.02" r="1.45" fill="#c2c2c2" stroke="#b6b6b6" stroke-width="0.4"/>
<circle cx="196.93" cy="878.64" r="1.45" fill="#c2c2c2" stroke="#b6b6b6" stroke-width="0.4"/>
<circle cx="197.82" cy="875.7" r="1.45" fill="#c2c2c2" stroke="#b6b6b6" stroke-width="0.4"/>
<circle cx="197.04" cy="878.7" r="1.45" fill="#c2c2c2" stroke="#b6b6b6" stroke-width="0.4"/>
<circle cx="202.99" cy="867.97" r="1.45" fill="#c2c2c2" stroke="#b6b6b6" stroke-width="0.4"/>
<circle cx="194.04" cy="876.28" r="1.45" fill="#c2c2c2" stroke="#b6b6b6" stroke-width="0.4"/>
<circle cx="217.62" cy="845.36" r="1.45" fill="#c2c2c2" stroke="#b6b6b6" stroke-width="0.4"/>
<circle cx="195.12" cy="878.8" r="1.45" fill="#c2c2c2" stroke="#b6b6b6" stroke-width="0.4"/>
<circle cx="193.87" cy="877.47" r="1.45" fill="#c2c2c2" stroke="#b6b6b6" stroke-width="0.4"/>
<circle cx="199.62" cy="874.73" r="1.45" fill="#c2c2c2" stroke="#b6b6b6" stroke-width="0.4"/>
<circle cx="203.51" cy="872.81" r="1.45" fill="#c2c2c2" stroke="#b6b6b6" stroke-width="0.4"/>
<circle cx="184.1" cy="867.55" r="1.45" fill="#c2c2c2" stroke="#b6b6b6" stroke-width="0.4"/>
<circle cx="194.47" cy="877.73" r="1.45" fill="#c2c2c2" stroke="#b6b6b6" stroke-width="0.4"/>
<circle cx="186.98" cy="870.24" r="1.45" fill="#c2c2c2" stroke="#b6b6b6" stroke-width="0.4"/>
<circle cx="193.7" cy="877.21" r="1.45" fill="#c2c2c2" stroke="#b6b6b6" stroke-width="0.4"/>
<circle cx="193.2" cy="878.41" r="1.45" fill="#c2c2c2" stroke="#b6b6b6" stroke-width="0.4"/>
<circle cx="187.82" cy="860.44" r="1.45" fill="#c2c2c2" stroke="#b6b6b6" stroke-width="0.4"/>
<circle cx="201.76" cy="873.16" r="1.45" fill="#c2c2c2" stroke="#b6b6b6" stroke-width="0.4"/>
<circle cx="194.85" cy="878.71" r="1.45" fill="#c2c2c2" stroke="#b6b6b6" stroke-width="0.4"/>
<circle cx="199.6" cy="874.86" r="1.45" fill="#c2c2c2" stroke="#b6b6b6" stroke-width="0.4"/>
<circle cx="213.05" cy="861.57" r="1.45" fill="#c2c2c2" stroke="#b6b6b6" stroke-width="0.4"/>
<circle cx="169.01" cy="852.71" r="1.45" fill="#c2c2c2" stroke="#b6b6b6" stroke-width="0.4"/>
<circle cx="186.83" cy="873.25" r="1.45" fill="#c2c2c2" stroke="#b6b6b6" stroke-width="0.4"/>
<circle cx="200.71" cy="874.76" r="1.45" fill="#c2c2c2" stroke="#b6b6b6" stroke-width="0.4"/>
<circle cx="189.95" cy="873.32" r="1.45" fill="#c2c2c2" stroke="#b6b6b6" stroke-width="0.4"/>
<circle cx="199.13" cy="873.95" r="1.45" fill="#c2c2c2" stroke="#b6b6b6" stroke-width="0.4"/>
<circle cx="203.87" cy="863.18" r="1.45" fill="#c2c2c2" stroke="#b6b6b6" stroke-width="0.4"/>
<circle cx="208.85" cy="860.09" r="1.45" fill="#c2c2c2" stroke="#b6b6b6" stroke-width="0.4"/>
<circle cx="193.53" cy="872.32" r="1.45" fill="#c2c2c2" stroke="#b6b6b6" stroke-width="0.4"/>
<circle cx="199.64" cy="877.01" r="1.45" fill="#c2c2c2" stroke="#b6b6b6" stroke-width="0.4"/>
<circle cx="193.23" cy="873.3" r="1.45" fill="#c2c2c2" stroke="#b6b6b6" stroke-width="0.4"/>
<circle cx="201.28" cy="874.66" r="1.45" fill="#c2c2c2" stroke="#b6b6b6" stroke-width="0.4"/>
<circle cx="208.08" cy="870.21" r="1.45" fill="#c2c2c2" stroke="#b6b6b6" stroke-width="0.4"/>
<circle cx="184.82" cy="850.02" r="1.45" fill="#c2c2c2" stroke="#b6b6b6" stroke-width="0.4"/>
<circle cx="194.06" cy="876.31" r="1.45" fill="#c2c2c2" stroke="#b6b6b6" stroke-width="0.4"/>
<circle cx="190.42" cy="861.44" r="1.45" fill="#c2c2c2" stroke="#b6b6b6" stroke-width="0.4"/>
<circle cx="202.82" cy="873.48" r="1.45" fill="#c2c2c2" stroke="#b6b6b6" stroke-width="0.4"/>
<circle cx="198.79" cy="876.3" r="1.45" fill="#c2c2c2" stroke="#b6b6b6" stroke-width="0.4"/>
<circle cx="198.99" cy="876.84" r="1.45" fill="#c2c2c2" stroke="#b6b6b6" stroke-width="0.4"/>
<circle cx="187.69" cy="859.85" r="1.45" fill="#c2c2c2" stroke="#b6b6b6" stroke-width="0.4"/>
<circle cx="197.78" cy="877.8" r="1.45" fill="#c2c2c2" stroke="#b6b6b6" stroke-width="0.4"/>
<circle cx="215.68" cy="860.81" r="1.45" fill="#c2c2c2" stroke="#b6b6b6" stroke-width="0.4"/>
<circle cx="202" cy="872.25" r="1.45" fill="#c2c2c2" stroke="#b6b6b6" stroke-width="0.4"/>
<circle cx="206.72" cy="870.22" r="1.45" fill="#c2c2c2" stroke="#b6b6b6" stroke-width="0.4"/>
<circle cx="213.66" cy="866" r="1.45" fill="#c2c2c2" stroke="#b6b6b6" stroke-width="0.4"/>
<circle cx="199.65" cy="875.7" r="1.45" fill="#c2c2c2" stroke="#b6b6b6" stroke-width="0.4"/>
<circle cx="189.42" cy="873.52" r="1.45" fill="#c2c2c2" stroke="#b6b6b6" stroke-width="0.4"/>
<circle cx="220.05" cy="852.17" r="1.45" fill="#c2c2c2" stroke="#b6b6b6" stroke-width="0.4"/>
<circle cx="187.41" cy="872.94" r="1.45" fill="#c2c2c2" stroke="#b6b6b6" stroke-width="0.4"/>
<circle cx="198.52" cy="878.49" r="1.45" fill="#c2c2c2" stroke="#b6b6b6" stroke-width="0.4"/>
<circle cx="196.94" cy="876.44" r="1.45" fill="#c2c2c2" stroke="#b6b6b6" stroke-width="0.4"/>
<circle cx="197.36" cy="878.53" r="1.45" fill="#c2c2c2" stroke="#b6b6b6" stroke-width="0.4"/>
<circle cx="191.57" cy="873.67" r="1.45" fill="#c2c2c2" stroke="#b6b6b6" stroke-width="0.4"/>
<circle cx="197.26" cy="879.03" r="1.45" fill="#c2c2c2" stroke="#b6b6b6" stroke-width="0.4"/>
<circle cx="209.3" cy="865.72" r="1.45" fill="#c2c2c2" stroke="#b6b6b6" stroke-width="0.4"/>
<circle cx="194.1" cy="875.8" r="1.45" fill="#c2c2c2" stroke="#b6b6b6" stroke-width="0.4"/>
<circle cx="199.15" cy="876.11" r="1.45" fill="#c2c2c2" stroke="#b6b6b6" stroke-width="0.4"/>
<circle cx="193.44" cy="875.94" r="1.45" fill="#c2c2c2" stroke="#b6b6b6" stroke-width="0.4"/>
<circle cx="210.45" cy="862.14" r="1.45" fill="#c2c2c2" stroke="#b6b6b6" stroke-width="0.4"/>
<circle cx="196.58" cy="878.08" r="1.45" fill="#c2c2c2" stroke="#b6b6b6" stroke-width="0.4"/>
<circle cx="197.55" cy="877.3" r="1.45" fill="#c2c2c2" stroke="#b6b6b6" stroke-width="0.4"/>
<circle cx="198.25" cy="877.73" r="1.45" fill="#c2c2c2" stroke="#b6b6b6" stroke-width="0.4"/>
<circle cx="215.39" cy="863.78" r="1.45" fill="#c2c2c2" stroke="#b6b6b6" stroke-width="0.4"/>
<circle cx="205.38" cy="858.99" r="1.45" fill="#c2c2c2" stroke="#b6b6b6" stroke-width="0.4"/>
<circle cx="196.98" cy="878.54" r="1.45" fill="#c2c2c2" stroke="#b6b6b6" stroke-width="0.4"/>
<circle cx="204.17" cy="866.1" r="1.45" fill="#c2c2c2" stroke="#b6b6b6" stroke-width="0.4"/>
<circle cx="211.77" cy="857.58" r="1.45" fill="#c2c2c2" stroke="#b6b6b6" stroke-width="0.4"/>
<circle cx="194.9" cy="877.11" r="1.45" fill="#c2c2c2" stroke="#b6b6b6" stroke-width="0.4"/>
<circle cx="195.08" cy="878.65" r="1.45" fill="#c2c2c2" stroke="#b6b6b6" stroke-width="0.4"/>
<circle cx="185.92" cy="872.7" r="1.45" fill="#c2c2c2" stroke="#b6b6b6" stroke-width="0.4"/>
<circle cx="194.42" cy="878.64" r="1.45" fill="#c2c2c2" stroke="#b6b6b6" stroke-width="0.4"/>
<circle cx="193.16" cy="873.57" r="1.45" fill="#c2c2c2" stroke="#b6b6b6" stroke-width="0.4"/>
<circle cx="198.63" cy="874.53" r="1.45" fill="#c2c2c2" stroke="#b6b6b6" stroke-width="0.4"/>
<circle cx="188.81" cy="872.62" r="1.45" fill="#c2c2c2" stroke="#b6b6b6" stroke-width="0.4"/>
<circle cx="196.48" cy="879.03" r="1.45" fill="#c2c2c2" stroke="#b6b6b6" stroke-width="0.4"/>
<circle cx="201.31" cy="869.43" r="1.45" fill="#c2c2c2" stroke="#b6b6b6" stroke-width="0.4"/>
<circle cx="181.1" cy="838.1" r="1.45" fill="#c2c2c2" stroke="#b6b6b6" stroke-width="0.4"/>
<circle cx="209.16" cy="869.04" r="1.45" fill="#c2c2c2" stroke="#b6b6b6" stroke-width="0.4"/>
<circle cx="198.65" cy="875.42" r="1.45" fill="#c2c2c2" stroke="#b6b6b6" stroke-width="0.4"/>
<circle cx="190.28" cy="871.24" r="1.45" fill="#c2c2c2" stroke="#b6b6b6" stroke-width="0.4"/>
<circle cx="189.4" cy="871.92" r="1.45" fill="#c2c2c2" stroke="#b6b6b6" stroke-width="0.4"/>
<circle cx="203.36" cy="867.05" r="1.45" fill="#c2c2c2" stroke="#b6b6b6" stroke-width="0.4"/>
<circle cx="199.29" cy="875.22" r="1.45" fill="#c2c2c2" stroke="#b6b6b6" stroke-width="0.4"/>
<circle cx="193.96" cy="879.09" r="1.45" fill="#c2c2c2" stroke="#b6b6b6" stroke-width="0.4"/>
<circle cx="214.27" cy="869.44" r="1.45" fill="#c2c2c2" stroke="#b6b6b6" stroke-width="0.4"/>
<circle cx="205.44" cy="869.72" r="1.45" fill="#c2c2c2" stroke="#b6b6b6" stroke-width="0.4"/>
<circle cx="191.7" cy="875.31" r="1.45" fill="#c2c2c2" stroke="#b6b6b6" stroke-width="0.4"/>
<circle cx="213.37" cy="849.5" r="1.45" fill="#c2c2c2" stroke="#b6b6b6" stroke-width="0.4"/>
<circle cx="173.33" cy="862.33" r="1.45" fill="#c2c2c2" stroke="#b6b6b6" stroke-width="0.4"/>
<circle cx="198.73" cy="875.91" r="1.45" fill="#c2c2c2" stroke="#b6b6b6" stroke-width="0.4"/>
<circle cx="193.49" cy="878.21" r="1.45" fill="#c2c2c2" stroke="#b6b6b6" stroke-width="0.4"/>
<circle cx="193.46" cy="877.91" r="1.45" fill="#c2c2c2" stroke="#b6b6b6" stroke-width="0.4"/>
<circle cx="182.69" cy="856.33" r="1.45" fill="#c2c2c2" stroke="#b6b6b6" stroke-width="0.4"/>
<circle cx="193.56" cy="875.42" r="1.45" fill="#c2c2c2" stroke="#b6b6b6" stroke-width="0.4"/>
<circle cx="185.06" cy="871.75" r="1.45" fill="#c2c2c2" stroke="#b6b6b6" stroke-width="0.4"/>
<circle cx="198.16" cy="874.49" r="1.45" fill="#c2c2c2" stroke="#b6b6b6" stroke-width="0.4"/>
<circle cx="194.95" cy="878.74" r="1.45" fill="#c2c2c2" stroke="#b6b6b6" stroke-width="0.4"/>
<circle cx="204.92" cy="870.64" r="1.45" fill="#c2c2c2" stroke="#b6b6b6" stroke-width="0.4"/>
<path d="M186.32 646.68 L186.24 658.57 L186.17 669.19 L186.09 678.72 L186.02 687.33 L185.94 695.15 L185.87 702.28 L185.79 708.8 L185.72 714.8 L185.64 720.32 L185.57 725.44 L185.49 730.18 L185.42 734.59 L185.34 738.71 L185.27 742.55 L185.19 746.16 L185.12 749.54 L185.04 752.72 L184.97 755.72 L184.89 758.55 L184.82 761.23 L184.74 763.76 L184.67 766.16 L184.59 768.44 L184.52 770.61 L184.44 772.68 L184.37 774.65 L184.29 776.52 L184.22 778.32 L184.14 780.03 L184.07 781.67 L183.99 783.25 L183.92 784.75 L183.84 786.2 L183.77 787.59 L183.69 788.93 L183.62 790.21 L183.54 791.45 L183.47 792.65 L183.39 793.79 L183.32 794.9 L183.24 795.97 L183.17 797.01 L183.09 798.01 L183.02 798.97 L182.94 799.91 L182.87 800.81 L182.79 801.69 L182.72 802.54 L182.64 803.37 L182.57 804.16 L182.49 804.94 L182.42 805.69 L182.34 806.42 L182.27 807.13 L182.19 807.83 L182.12 808.5 L182.04 809.15 L181.97 809.79 L181.97 809.79 L180.83 817.68 L179.69 823.3 L178.56 827.5 L177.42 830.76 L176.29 833.37 L175.15 835.5 L174.02 837.27 L172.88 838.76 L171.74 840.05 L170.61 841.16 L169.47 842.13 L168.34 842.99 L167.2 843.75 L166.07 844.43 L164.93 845.04 L163.8 845.59 L162.66 846.1 L161.52 846.56 L160.39 846.98 L159.25 847.36 L158.12 847.72 L156.98 848.05 L155.85 848.36 L154.71 848.65 L153.57 848.91 L152.44 849.16 L151.3 849.4 L150.17 849.62 L149.03 849.82 L147.9 850.02 L146.76 850.2 L145.63 850.38 L144.49 850.54 L143.35 850.7 L142.22 850.85 L141.08 850.99 L139.95 851.12 L138.81 851.25 L137.68 851.37 L136.54 851.49 L135.41 851.6 L134.27 851.71 L133.13 851.81 L132 851.91 L130.86 852 L129.73 852.1 L128.59 852.18 L127.46 852.27 L126.32 852.35 L125.18 852.43 L124.05 852.5 L122.91 852.57 L121.78 852.64 L120.64 852.71 L119.51 852.78 L118.37 852.84 L117.24 852.9 L116.1 852.96 L114.96 853.02 L113.83 853.07 L112.69 853.13 L111.56 853.18 L110.42 853.23 L109.29 853.28 L108.15 853.33 L107.02 853.38 L105.88 853.42 L104.74 853.46 L103.61 853.51 L102.47 853.55 L101.34 853.59 L100.2 853.63 L99.07 853.67 L97.93 853.71 L96.79 853.74 L95.66 853.78 L94.52 853.81 L93.39 853.85 L92.25 853.88 L91.12 853.91 L89.98 853.94 L88.85 853.97 L87.71 854 L86.57 854.03 L85.44 854.06 L84.3 854.09 L83.17 854.12 L82.03 854.15 L80.9 854.17 L79.76 854.2 L78.62 854.22 L77.49 854.25 L76.35 854.27 L75.22 854.3 L74.08 854.32 L72.95 854.34 L71.81 854.37 L70.68 854.39 L69.54 854.41 L68.4 854.43 L67.27 854.45 L66.13 854.47 L65 854.49 L63.86 854.51 L62.73 854.53 L61.59 854.55" fill="none" stroke="#111" stroke-width="1.25" stroke-linejoin="round"/>
<path d="M205.68 646.68 L205.76 658.57 L205.83 669.19 L205.91 678.72 L205.98 687.33 L206.06 695.15 L206.13 702.28 L206.21 708.8 L206.28 714.8 L206.36 720.32 L206.43 725.44 L206.51 730.18 L206.58 734.59 L206.66 738.71 L206.73 742.55 L206.81 746.16 L206.88 749.54 L206.96 752.72 L207.03 755.72 L207.11 758.55 L207.18 761.23 L207.26 763.76 L207.33 766.16 L207.41 768.44 L207.48 770.61 L207.56 772.68 L207.63 774.65 L207.71 776.52 L207.78 778.32 L207.86 780.03 L207.93 781.67 L208.01 783.25 L208.08 784.75 L208.16 786.2 L208.23 787.59 L208.31 788.93 L208.38 790.21 L208.46 791.45 L208.53 792.65 L208.61 793.79 L208.68 794.9 L208.76 795.97 L208.83 797.01 L208.91 798.01 L208.98 798.97 L209.06 799.91 L209.13 800.81 L209.21 801.69 L209.28 802.54 L209.36 803.37 L209.43 804.16 L209.51 804.94 L209.58 805.69 L209.66 806.42 L209.73 807.13 L209.81 807.83 L209.88 808.5 L209.96 809.15 L210.03 809.79 L210.03 809.79 L211.17 817.68 L212.31 823.3 L213.44 827.5 L214.58 830.76 L215.71 833.37 L216.85 835.5 L217.98 837.27 L219.12 838.76 L220.26 840.05 L221.39 841.16 L222.53 842.13 L223.66 842.99 L224.8 843.75 L225.93 844.43 L227.07 845.04 L228.2 845.59 L229.34 846.1 L230.48 846.56 L231.61 846.98 L232.75 847.36 L233.88 847.72 L235.02 848.05 L236.15 848.36 L237.29 848.65 L238.43 848.91 L239.56 849.16 L240.7 849.4 L241.83 849.62 L242.97 849.82 L244.1 850.02 L245.24 850.2 L246.37 850.38 L247.51 850.54 L248.65 850.7 L249.78 850.85 L250.92 850.99 L252.05 851.12 L253.19 851.25 L254.32 851.37 L255.46 851.49 L256.59 851.6 L257.73 851.71 L258.87 851.81 L260 851.91 L261.14 852 L262.27 852.1 L263.41 852.18 L264.54 852.27 L265.68 852.35 L266.82 852.43 L267.95 852.5 L269.09 852.57 L270.22 852.64 L271.36 852.71 L272.49 852.78 L273.63 852.84 L274.76 852.9 L275.9 852.96 L277.04 853.02 L278.17 853.07 L279.31 853.13 L280.44 853.18 L281.58 853.23 L282.71 853.28 L283.85 853.33 L284.98 853.38 L286.12 853.42 L287.26 853.46 L288.39 853.51 L289.53 853.55 L290.66 853.59 L291.8 853.63 L292.93 853.67 L294.07 853.71 L295.21 853.74 L296.34 853.78 L297.48 853.81 L298.61 853.85 L299.75 853.88 L300.88 853.91 L302.02 853.94 L303.15 853.97 L304.29 854 L305.43 854.03 L306.56 854.06 L307.7 854.09 L308.83 854.12 L309.97 854.15 L311.1 854.17 L312.24 854.2 L313.38 854.22 L314.51 854.25 L315.65 854.27 L316.78 854.3 L317.92 854.32 L319.05 854.34 L320.19 854.37 L321.32 854.39 L322.46 854.41 L323.6 854.43 L324.73 854.45 L325.87 854.47 L327 854.49 L328.14 854.51 L329.27 854.53 L330.41 854.55 L331.54 854.57 L332.68 854.59 L333.82 854.6 L334.95 854.62 L336.09 854.64 L337.22 854.66 L338.36 854.67 L339.49 854.69 L340.63 854.71 L341.77 854.72 L342.9 854.74 L344.04 854.75" fill="none" stroke="#111" stroke-width="1.25" stroke-linejoin="round"/>
<circle cx="83.9" cy="656.7" r="2.6" fill="#ff0000" stroke="none" stroke-width="0.6"/>
<circle cx="77.8" cy="679.5" r="2.6" fill="#ff0000" stroke="none" stroke-width="0.6"/>
<circle cx="99.4" cy="684.4" r="2.6" fill="#ff0000" stroke="none" stroke-width="0.6"/>
<circle cx="79.6" cy="697.8" r="2.6" fill="#ff0000" stroke="none" stroke-width="0.6"/>
<circle cx="127.5" cy="699.2" r="2.6" fill="#ff0000" stroke="none" stroke-width="0.6"/>
<circle cx="75.2" cy="709.7" r="2.6" fill="#ff0000" stroke="none" stroke-width="0.6"/>
<circle cx="99.4" cy="711.5" r="2.6" fill="#ff0000" stroke="none" stroke-width="0.6"/>
<circle cx="135" cy="710.8" r="2.6" fill="#ff0000" stroke="none" stroke-width="0.6"/>
<circle cx="80.1" cy="723.2" r="2.6" fill="#ff0000" stroke="none" stroke-width="0.6"/>
<circle cx="123.4" cy="725" r="2.6" fill="#ff0000" stroke="none" stroke-width="0.6"/>
<circle cx="132.4" cy="727.2" r="2.6" fill="#ff0000" stroke="none" stroke-width="0.6"/>
<circle cx="133.9" cy="730.9" r="2.6" fill="#ff0000" stroke="none" stroke-width="0.6"/>
<circle cx="138.7" cy="734.3" r="2.6" fill="#ff0000" stroke="none" stroke-width="0.6"/>
<circle cx="119" cy="737.2" r="2.6" fill="#ff0000" stroke="none" stroke-width="0.6"/>
<circle cx="152.3" cy="738" r="2.6" fill="#ff0000" stroke="none" stroke-width="0.6"/>
<circle cx="141.9" cy="742" r="2.6" fill="#ff0000" stroke="none" stroke-width="0.6"/>
<circle cx="140.6" cy="746.7" r="2.6" fill="#ff0000" stroke="none" stroke-width="0.6"/>
<circle cx="162.6" cy="746.6" r="2.6" fill="#ff0000" stroke="none" stroke-width="0.6"/>
<circle cx="145" cy="757.7" r="2.6" fill="#ff0000" stroke="none" stroke-width="0.6"/>
<circle cx="149.8" cy="766.9" r="2.6" fill="#ff0000" stroke="none" stroke-width="0.6"/>
<circle cx="139.3" cy="775.4" r="2.6" fill="#ff0000" stroke="none" stroke-width="0.6"/>
<circle cx="143.6" cy="778" r="2.6" fill="#ff0000" stroke="none" stroke-width="0.6"/>
<circle cx="148" cy="787.9" r="2.6" fill="#ff0000" stroke="none" stroke-width="0.6"/>
<circle cx="160.3" cy="785.9" r="2.6" fill="#ff0000" stroke="none" stroke-width="0.6"/>
<circle cx="160.3" cy="793.2" r="2.6" fill="#ff0000" stroke="none" stroke-width="0.6"/>
<circle cx="166.9" cy="794.6" r="2.6" fill="#ff0000" stroke="none" stroke-width="0.6"/>
<circle cx="133.7" cy="805.1" r="2.6" fill="#ff0000" stroke="none" stroke-width="0.6"/>
<circle cx="164.5" cy="806" r="2.6" fill="#ff0000" stroke="none" stroke-width="0.6"/>
<circle cx="169.3" cy="810.5" r="2.6" fill="#ff0000" stroke="none" stroke-width="0.6"/>
<circle cx="176.3" cy="809.1" r="2.6" fill="#ff0000" stroke="none" stroke-width="0.6"/>
<circle cx="161.9" cy="814.2" r="2.6" fill="#ff0000" stroke="none" stroke-width="0.6"/>
<circle cx="166.3" cy="816.8" r="2.6" fill="#ff0000" stroke="none" stroke-width="0.6"/>
<circle cx="175" cy="814.4" r="2.6" fill="#ff0000" stroke="none" stroke-width="0.6"/>
<circle cx="163.2" cy="822.8" r="2.6" fill="#ff0000" stroke="none" stroke-width="0.6"/>
<circle cx="168.2" cy="824.8" r="2.6" fill="#ff0000" stroke="none" stroke-width="0.6"/>
<circle cx="172.6" cy="822.6" r="2.6" fill="#ff0000" stroke="none" stroke-width="0.6"/>
<circle cx="175.5" cy="825" r="2.6" fill="#ff0000" stroke="none" stroke-width="0.6"/>
<circle cx="171.7" cy="831.5" r="2.6" fill="#ff0000" stroke="none" stroke-width="0.6"/>
<circle cx="171.3" cy="835.4" r="2.6" fill="#ff0000" stroke="none" stroke-width="0.6"/>
<circle cx="174.6" cy="834" r="2.6" fill="#ff0000" stroke="none" stroke-width="0.6"/>
<circle cx="160.8" cy="835.5" r="2.6" fill="#ff0000" stroke="none" stroke-width="0.6"/>
<circle cx="164.5" cy="838.3" r="2.6" fill="#ff0000" stroke="none" stroke-width="0.6"/>
<circle cx="320.6" cy="686.7" r="2.6" fill="#ff0000" stroke="none" stroke-width="0.6"/>
<circle cx="332.9" cy="693.5" r="2.6" fill="#ff0000" stroke="none" stroke-width="0.6"/>
<circle cx="227.4" cy="734.1" r="2.6" fill="#ff0000" stroke="none" stroke-width="0.6"/>
<circle cx="266.1" cy="747.1" r="2.6" fill="#ff0000" stroke="none" stroke-width="0.6"/>
<circle cx="272.6" cy="747.1" r="2.6" fill="#ff0000" stroke="none" stroke-width="0.6"/>
<circle cx="286.4" cy="740.2" r="2.6" fill="#ff0000" stroke="none" stroke-width="0.6"/>
<circle cx="247.3" cy="776.7" r="2.6" fill="#ff0000" stroke="none" stroke-width="0.6"/>
<circle cx="208.4" cy="780.5" r="2.6" fill="#ff0000" stroke="none" stroke-width="0.6"/>
<circle cx="218.2" cy="795.7" r="2.6" fill="#ff0000" stroke="none" stroke-width="0.6"/>
<circle cx="213.3" cy="798.9" r="2.6" fill="#ff0000" stroke="none" stroke-width="0.6"/>
<circle cx="232.4" cy="804.4" r="2.6" fill="#ff0000" stroke="none" stroke-width="0.6"/>
<circle cx="244.1" cy="801.9" r="2.6" fill="#ff0000" stroke="none" stroke-width="0.6"/>
<circle cx="217" cy="812.8" r="2.6" fill="#ff0000" stroke="none" stroke-width="0.6"/>
<circle cx="218.2" cy="817.9" r="2.6" fill="#ff0000" stroke="none" stroke-width="0.6"/>
<circle cx="216.7" cy="820.3" r="2.6" fill="#ff0000" stroke="none" stroke-width="0.6"/>
<circle cx="224.3" cy="816.3" r="2.6" fill="#ff0000" stroke="none" stroke-width="0.6"/>
<circle cx="227.9" cy="818.3" r="2.6" fill="#ff0000" stroke="none" stroke-width="0.6"/>
<circle cx="227.4" cy="822.3" r="2.6" fill="#ff0000" stroke="none" stroke-width="0.6"/>
<circle cx="238.5" cy="817.2" r="2.6" fill="#ff0000" stroke="none" stroke-width="0.6"/>
<circle cx="216.5" cy="826" r="2.6" fill="#ff0000" stroke="none" stroke-width="0.6"/>
<circle cx="230.5" cy="826.2" r="2.6" fill="#ff0000" stroke="none" stroke-width="0.6"/>
<circle cx="231.4" cy="830.1" r="2.6" fill="#ff0000" stroke="none" stroke-width="0.6"/>
<circle cx="217.3" cy="831.3" r="2.6" fill="#ff0000" stroke="none" stroke-width="0.6"/>
<circle cx="225" cy="831.9" r="2.6" fill="#ff0000" stroke="none" stroke-width="0.6"/>
<circle cx="221.9" cy="836.7" r="2.6" fill="#ff0000" stroke="none" stroke-width="0.6"/>
<circle cx="225.4" cy="836.3" r="2.6" fill="#ff0000" stroke="none" stroke-width="0.6"/>
<circle cx="229.3" cy="839.3" r="2.6" fill="#ff0000" stroke="none" stroke-width="0.6"/>
<circle cx="221.5" cy="841.5" r="2.6" fill="#ff0000" stroke="none" stroke-width="0.6"/>
<line x1="61.5" y1="646.3" x2="61.5" y2="891.1" stroke="#3a3a3a" stroke-width="0.9"/>
<line x1="61.5" y1="891.1" x2="344.8" y2="891.1" stroke="#3a3a3a" stroke-width="0.9"/>
<line x1="57.9" y1="879.3" x2="61.5" y2="879.3" stroke="#3a3a3a" stroke-width="0.9"/>
<text x="53.3" y="881.68" font-size="6.6" text-anchor="middle" fill="#2a2a2a" transform="rotate(-90 53.3 879.3)">0</text>
<line x1="57.9" y1="841.14" x2="61.5" y2="841.14" stroke="#3a3a3a" stroke-width="0.9"/>
<text x="53.3" y="843.52" font-size="6.6" text-anchor="middle" fill="#2a2a2a" transform="rotate(-90 53.3 841.14)">2</text>
<line x1="57.9" y1="802.98" x2="61.5" y2="802.98" stroke="#3a3a3a" stroke-width="0.9"/>
<text x="53.3" y="805.36" font-size="6.6" text-anchor="middle" fill="#2a2a2a" transform="rotate(-90 53.3 802.98)">4</text>
<line x1="57.9" y1="764.82" x2="61.5" y2="764.82" stroke="#3a3a3a" stroke-width="0.9"/>
<text x="53.3" y="767.2" font-size="6.6" text-anchor="middle" fill="#2a2a2a" transform="rotate(-90 53.3 764.82)">6</text>
<line x1="57.9" y1="726.66" x2="61.5" y2="726.66" stroke="#3a3a3a" stroke-width="0.9"/>
<text x="53.3" y="729.04" font-size="6.6" text-anchor="middle" fill="#2a2a2a" transform="rotate(-90 53.3 726.66)">8</text>
<line x1="57.9" y1="688.5" x2="61.5" y2="688.5" stroke="#3a3a3a" stroke-width="0.9"/>
<text x="53.3" y="690.88" font-size="6.6" text-anchor="middle" fill="#2a2a2a" transform="rotate(-90 53.3 688.5)">10</text>
<line x1="57.9" y1="650.34" x2="61.5" y2="650.34" stroke="#3a3a3a" stroke-width="0.9"/>
<text x="53.3" y="652.72" font-size="6.6" text-anchor="middle" fill="#2a2a2a" transform="rotate(-90 53.3 650.34)">12</text>
<line x1="75.7" y1="891.1" x2="75.7" y2="894.6" stroke="#3a3a3a" stroke-width="0.9"/>
<text x="75.7" y="901.58" font-size="6.6" text-anchor="middle" fill="#2a2a2a">-3</text>
<line x1="115.8" y1="891.1" x2="115.8" y2="894.6" stroke="#3a3a3a" stroke-width="0.9"/>
<text x="115.8" y="901.58" font-size="6.6" text-anchor="middle" fill="#2a2a2a">-2</text>
<line x1="155.9" y1="891.1" x2="155.9" y2="894.6" stroke="#3a3a3a" stroke-width="0.9"/>
<text x="155.9" y="901.58" font-size="6.6" text-anchor="middle" fill="#2a2a2a">-1</text>
<line x1="196" y1="891.1" x2="196" y2="894.6" stroke="#3a3a3a" stroke-width="0.9"/>
<text x="196" y="901.58" font-size="6.6" text-anchor="middle" fill="#2a2a2a">0</text>
<line x1="236.1" y1="891.1" x2="236.1" y2="894.6" stroke="#3a3a3a" stroke-width="0.9"/>
<text x="236.1" y="901.58" font-size="6.6" text-anchor="middle" fill="#2a2a2a">1</text>
<line x1="276.2" y1="891.1" x2="276.2" y2="894.6" stroke="#3a3a3a" stroke-width="0.9"/>
<text x="276.2" y="901.58" font-size="6.6" text-anchor="middle" fill="#2a2a2a">2</text>
<line x1="316.3" y1="891.1" x2="316.3" y2="894.6" stroke="#3a3a3a" stroke-width="0.9"/>
<text x="316.3" y="901.58" font-size="6.6" text-anchor="middle" fill="#2a2a2a">3</text>
<text x="203.6" y="910.2" font-size="7.5" text-anchor="middle" fill="#2a2a2a">Difference (Control - Acidified)</text>
<text x="41.6" y="770.64" font-size="7.6" text-anchor="middle" fill="#2a2a2a" transform="rotate(-90 41.6 767.9)">-Log p</text>
<text x="354.8" y="625.1" font-size="14" font-weight="bold" fill="#111" dominant-baseline="text-before-edge">(f)</text>
<circle cx="541.86" cy="888.13" r="1.5" fill="#c2c2c2" stroke="#b6b6b6" stroke-width="0.4"/>
<circle cx="509.79" cy="819.42" r="1.5" fill="#c2c2c2" stroke="#b6b6b6" stroke-width="0.4"/>
<circle cx="520.02" cy="829.07" r="1.5" fill="#c2c2c2" stroke="#b6b6b6" stroke-width="0.4"/>
<circle cx="547.03" cy="869.83" r="1.5" fill="#c2c2c2" stroke="#b6b6b6" stroke-width="0.4"/>
<circle cx="544.14" cy="878.8" r="1.5" fill="#c2c2c2" stroke="#b6b6b6" stroke-width="0.4"/>
<circle cx="529.88" cy="869.04" r="1.5" fill="#c2c2c2" stroke="#b6b6b6" stroke-width="0.4"/>
<circle cx="528.82" cy="867.07" r="1.5" fill="#c2c2c2" stroke="#b6b6b6" stroke-width="0.4"/>
<circle cx="540.16" cy="887.43" r="1.5" fill="#c2c2c2" stroke="#b6b6b6" stroke-width="0.4"/>
<circle cx="553.41" cy="858.18" r="1.5" fill="#c2c2c2" stroke="#b6b6b6" stroke-width="0.4"/>
<circle cx="514.36" cy="779.17" r="1.5" fill="#c2c2c2" stroke="#b6b6b6" stroke-width="0.4"/>
<circle cx="523.42" cy="803.4" r="1.5" fill="#c2c2c2" stroke="#b6b6b6" stroke-width="0.4"/>
<circle cx="539.26" cy="886.11" r="1.5" fill="#c2c2c2" stroke="#b6b6b6" stroke-width="0.4"/>
<circle cx="558.65" cy="861.64" r="1.5" fill="#c2c2c2" stroke="#b6b6b6" stroke-width="0.4"/>
<circle cx="536.4" cy="884.74" r="1.5" fill="#c2c2c2" stroke="#b6b6b6" stroke-width="0.4"/>
<circle cx="525.2" cy="875.53" r="1.5" fill="#c2c2c2" stroke="#b6b6b6" stroke-width="0.4"/>
<circle cx="549.05" cy="871.94" r="1.5" fill="#c2c2c2" stroke="#b6b6b6" stroke-width="0.4"/>
<circle cx="545.53" cy="853.97" r="1.5" fill="#c2c2c2" stroke="#b6b6b6" stroke-width="0.4"/>
<circle cx="534.75" cy="882.4" r="1.5" fill="#c2c2c2" stroke="#b6b6b6" stroke-width="0.4"/>
<circle cx="537.49" cy="884.18" r="1.5" fill="#c2c2c2" stroke="#b6b6b6" stroke-width="0.4"/>
<circle cx="531.45" cy="861.36" r="1.5" fill="#c2c2c2" stroke="#b6b6b6" stroke-width="0.4"/>
<circle cx="562.48" cy="851.39" r="1.5" fill="#c2c2c2" stroke="#b6b6b6" stroke-width="0.4"/>
<circle cx="502.36" cy="807.59" r="1.5" fill="#c2c2c2" stroke="#b6b6b6" stroke-width="0.4"/>
<circle cx="533.6" cy="874.87" r="1.5" fill="#c2c2c2" stroke="#b6b6b6" stroke-width="0.4"/>
<circle cx="530.29" cy="862.13" r="1.5" fill="#c2c2c2" stroke="#b6b6b6" stroke-width="0.4"/>
<circle cx="557.89" cy="772.39" r="1.5" fill="#c2c2c2" stroke="#b6b6b6" stroke-width="0.4"/>
<circle cx="550.62" cy="854.55" r="1.5" fill="#c2c2c2" stroke="#b6b6b6" stroke-width="0.4"/>
<circle cx="548.82" cy="871.74" r="1.5" fill="#c2c2c2" stroke="#b6b6b6" stroke-width="0.4"/>
<circle cx="557.84" cy="831.23" r="1.5" fill="#c2c2c2" stroke="#b6b6b6" stroke-width="0.4"/>
<circle cx="533.44" cy="809.32" r="1.5" fill="#c2c2c2" stroke="#b6b6b6" stroke-width="0.4"/>
<circle cx="543.03" cy="888.05" r="1.5" fill="#c2c2c2" stroke="#b6b6b6" stroke-width="0.4"/>
<circle cx="559.34" cy="849.85" r="1.5" fill="#c2c2c2" stroke="#b6b6b6" stroke-width="0.4"/>
<circle cx="546.08" cy="881.28" r="1.5" fill="#c2c2c2" stroke="#b6b6b6" stroke-width="0.4"/>
<circle cx="559.83" cy="858.36" r="1.5" fill="#c2c2c2" stroke="#b6b6b6" stroke-width="0.4"/>
<circle cx="546.84" cy="875.29" r="1.5" fill="#c2c2c2" stroke="#b6b6b6" stroke-width="0.4"/>
<circle cx="552.42" cy="859.74" r="1.5" fill="#c2c2c2" stroke="#b6b6b6" stroke-width="0.4"/>
<circle cx="532.28" cy="878.72" r="1.5" fill="#c2c2c2" stroke="#b6b6b6" stroke-width="0.4"/>
<circle cx="546.38" cy="868.24" r="1.5" fill="#c2c2c2" stroke="#b6b6b6" stroke-width="0.4"/>
<circle cx="514.15" cy="841.06" r="1.5" fill="#c2c2c2" stroke="#b6b6b6" stroke-width="0.4"/>
<circle cx="538.34" cy="882.24" r="1.5" fill="#c2c2c2" stroke="#b6b6b6" stroke-width="0.4"/>
<circle cx="565.8" cy="854.58" r="1.5" fill="#c2c2c2" stroke="#b6b6b6" stroke-width="0.4"/>
<circle cx="543.55" cy="876.82" r="1.5" fill="#c2c2c2" stroke="#b6b6b6" stroke-width="0.4"/>
<circle cx="545.14" cy="880.74" r="1.5" fill="#c2c2c2" stroke="#b6b6b6" stroke-width="0.4"/>
<circle cx="567.79" cy="837.49" r="1.5" fill="#c2c2c2" stroke="#b6b6b6" stroke-width="0.4"/>
<circle cx="517.71" cy="824.87" r="1.5" fill="#c2c2c2" stroke="#b6b6b6" stroke-width="0.4"/>
<circle cx="522.43" cy="862.58" r="1.5" fill="#c2c2c2" stroke="#b6b6b6" stroke-width="0.4"/>
<circle cx="549.78" cy="853.21" r="1.5" fill="#c2c2c2" stroke="#b6b6b6" stroke-width="0.4"/>
<circle cx="508.49" cy="789.29" r="1.5" fill="#c2c2c2" stroke="#b6b6b6" stroke-width="0.4"/>
<circle cx="537.28" cy="885.09" r="1.5" fill="#c2c2c2" stroke="#b6b6b6" stroke-width="0.4"/>
<circle cx="554.81" cy="869.02" r="1.5" fill="#c2c2c2" stroke="#b6b6b6" stroke-width="0.4"/>
<circle cx="533.82" cy="858.61" r="1.5" fill="#c2c2c2" stroke="#b6b6b6" stroke-width="0.4"/>
<circle cx="517.06" cy="817.5" r="1.5" fill="#c2c2c2" stroke="#b6b6b6" stroke-width="0.4"/>
<circle cx="521.87" cy="854.12" r="1.5" fill="#c2c2c2" stroke="#b6b6b6" stroke-width="0.4"/>
<circle cx="549.51" cy="864.29" r="1.5" fill="#c2c2c2" stroke="#b6b6b6" stroke-width="0.4"/>
<circle cx="535.72" cy="874.59" r="1.5" fill="#c2c2c2" stroke="#b6b6b6" stroke-width="0.4"/>
<circle cx="523.56" cy="846.41" r="1.5" fill="#c2c2c2" stroke="#b6b6b6" stroke-width="0.4"/>
<circle cx="549.44" cy="821.46" r="1.5" fill="#c2c2c2" stroke="#b6b6b6" stroke-width="0.4"/>
<circle cx="527.15" cy="864.94" r="1.5" fill="#c2c2c2" stroke="#b6b6b6" stroke-width="0.4"/>
<circle cx="531.6" cy="865.49" r="1.5" fill="#c2c2c2" stroke="#b6b6b6" stroke-width="0.4"/>
<circle cx="581.83" cy="786.33" r="1.5" fill="#c2c2c2" stroke="#b6b6b6" stroke-width="0.4"/>
<circle cx="546.01" cy="876.85" r="1.5" fill="#c2c2c2" stroke="#b6b6b6" stroke-width="0.4"/>
<circle cx="536.73" cy="880.63" r="1.5" fill="#c2c2c2" stroke="#b6b6b6" stroke-width="0.4"/>
<circle cx="533.93" cy="856.33" r="1.5" fill="#c2c2c2" stroke="#b6b6b6" stroke-width="0.4"/>
<circle cx="535.47" cy="872.99" r="1.5" fill="#c2c2c2" stroke="#b6b6b6" stroke-width="0.4"/>
<circle cx="542.42" cy="888.63" r="1.5" fill="#c2c2c2" stroke="#b6b6b6" stroke-width="0.4"/>
<circle cx="535.37" cy="877.02" r="1.5" fill="#c2c2c2" stroke="#b6b6b6" stroke-width="0.4"/>
<circle cx="530.26" cy="851.05" r="1.5" fill="#c2c2c2" stroke="#b6b6b6" stroke-width="0.4"/>
<circle cx="533.3" cy="865.69" r="1.5" fill="#c2c2c2" stroke="#b6b6b6" stroke-width="0.4"/>
<circle cx="543.81" cy="885.82" r="1.5" fill="#c2c2c2" stroke="#b6b6b6" stroke-width="0.4"/>
<circle cx="536.4" cy="870.63" r="1.5" fill="#c2c2c2" stroke="#b6b6b6" stroke-width="0.4"/>
<circle cx="533.26" cy="869.3" r="1.5" fill="#c2c2c2" stroke="#b6b6b6" stroke-width="0.4"/>
<circle cx="554.28" cy="838.3" r="1.5" fill="#c2c2c2" stroke="#b6b6b6" stroke-width="0.4"/>
<circle cx="530.08" cy="865.37" r="1.5" fill="#c2c2c2" stroke="#b6b6b6" stroke-width="0.4"/>
<circle cx="538.09" cy="883.29" r="1.5" fill="#c2c2c2" stroke="#b6b6b6" stroke-width="0.4"/>
<circle cx="555.17" cy="864.06" r="1.5" fill="#c2c2c2" stroke="#b6b6b6" stroke-width="0.4"/>
<circle cx="503.83" cy="826.63" r="1.5" fill="#c2c2c2" stroke="#b6b6b6" stroke-width="0.4"/>
<circle cx="566.47" cy="784.25" r="1.5" fill="#c2c2c2" stroke="#b6b6b6" stroke-width="0.4"/>
<circle cx="552.33" cy="802.83" r="1.5" fill="#c2c2c2" stroke="#b6b6b6" stroke-width="0.4"/>
<circle cx="521.81" cy="850.66" r="1.5" fill="#c2c2c2" stroke="#b6b6b6" stroke-width="0.4"/>
<circle cx="557" cy="871.85" r="1.5" fill="#c2c2c2" stroke="#b6b6b6" stroke-width="0.4"/>
<circle cx="538.91" cy="886.19" r="1.5" fill="#c2c2c2" stroke="#b6b6b6" stroke-width="0.4"/>
<circle cx="548.09" cy="843.31" r="1.5" fill="#c2c2c2" stroke="#b6b6b6" stroke-width="0.4"/>
<circle cx="516.77" cy="826.81" r="1.5" fill="#c2c2c2" stroke="#b6b6b6" stroke-width="0.4"/>
<circle cx="508.81" cy="826.49" r="1.5" fill="#c2c2c2" stroke="#b6b6b6" stroke-width="0.4"/>
<circle cx="527.36" cy="867.2" r="1.5" fill="#c2c2c2" stroke="#b6b6b6" stroke-width="0.4"/>
<circle cx="531.58" cy="823.64" r="1.5" fill="#c2c2c2" stroke="#b6b6b6" stroke-width="0.4"/>
<circle cx="578.59" cy="800.69" r="1.5" fill="#c2c2c2" stroke="#b6b6b6" stroke-width="0.4"/>
<circle cx="536.1" cy="878.62" r="1.5" fill="#c2c2c2" stroke="#b6b6b6" stroke-width="0.4"/>
<circle cx="562.99" cy="823.11" r="1.5" fill="#c2c2c2" stroke="#b6b6b6" stroke-width="0.4"/>
<circle cx="543.08" cy="880.87" r="1.5" fill="#c2c2c2" stroke="#b6b6b6" stroke-width="0.4"/>
<circle cx="528.53" cy="807.59" r="1.5" fill="#c2c2c2" stroke="#b6b6b6" stroke-width="0.4"/>
<circle cx="515.55" cy="762.48" r="1.5" fill="#c2c2c2" stroke="#b6b6b6" stroke-width="0.4"/>
<circle cx="528.33" cy="785.41" r="1.5" fill="#c2c2c2" stroke="#b6b6b6" stroke-width="0.4"/>
<circle cx="525.68" cy="866.82" r="1.5" fill="#c2c2c2" stroke="#b6b6b6" stroke-width="0.4"/>
<circle cx="550.4" cy="860.45" r="1.5" fill="#c2c2c2" stroke="#b6b6b6" stroke-width="0.4"/>
<circle cx="508.76" cy="802.36" r="1.5" fill="#c2c2c2" stroke="#b6b6b6" stroke-width="0.4"/>
<circle cx="525.82" cy="873.76" r="1.5" fill="#c2c2c2" stroke="#b6b6b6" stroke-width="0.4"/>
<circle cx="527.2" cy="858.22" r="1.5" fill="#c2c2c2" stroke="#b6b6b6" stroke-width="0.4"/>
<circle cx="538.68" cy="878.84" r="1.5" fill="#c2c2c2" stroke="#b6b6b6" stroke-width="0.4"/>
<circle cx="542.12" cy="888.68" r="1.5" fill="#c2c2c2" stroke="#b6b6b6" stroke-width="0.4"/>
<circle cx="544.39" cy="882.36" r="1.5" fill="#c2c2c2" stroke="#b6b6b6" stroke-width="0.4"/>
<circle cx="555.73" cy="858.84" r="1.5" fill="#c2c2c2" stroke="#b6b6b6" stroke-width="0.4"/>
<circle cx="536.22" cy="875.19" r="1.5" fill="#c2c2c2" stroke="#b6b6b6" stroke-width="0.4"/>
<circle cx="536.26" cy="878.41" r="1.5" fill="#c2c2c2" stroke="#b6b6b6" stroke-width="0.4"/>
<circle cx="545.37" cy="886.22" r="1.5" fill="#c2c2c2" stroke="#b6b6b6" stroke-width="0.4"/>
<circle cx="538.62" cy="881.7" r="1.5" fill="#c2c2c2" stroke="#b6b6b6" stroke-width="0.4"/>
<circle cx="522.11" cy="824.85" r="1.5" fill="#c2c2c2" stroke="#b6b6b6" stroke-width="0.4"/>
<circle cx="528.37" cy="870.91" r="1.5" fill="#c2c2c2" stroke="#b6b6b6" stroke-width="0.4"/>
<circle cx="522.02" cy="830.32" r="1.5" fill="#c2c2c2" stroke="#b6b6b6" stroke-width="0.4"/>
<circle cx="531.63" cy="882.84" r="1.5" fill="#c2c2c2" stroke="#b6b6b6" stroke-width="0.4"/>
<circle cx="552.67" cy="813.41" r="1.5" fill="#c2c2c2" stroke="#b6b6b6" stroke-width="0.4"/>
<circle cx="569.36" cy="821.28" r="1.5" fill="#c2c2c2" stroke="#b6b6b6" stroke-width="0.4"/>
<circle cx="535.11" cy="868.91" r="1.5" fill="#c2c2c2" stroke="#b6b6b6" stroke-width="0.4"/>
<circle cx="542.34" cy="887.22" r="1.5" fill="#c2c2c2" stroke="#b6b6b6" stroke-width="0.4"/>
<circle cx="536.03" cy="872.01" r="1.5" fill="#c2c2c2" stroke="#b6b6b6" stroke-width="0.4"/>
<circle cx="522.26" cy="812.8" r="1.5" fill="#c2c2c2" stroke="#b6b6b6" stroke-width="0.4"/>
<circle cx="561.69" cy="822.05" r="1.5" fill="#c2c2c2" stroke="#b6b6b6" stroke-width="0.4"/>
<circle cx="527.25" cy="854.17" r="1.5" fill="#c2c2c2" stroke="#b6b6b6" stroke-width="0.4"/>
<circle cx="548.65" cy="863.31" r="1.5" fill="#c2c2c2" stroke="#b6b6b6" stroke-width="0.4"/>
<circle cx="528.83" cy="865.8" r="1.5" fill="#c2c2c2" stroke="#b6b6b6" stroke-width="0.4"/>
<circle cx="528.06" cy="853.65" r="1.5" fill="#c2c2c2" stroke="#b6b6b6" stroke-width="0.4"/>
<circle cx="546.12" cy="879.86" r="1.5" fill="#c2c2c2" stroke="#b6b6b6" stroke-width="0.4"/>
<circle cx="553.46" cy="876.73" r="1.5" fill="#c2c2c2" stroke="#b6b6b6" stroke-width="0.4"/>
<circle cx="543.51" cy="882.79" r="1.5" fill="#c2c2c2" stroke="#b6b6b6" stroke-width="0.4"/>
<circle cx="524.94" cy="837.75" r="1.5" fill="#c2c2c2" stroke="#b6b6b6" stroke-width="0.4"/>
<circle cx="540.14" cy="888.51" r="1.5" fill="#c2c2c2" stroke="#b6b6b6" stroke-width="0.4"/>
<circle cx="571.86" cy="848.58" r="1.5" fill="#c2c2c2" stroke="#b6b6b6" stroke-width="0.4"/>
<circle cx="536.53" cy="873.81" r="1.5" fill="#c2c2c2" stroke="#b6b6b6" stroke-width="0.4"/>
<circle cx="535.95" cy="877.62" r="1.5" fill="#c2c2c2" stroke="#b6b6b6" stroke-width="0.4"/>
<circle cx="519.68" cy="812.62" r="1.5" fill="#c2c2c2" stroke="#b6b6b6" stroke-width="0.4"/>
<circle cx="554.43" cy="855.55" r="1.5" fill="#c2c2c2" stroke="#b6b6b6" stroke-width="0.4"/>
<circle cx="520.54" cy="866.09" r="1.5" fill="#c2c2c2" stroke="#b6b6b6" stroke-width="0.4"/>
<circle cx="546.14" cy="866.58" r="1.5" fill="#c2c2c2" stroke="#b6b6b6" stroke-width="0.4"/>
<circle cx="555.71" cy="868.35" r="1.5" fill="#c2c2c2" stroke="#b6b6b6" stroke-width="0.4"/>
<circle cx="506.09" cy="822.16" r="1.5" fill="#c2c2c2" stroke="#b6b6b6" stroke-width="0.4"/>
<circle cx="531.61" cy="854.67" r="1.5" fill="#c2c2c2" stroke="#b6b6b6" stroke-width="0.4"/>
<circle cx="558.38" cy="842.67" r="1.5" fill="#c2c2c2" stroke="#b6b6b6" stroke-width="0.4"/>
<circle cx="537.5" cy="885.59" r="1.5" fill="#c2c2c2" stroke="#b6b6b6" stroke-width="0.4"/>
<circle cx="532.47" cy="860.72" r="1.5" fill="#c2c2c2" stroke="#b6b6b6" stroke-width="0.4"/>
<circle cx="552.59" cy="858.99" r="1.5" fill="#c2c2c2" stroke="#b6b6b6" stroke-width="0.4"/>
<circle cx="527.73" cy="870.83" r="1.5" fill="#c2c2c2" stroke="#b6b6b6" stroke-width="0.4"/>
<circle cx="554.39" cy="835.47" r="1.5" fill="#c2c2c2" stroke="#b6b6b6" stroke-width="0.4"/>
<circle cx="527.96" cy="868.11" r="1.5" fill="#c2c2c2" stroke="#b6b6b6" stroke-width="0.4"/>
<circle cx="544.74" cy="886.23" r="1.5" fill="#c2c2c2" stroke="#b6b6b6" stroke-width="0.4"/>
<circle cx="547.23" cy="880.59" r="1.5" fill="#c2c2c2" stroke="#b6b6b6" stroke-width="0.4"/>
<circle cx="532.7" cy="877.18" r="1.5" fill="#c2c2c2" stroke="#b6b6b6" stroke-width="0.4"/>
<circle cx="524.51" cy="772.08" r="1.5" fill="#c2c2c2" stroke="#b6b6b6" stroke-width="0.4"/>
<circle cx="543.78" cy="886.9" r="1.5" fill="#c2c2c2" stroke="#b6b6b6" stroke-width="0.4"/>
<circle cx="547.32" cy="881.57" r="1.5" fill="#c2c2c2" stroke="#b6b6b6" stroke-width="0.4"/>
<circle cx="568.16" cy="838.41" r="1.5" fill="#c2c2c2" stroke="#b6b6b6" stroke-width="0.4"/>
<circle cx="560.08" cy="866.68" r="1.5" fill="#c2c2c2" stroke="#b6b6b6" stroke-width="0.4"/>
<circle cx="534.31" cy="863.49" r="1.5" fill="#c2c2c2" stroke="#b6b6b6" stroke-width="0.4"/>
<circle cx="551.17" cy="859.4" r="1.5" fill="#c2c2c2" stroke="#b6b6b6" stroke-width="0.4"/>
<circle cx="527.36" cy="763.74" r="1.5" fill="#c2c2c2" stroke="#b6b6b6" stroke-width="0.4"/>
<circle cx="551.39" cy="857.66" r="1.5" fill="#c2c2c2" stroke="#b6b6b6" stroke-width="0.4"/>
<circle cx="524.64" cy="780.62" r="1.5" fill="#c2c2c2" stroke="#b6b6b6" stroke-width="0.4"/>
<circle cx="551.85" cy="854.33" r="1.5" fill="#c2c2c2" stroke="#b6b6b6" stroke-width="0.4"/>
<circle cx="531.53" cy="875.28" r="1.5" fill="#c2c2c2" stroke="#b6b6b6" stroke-width="0.4"/>
<circle cx="530.31" cy="872.16" r="1.5" fill="#c2c2c2" stroke="#b6b6b6" stroke-width="0.4"/>
<circle cx="525.84" cy="867.54" r="1.5" fill="#c2c2c2" stroke="#b6b6b6" stroke-width="0.4"/>
<circle cx="530.73" cy="868.37" r="1.5" fill="#c2c2c2" stroke="#b6b6b6" stroke-width="0.4"/>
<circle cx="542.95" cy="882.42" r="1.5" fill="#c2c2c2" stroke="#b6b6b6" stroke-width="0.4"/>
<circle cx="543.97" cy="883.43" r="1.5" fill="#c2c2c2" stroke="#b6b6b6" stroke-width="0.4"/>
<circle cx="571.27" cy="808.53" r="1.5" fill="#c2c2c2" stroke="#b6b6b6" stroke-width="0.4"/>
<circle cx="544.21" cy="883.74" r="1.5" fill="#c2c2c2" stroke="#b6b6b6" stroke-width="0.4"/>
<circle cx="552.68" cy="858.14" r="1.5" fill="#c2c2c2" stroke="#b6b6b6" stroke-width="0.4"/>
<circle cx="543.51" cy="885.1" r="1.5" fill="#c2c2c2" stroke="#b6b6b6" stroke-width="0.4"/>
<circle cx="530.23" cy="871.74" r="1.5" fill="#c2c2c2" stroke="#b6b6b6" stroke-width="0.4"/>
<circle cx="523.47" cy="864.72" r="1.5" fill="#c2c2c2" stroke="#b6b6b6" stroke-width="0.4"/>
<circle cx="523.61" cy="854.27" r="1.5" fill="#c2c2c2" stroke="#b6b6b6" stroke-width="0.4"/>
<circle cx="547.53" cy="878.38" r="1.5" fill="#c2c2c2" stroke="#b6b6b6" stroke-width="0.4"/>
<circle cx="548.01" cy="878.09" r="1.5" fill="#c2c2c2" stroke="#b6b6b6" stroke-width="0.4"/>
<circle cx="543.17" cy="886.22" r="1.5" fill="#c2c2c2" stroke="#b6b6b6" stroke-width="0.4"/>
<circle cx="550.33" cy="872.61" r="1.5" fill="#c2c2c2" stroke="#b6b6b6" stroke-width="0.4"/>
<circle cx="538.2" cy="883.77" r="1.5" fill="#c2c2c2" stroke="#b6b6b6" stroke-width="0.4"/>
<circle cx="531.96" cy="870.49" r="1.5" fill="#c2c2c2" stroke="#b6b6b6" stroke-width="0.4"/>
<circle cx="531.94" cy="875.16" r="1.5" fill="#c2c2c2" stroke="#b6b6b6" stroke-width="0.4"/>
<circle cx="540.3" cy="888.76" r="1.5" fill="#c2c2c2" stroke="#b6b6b6" stroke-width="0.4"/>
<circle cx="558.4" cy="866.52" r="1.5" fill="#c2c2c2" stroke="#b6b6b6" stroke-width="0.4"/>
<circle cx="567.91" cy="821.7" r="1.5" fill="#c2c2c2" stroke="#b6b6b6" stroke-width="0.4"/>
<circle cx="531.19" cy="850.39" r="1.5" fill="#c2c2c2" stroke="#b6b6b6" stroke-width="0.4"/>
<circle cx="522.56" cy="857.34" r="1.5" fill="#c2c2c2" stroke="#b6b6b6" stroke-width="0.4"/>
<circle cx="552.95" cy="858.85" r="1.5" fill="#c2c2c2" stroke="#b6b6b6" stroke-width="0.4"/>
<circle cx="544.79" cy="882.59" r="1.5" fill="#c2c2c2" stroke="#b6b6b6" stroke-width="0.4"/>
<circle cx="547.25" cy="867.37" r="1.5" fill="#c2c2c2" stroke="#b6b6b6" stroke-width="0.4"/>
<circle cx="535.35" cy="879.07" r="1.5" fill="#c2c2c2" stroke="#b6b6b6" stroke-width="0.4"/>
<circle cx="534.34" cy="866.86" r="1.5" fill="#c2c2c2" stroke="#b6b6b6" stroke-width="0.4"/>
<circle cx="553.13" cy="839.37" r="1.5" fill="#c2c2c2" stroke="#b6b6b6" stroke-width="0.4"/>
<circle cx="527.74" cy="852.78" r="1.5" fill="#c2c2c2" stroke="#b6b6b6" stroke-width="0.4"/>
<circle cx="527.09" cy="822.91" r="1.5" fill="#c2c2c2" stroke="#b6b6b6" stroke-width="0.4"/>
<circle cx="543.37" cy="887.81" r="1.5" fill="#c2c2c2" stroke="#b6b6b6" stroke-width="0.4"/>
<circle cx="558.15" cy="832.96" r="1.5" fill="#c2c2c2" stroke="#b6b6b6" stroke-width="0.4"/>
<circle cx="542.44" cy="888.94" r="1.5" fill="#c2c2c2" stroke="#b6b6b6" stroke-width="0.4"/>
<circle cx="519.01" cy="804.26" r="1.5" fill="#c2c2c2" stroke="#b6b6b6" stroke-width="0.4"/>
<circle cx="505.69" cy="784.39" r="1.5" fill="#c2c2c2" stroke="#b6b6b6" stroke-width="0.4"/>
<circle cx="556.15" cy="806.78" r="1.5" fill="#c2c2c2" stroke="#b6b6b6" stroke-width="0.4"/>
<circle cx="551.97" cy="871.25" r="1.5" fill="#c2c2c2" stroke="#b6b6b6" stroke-width="0.4"/>
<circle cx="551.86" cy="868.29" r="1.5" fill="#c2c2c2" stroke="#b6b6b6" stroke-width="0.4"/>
<circle cx="557.42" cy="812.62" r="1.5" fill="#c2c2c2" stroke="#b6b6b6" stroke-width="0.4"/>
<circle cx="538.69" cy="878.71" r="1.5" fill="#c2c2c2" stroke="#b6b6b6" stroke-width="0.4"/>
<circle cx="532.2" cy="843.89" r="1.5" fill="#c2c2c2" stroke="#b6b6b6" stroke-width="0.4"/>
<circle cx="528.03" cy="871.74" r="1.5" fill="#c2c2c2" stroke="#b6b6b6" stroke-width="0.4"/>
<circle cx="536.95" cy="880.23" r="1.5" fill="#c2c2c2" stroke="#b6b6b6" stroke-width="0.4"/>
<circle cx="525.15" cy="846.8" r="1.5" fill="#c2c2c2" stroke="#b6b6b6" stroke-width="0.4"/>
<circle cx="544.12" cy="883.89" r="1.5" fill="#c2c2c2" stroke="#b6b6b6" stroke-width="0.4"/>
<circle cx="531.64" cy="877.28" r="1.5" fill="#c2c2c2" stroke="#b6b6b6" stroke-width="0.4"/>
<circle cx="542.83" cy="885.08" r="1.5" fill="#c2c2c2" stroke="#b6b6b6" stroke-width="0.4"/>
<circle cx="547.48" cy="864.07" r="1.5" fill="#c2c2c2" stroke="#b6b6b6" stroke-width="0.4"/>
<circle cx="530.78" cy="847.26" r="1.5" fill="#c2c2c2" stroke="#b6b6b6" stroke-width="0.4"/>
<circle cx="547.78" cy="855.77" r="1.5" fill="#c2c2c2" stroke="#b6b6b6" stroke-width="0.4"/>
<circle cx="526.64" cy="870.05" r="1.5" fill="#c2c2c2" stroke="#b6b6b6" stroke-width="0.4"/>
<circle cx="523.46" cy="838.02" r="1.5" fill="#c2c2c2" stroke="#b6b6b6" stroke-width="0.4"/>
<circle cx="528.12" cy="876.1" r="1.5" fill="#c2c2c2" stroke="#b6b6b6" stroke-width="0.4"/>
<circle cx="562.47" cy="792.85" r="1.5" fill="#c2c2c2" stroke="#b6b6b6" stroke-width="0.4"/>
<circle cx="530.18" cy="846.05" r="1.5" fill="#c2c2c2" stroke="#b6b6b6" stroke-width="0.4"/>
<circle cx="530.61" cy="869.58" r="1.5" fill="#c2c2c2" stroke="#b6b6b6" stroke-width="0.4"/>
<circle cx="552.42" cy="860.73" r="1.5" fill="#c2c2c2" stroke="#b6b6b6" stroke-width="0.4"/>
<circle cx="553.77" cy="872.33" r="1.5" fill="#c2c2c2" stroke="#b6b6b6" stroke-width="0.4"/>
<circle cx="535.16" cy="885.17" r="1.5" fill="#c2c2c2" stroke="#b6b6b6" stroke-width="0.4"/>
<circle cx="539.16" cy="886.34" r="1.5" fill="#c2c2c2" stroke="#b6b6b6" stroke-width="0.4"/>
<circle cx="531.62" cy="882.8" r="1.5" fill="#c2c2c2" stroke="#b6b6b6" stroke-width="0.4"/>
<circle cx="519.07" cy="841.89" r="1.5" fill="#c2c2c2" stroke="#b6b6b6" stroke-width="0.4"/>
<circle cx="523.12" cy="860.77" r="1.5" fill="#c2c2c2" stroke="#b6b6b6" stroke-width="0.4"/>
<circle cx="583.9" cy="810.73" r="1.5" fill="#c2c2c2" stroke="#b6b6b6" stroke-width="0.4"/>
<circle cx="505.35" cy="807.41" r="1.5" fill="#c2c2c2" stroke="#b6b6b6" stroke-width="0.4"/>
<circle cx="559.09" cy="847.15" r="1.5" fill="#c2c2c2" stroke="#b6b6b6" stroke-width="0.4"/>
<circle cx="547.11" cy="853.91" r="1.5" fill="#c2c2c2" stroke="#b6b6b6" stroke-width="0.4"/>
<circle cx="507.34" cy="795.14" r="1.5" fill="#c2c2c2" stroke="#b6b6b6" stroke-width="0.4"/>
<circle cx="542.84" cy="888.42" r="1.5" fill="#c2c2c2" stroke="#b6b6b6" stroke-width="0.4"/>
<circle cx="556.3" cy="837.94" r="1.5" fill="#c2c2c2" stroke="#b6b6b6" stroke-width="0.4"/>
<circle cx="536.12" cy="880.12" r="1.5" fill="#c2c2c2" stroke="#b6b6b6" stroke-width="0.4"/>
<circle cx="569" cy="773.18" r="1.5" fill="#c2c2c2" stroke="#b6b6b6" stroke-width="0.4"/>
<circle cx="539.29" cy="884.28" r="1.5" fill="#c2c2c2" stroke="#b6b6b6" stroke-width="0.4"/>
<circle cx="529" cy="872.7" r="1.5" fill="#c2c2c2" stroke="#b6b6b6" stroke-width="0.4"/>
<circle cx="537.35" cy="873.44" r="1.5" fill="#c2c2c2" stroke="#b6b6b6" stroke-width="0.4"/>
<circle cx="547.35" cy="878.64" r="1.5" fill="#c2c2c2" stroke="#b6b6b6" stroke-width="0.4"/>
<circle cx="529.52" cy="866.93" r="1.5" fill="#c2c2c2" stroke="#b6b6b6" stroke-width="0.4"/>
<circle cx="530.92" cy="851.79" r="1.5" fill="#c2c2c2" stroke="#b6b6b6" stroke-width="0.4"/>
<circle cx="528.68" cy="810.54" r="1.5" fill="#c2c2c2" stroke="#b6b6b6" stroke-width="0.4"/>
<circle cx="531.31" cy="881.72" r="1.5" fill="#c2c2c2" stroke="#b6b6b6" stroke-width="0.4"/>
<circle cx="535.24" cy="882.09" r="1.5" fill="#c2c2c2" stroke="#b6b6b6" stroke-width="0.4"/>
<circle cx="548.95" cy="876.62" r="1.5" fill="#c2c2c2" stroke="#b6b6b6" stroke-width="0.4"/>
<circle cx="513.75" cy="844.5" r="1.5" fill="#c2c2c2" stroke="#b6b6b6" stroke-width="0.4"/>
<circle cx="503.56" cy="790.03" r="1.5" fill="#c2c2c2" stroke="#b6b6b6" stroke-width="0.4"/>
<circle cx="531.73" cy="873.95" r="1.5" fill="#c2c2c2" stroke="#b6b6b6" stroke-width="0.4"/>
<circle cx="549.65" cy="860.69" r="1.5" fill="#c2c2c2" stroke="#b6b6b6" stroke-width="0.4"/>
<circle cx="570.72" cy="847.29" r="1.5" fill="#c2c2c2" stroke="#b6b6b6" stroke-width="0.4"/>
<circle cx="556.86" cy="859.95" r="1.5" fill="#c2c2c2" stroke="#b6b6b6" stroke-width="0.4"/>
<circle cx="548.26" cy="840.77" r="1.5" fill="#c2c2c2" stroke="#b6b6b6" stroke-width="0.4"/>
<circle cx="557.03" cy="875.11" r="1.5" fill="#c2c2c2" stroke="#b6b6b6" stroke-width="0.4"/>
<circle cx="529.54" cy="858.56" r="1.5" fill="#c2c2c2" stroke="#b6b6b6" stroke-width="0.4"/>
<circle cx="518.77" cy="762.39" r="1.5" fill="#c2c2c2" stroke="#b6b6b6" stroke-width="0.4"/>
<circle cx="555.06" cy="855.12" r="1.5" fill="#c2c2c2" stroke="#b6b6b6" stroke-width="0.4"/>
<circle cx="549.73" cy="864.65" r="1.5" fill="#c2c2c2" stroke="#b6b6b6" stroke-width="0.4"/>
<circle cx="529.8" cy="865.25" r="1.5" fill="#c2c2c2" stroke="#b6b6b6" stroke-width="0.4"/>
<circle cx="520.58" cy="826.44" r="1.5" fill="#c2c2c2" stroke="#b6b6b6" stroke-width="0.4"/>
<circle cx="549.47" cy="875.95" r="1.5" fill="#c2c2c2" stroke="#b6b6b6" stroke-width="0.4"/>
<circle cx="548.9" cy="867.37" r="1.5" fill="#c2c2c2" stroke="#b6b6b6" stroke-width="0.4"/>
<circle cx="557.07" cy="805.29" r="1.5" fill="#c2c2c2" stroke="#b6b6b6" stroke-width="0.4"/>
<circle cx="554.68" cy="827.33" r="1.5" fill="#c2c2c2" stroke="#b6b6b6" stroke-width="0.4"/>
<circle cx="535.74" cy="870.14" r="1.5" fill="#c2c2c2" stroke="#b6b6b6" stroke-width="0.4"/>
<circle cx="542.4" cy="888.7" r="1.5" fill="#c2c2c2" stroke="#b6b6b6" stroke-width="0.4"/>
<circle cx="560.11" cy="831.2" r="1.5" fill="#c2c2c2" stroke="#b6b6b6" stroke-width="0.4"/>
<circle cx="555.21" cy="829.43" r="1.5" fill="#c2c2c2" stroke="#b6b6b6" stroke-width="0.4"/>
<circle cx="532.13" cy="876.81" r="1.5" fill="#c2c2c2" stroke="#b6b6b6" stroke-width="0.4"/>
<circle cx="523.5" cy="833.01" r="1.5" fill="#c2c2c2" stroke="#b6b6b6" stroke-width="0.4"/>
<circle cx="554.54" cy="865.54" r="1.5" fill="#c2c2c2" stroke="#b6b6b6" stroke-width="0.4"/>
<circle cx="549.26" cy="873.31" r="1.5" fill="#c2c2c2" stroke="#b6b6b6" stroke-width="0.4"/>
<circle cx="517.09" cy="774.04" r="1.5" fill="#c2c2c2" stroke="#b6b6b6" stroke-width="0.4"/>
<circle cx="533.03" cy="861.2" r="1.5" fill="#c2c2c2" stroke="#b6b6b6" stroke-width="0.4"/>
<circle cx="547.82" cy="880.13" r="1.5" fill="#c2c2c2" stroke="#b6b6b6" stroke-width="0.4"/>
<circle cx="522.55" cy="863.87" r="1.5" fill="#c2c2c2" stroke="#b6b6b6" stroke-width="0.4"/>
<circle cx="544.94" cy="883.73" r="1.5" fill="#c2c2c2" stroke="#b6b6b6" stroke-width="0.4"/>
<circle cx="539.8" cy="887.78" r="1.5" fill="#c2c2c2" stroke="#b6b6b6" stroke-width="0.4"/>
<circle cx="556.84" cy="871.63" r="1.5" fill="#c2c2c2" stroke="#b6b6b6" stroke-width="0.4"/>
<circle cx="538.77" cy="882.1" r="1.5" fill="#c2c2c2" stroke="#b6b6b6" stroke-width="0.4"/>
<circle cx="521.98" cy="832.33" r="1.5" fill="#c2c2c2" stroke="#b6b6b6" stroke-width="0.4"/>
<circle cx="537.39" cy="884.32" r="1.5" fill="#c2c2c2" stroke="#b6b6b6" stroke-width="0.4"/>
<circle cx="546.93" cy="878.96" r="1.5" fill="#c2c2c2" stroke="#b6b6b6" stroke-width="0.4"/>
<circle cx="537.45" cy="868.42" r="1.5" fill="#c2c2c2" stroke="#b6b6b6" stroke-width="0.4"/>
<circle cx="565.53" cy="840.16" r="1.5" fill="#c2c2c2" stroke="#b6b6b6" stroke-width="0.4"/>
<circle cx="523.74" cy="860.16" r="1.5" fill="#c2c2c2" stroke="#b6b6b6" stroke-width="0.4"/>
<circle cx="519.13" cy="806.46" r="1.5" fill="#c2c2c2" stroke="#b6b6b6" stroke-width="0.4"/>
<circle cx="537.68" cy="877.32" r="1.5" fill="#c2c2c2" stroke="#b6b6b6" stroke-width="0.4"/>
<circle cx="546.31" cy="879.4" r="1.5" fill="#c2c2c2" stroke="#b6b6b6" stroke-width="0.4"/>
<circle cx="534.9" cy="877.07" r="1.5" fill="#c2c2c2" stroke="#b6b6b6" stroke-width="0.4"/>
<circle cx="555.21" cy="871.12" r="1.5" fill="#c2c2c2" stroke="#b6b6b6" stroke-width="0.4"/>
<circle cx="546.34" cy="879.56" r="1.5" fill="#c2c2c2" stroke="#b6b6b6" stroke-width="0.4"/>
<circle cx="534.02" cy="862.37" r="1.5" fill="#c2c2c2" stroke="#b6b6b6" stroke-width="0.4"/>
<circle cx="543.53" cy="879.65" r="1.5" fill="#c2c2c2" stroke="#b6b6b6" stroke-width="0.4"/>
<circle cx="516.33" cy="802.49" r="1.5" fill="#c2c2c2" stroke="#b6b6b6" stroke-width="0.4"/>
<circle cx="525.04" cy="821.54" r="1.5" fill="#c2c2c2" stroke="#b6b6b6" stroke-width="0.4"/>
<circle cx="545.72" cy="869.7" r="1.5" fill="#c2c2c2" stroke="#b6b6b6" stroke-width="0.4"/>
<circle cx="511.63" cy="802.2" r="1.5" fill="#c2c2c2" stroke="#b6b6b6" stroke-width="0.4"/>
<circle cx="533.96" cy="881.62" r="1.5" fill="#c2c2c2" stroke="#b6b6b6" stroke-width="0.4"/>
<circle cx="536.05" cy="875.87" r="1.5" fill="#c2c2c2" stroke="#b6b6b6" stroke-width="0.4"/>
<circle cx="547.24" cy="884.19" r="1.5" fill="#c2c2c2" stroke="#b6b6b6" stroke-width="0.4"/>
<circle cx="553.83" cy="834.45" r="1.5" fill="#c2c2c2" stroke="#b6b6b6" stroke-width="0.4"/>
<circle cx="528.3" cy="874.76" r="1.5" fill="#c2c2c2" stroke="#b6b6b6" stroke-width="0.4"/>
<circle cx="534.53" cy="825.29" r="1.5" fill="#c2c2c2" stroke="#b6b6b6" stroke-width="0.4"/>
<circle cx="531.88" cy="877.22" r="1.5" fill="#c2c2c2" stroke="#b6b6b6" stroke-width="0.4"/>
<circle cx="533.57" cy="878.3" r="1.5" fill="#c2c2c2" stroke="#b6b6b6" stroke-width="0.4"/>
<circle cx="546.99" cy="882.76" r="1.5" fill="#c2c2c2" stroke="#b6b6b6" stroke-width="0.4"/>
<circle cx="506.7" cy="782.39" r="1.5" fill="#c2c2c2" stroke="#b6b6b6" stroke-width="0.4"/>
<circle cx="568.86" cy="834.07" r="1.5" fill="#c2c2c2" stroke="#b6b6b6" stroke-width="0.4"/>
<circle cx="533.69" cy="872.09" r="1.5" fill="#c2c2c2" stroke="#b6b6b6" stroke-width="0.4"/>
<circle cx="540.45" cy="888" r="1.5" fill="#c2c2c2" stroke="#b6b6b6" stroke-width="0.4"/>
<circle cx="587.74" cy="797.74" r="1.5" fill="#c2c2c2" stroke="#b6b6b6" stroke-width="0.4"/>
<circle cx="550.66" cy="860.38" r="1.5" fill="#c2c2c2" stroke="#b6b6b6" stroke-width="0.4"/>
<circle cx="549.75" cy="883.41" r="1.5" fill="#c2c2c2" stroke="#b6b6b6" stroke-width="0.4"/>
<circle cx="550.63" cy="857.19" r="1.5" fill="#c2c2c2" stroke="#b6b6b6" stroke-width="0.4"/>
<circle cx="559.9" cy="849.46" r="1.5" fill="#c2c2c2" stroke="#b6b6b6" stroke-width="0.4"/>
<circle cx="542.12" cy="888.1" r="1.5" fill="#c2c2c2" stroke="#b6b6b6" stroke-width="0.4"/>
<circle cx="543.38" cy="887.8" r="1.5" fill="#c2c2c2" stroke="#b6b6b6" stroke-width="0.4"/>
<circle cx="533.84" cy="852.87" r="1.5" fill="#c2c2c2" stroke="#b6b6b6" stroke-width="0.4"/>
<circle cx="538.25" cy="884.98" r="1.5" fill="#c2c2c2" stroke="#b6b6b6" stroke-width="0.4"/>
<circle cx="553.09" cy="857.66" r="1.5" fill="#c2c2c2" stroke="#b6b6b6" stroke-width="0.4"/>
<circle cx="536.5" cy="882.08" r="1.5" fill="#c2c2c2" stroke="#b6b6b6" stroke-width="0.4"/>
<circle cx="546.66" cy="825.78" r="1.5" fill="#c2c2c2" stroke="#b6b6b6" stroke-width="0.4"/>
<circle cx="539.69" cy="884.55" r="1.5" fill="#c2c2c2" stroke="#b6b6b6" stroke-width="0.4"/>
<circle cx="561.2" cy="851.12" r="1.5" fill="#c2c2c2" stroke="#b6b6b6" stroke-width="0.4"/>
<circle cx="552.79" cy="864.54" r="1.5" fill="#c2c2c2" stroke="#b6b6b6" stroke-width="0.4"/>
<circle cx="545.55" cy="883.46" r="1.5" fill="#c2c2c2" stroke="#b6b6b6" stroke-width="0.4"/>
<circle cx="516.04" cy="771.23" r="1.5" fill="#c2c2c2" stroke="#b6b6b6" stroke-width="0.4"/>
<circle cx="516.58" cy="847.86" r="1.5" fill="#c2c2c2" stroke="#b6b6b6" stroke-width="0.4"/>
<circle cx="571.31" cy="850.24" r="1.5" fill="#c2c2c2" stroke="#b6b6b6" stroke-width="0.4"/>
<circle cx="548.65" cy="882.98" r="1.5" fill="#c2c2c2" stroke="#b6b6b6" stroke-width="0.4"/>
<circle cx="540.75" cy="887.94" r="1.5" fill="#c2c2c2" stroke="#b6b6b6" stroke-width="0.4"/>
<circle cx="534.49" cy="877.13" r="1.5" fill="#c2c2c2" stroke="#b6b6b6" stroke-width="0.4"/>
<circle cx="562.23" cy="824.11" r="1.5" fill="#c2c2c2" stroke="#b6b6b6" stroke-width="0.4"/>
<circle cx="555.48" cy="868.72" r="1.5" fill="#c2c2c2" stroke="#b6b6b6" stroke-width="0.4"/>
<circle cx="543.94" cy="876.68" r="1.5" fill="#c2c2c2" stroke="#b6b6b6" stroke-width="0.4"/>
<circle cx="532.26" cy="825.55" r="1.5" fill="#c2c2c2" stroke="#b6b6b6" stroke-width="0.4"/>
<circle cx="545.33" cy="882.78" r="1.5" fill="#c2c2c2" stroke="#b6b6b6" stroke-width="0.4"/>
<circle cx="539.55" cy="886.73" r="1.5" fill="#c2c2c2" stroke="#b6b6b6" stroke-width="0.4"/>
<circle cx="533.29" cy="855.79" r="1.5" fill="#c2c2c2" stroke="#b6b6b6" stroke-width="0.4"/>
<circle cx="527.92" cy="867.24" r="1.5" fill="#c2c2c2" stroke="#b6b6b6" stroke-width="0.4"/>
<circle cx="528.93" cy="863.86" r="1.5" fill="#c2c2c2" stroke="#b6b6b6" stroke-width="0.4"/>
<circle cx="523.63" cy="842.68" r="1.5" fill="#c2c2c2" stroke="#b6b6b6" stroke-width="0.4"/>
<circle cx="556.18" cy="867.22" r="1.5" fill="#c2c2c2" stroke="#b6b6b6" stroke-width="0.4"/>
<circle cx="533.8" cy="881.98" r="1.5" fill="#c2c2c2" stroke="#b6b6b6" stroke-width="0.4"/>
<circle cx="529.26" cy="840.86" r="1.5" fill="#c2c2c2" stroke="#b6b6b6" stroke-width="0.4"/>
<circle cx="554.66" cy="873.04" r="1.5" fill="#c2c2c2" stroke="#b6b6b6" stroke-width="0.4"/>
<circle cx="535.68" cy="875.84" r="1.5" fill="#c2c2c2" stroke="#b6b6b6" stroke-width="0.4"/>
<circle cx="531.48" cy="881.28" r="1.5" fill="#c2c2c2" stroke="#b6b6b6" stroke-width="0.4"/>
<circle cx="559.88" cy="868.82" r="1.5" fill="#c2c2c2" stroke="#b6b6b6" stroke-width="0.4"/>
<circle cx="514.29" cy="799.86" r="1.5" fill="#c2c2c2" stroke="#b6b6b6" stroke-width="0.4"/>
<circle cx="566.28" cy="779.81" r="1.5" fill="#c2c2c2" stroke="#b6b6b6" stroke-width="0.4"/>
<circle cx="517.29" cy="814.47" r="1.5" fill="#c2c2c2" stroke="#b6b6b6" stroke-width="0.4"/>
<circle cx="562.18" cy="833.36" r="1.5" fill="#c2c2c2" stroke="#b6b6b6" stroke-width="0.4"/>
<circle cx="554.57" cy="867.03" r="1.5" fill="#c2c2c2" stroke="#b6b6b6" stroke-width="0.4"/>
<circle cx="540.41" cy="888.34" r="1.5" fill="#c2c2c2" stroke="#b6b6b6" stroke-width="0.4"/>
<circle cx="563.65" cy="845.99" r="1.5" fill="#c2c2c2" stroke="#b6b6b6" stroke-width="0.4"/>
<circle cx="544.32" cy="885.11" r="1.5" fill="#c2c2c2" stroke="#b6b6b6" stroke-width="0.4"/>
<circle cx="549.4" cy="881.77" r="1.5" fill="#c2c2c2" stroke="#b6b6b6" stroke-width="0.4"/>
<circle cx="579.33" cy="808.72" r="1.5" fill="#c2c2c2" stroke="#b6b6b6" stroke-width="0.4"/>
<circle cx="530.37" cy="872.6" r="1.5" fill="#c2c2c2" stroke="#b6b6b6" stroke-width="0.4"/>
<circle cx="531.77" cy="872.74" r="1.5" fill="#c2c2c2" stroke="#b6b6b6" stroke-width="0.4"/>
<circle cx="538.29" cy="876.73" r="1.5" fill="#c2c2c2" stroke="#b6b6b6" stroke-width="0.4"/>
<circle cx="532.64" cy="872.1" r="1.5" fill="#c2c2c2" stroke="#b6b6b6" stroke-width="0.4"/>
<circle cx="538.71" cy="885.4" r="1.5" fill="#c2c2c2" stroke="#b6b6b6" stroke-width="0.4"/>
<circle cx="529.51" cy="878.06" r="1.5" fill="#c2c2c2" stroke="#b6b6b6" stroke-width="0.4"/>
<circle cx="543.27" cy="888.78" r="1.5" fill="#c2c2c2" stroke="#b6b6b6" stroke-width="0.4"/>
<circle cx="528.94" cy="857.53" r="1.5" fill="#c2c2c2" stroke="#b6b6b6" stroke-width="0.4"/>
<circle cx="533.41" cy="870.21" r="1.5" fill="#c2c2c2" stroke="#b6b6b6" stroke-width="0.4"/>
<circle cx="547.23" cy="868.12" r="1.5" fill="#c2c2c2" stroke="#b6b6b6" stroke-width="0.4"/>
<circle cx="529.74" cy="866.2" r="1.5" fill="#c2c2c2" stroke="#b6b6b6" stroke-width="0.4"/>
<circle cx="492.25" cy="788.44" r="1.5" fill="#c2c2c2" stroke="#b6b6b6" stroke-width="0.4"/>
<circle cx="546.13" cy="885.93" r="1.5" fill="#c2c2c2" stroke="#b6b6b6" stroke-width="0.4"/>
<circle cx="520.51" cy="844.22" r="1.5" fill="#c2c2c2" stroke="#b6b6b6" stroke-width="0.4"/>
<circle cx="535.1" cy="874.94" r="1.5" fill="#c2c2c2" stroke="#b6b6b6" stroke-width="0.4"/>
<circle cx="536.07" cy="867.33" r="1.5" fill="#c2c2c2" stroke="#b6b6b6" stroke-width="0.4"/>
<circle cx="533.4" cy="858.07" r="1.5" fill="#c2c2c2" stroke="#b6b6b6" stroke-width="0.4"/>
<circle cx="546.51" cy="885.31" r="1.5" fill="#c2c2c2" stroke="#b6b6b6" stroke-width="0.4"/>
<circle cx="529.92" cy="880.39" r="1.5" fill="#c2c2c2" stroke="#b6b6b6" stroke-width="0.4"/>
<circle cx="537.39" cy="864.92" r="1.5" fill="#c2c2c2" stroke="#b6b6b6" stroke-width="0.4"/>
<circle cx="580.86" cy="826.12" r="1.5" fill="#c2c2c2" stroke="#b6b6b6" stroke-width="0.4"/>
<circle cx="550.33" cy="865.88" r="1.5" fill="#c2c2c2" stroke="#b6b6b6" stroke-width="0.4"/>
<circle cx="538.59" cy="886.16" r="1.5" fill="#c2c2c2" stroke="#b6b6b6" stroke-width="0.4"/>
<circle cx="578.03" cy="800.6" r="1.5" fill="#c2c2c2" stroke="#b6b6b6" stroke-width="0.4"/>
<circle cx="531.7" cy="872.99" r="1.5" fill="#c2c2c2" stroke="#b6b6b6" stroke-width="0.4"/>
<circle cx="534.63" cy="868.46" r="1.5" fill="#c2c2c2" stroke="#b6b6b6" stroke-width="0.4"/>
<circle cx="552.91" cy="873.32" r="1.5" fill="#c2c2c2" stroke="#b6b6b6" stroke-width="0.4"/>
<circle cx="552.22" cy="870.65" r="1.5" fill="#c2c2c2" stroke="#b6b6b6" stroke-width="0.4"/>
<circle cx="534.44" cy="876.13" r="1.5" fill="#c2c2c2" stroke="#b6b6b6" stroke-width="0.4"/>
<circle cx="562.05" cy="803.55" r="1.5" fill="#c2c2c2" stroke="#b6b6b6" stroke-width="0.4"/>
<circle cx="531.84" cy="876.56" r="1.5" fill="#c2c2c2" stroke="#b6b6b6" stroke-width="0.4"/>
<circle cx="525.5" cy="873.23" r="1.5" fill="#c2c2c2" stroke="#b6b6b6" stroke-width="0.4"/>
<circle cx="553.86" cy="875.79" r="1.5" fill="#c2c2c2" stroke="#b6b6b6" stroke-width="0.4"/>
<circle cx="566.6" cy="858" r="1.5" fill="#c2c2c2" stroke="#b6b6b6" stroke-width="0.4"/>
<circle cx="526.57" cy="868.32" r="1.5" fill="#c2c2c2" stroke="#b6b6b6" stroke-width="0.4"/>
<circle cx="546.1" cy="882.19" r="1.5" fill="#c2c2c2" stroke="#b6b6b6" stroke-width="0.4"/>
<circle cx="527.6" cy="854.68" r="1.5" fill="#c2c2c2" stroke="#b6b6b6" stroke-width="0.4"/>
<circle cx="539.72" cy="887.99" r="1.5" fill="#c2c2c2" stroke="#b6b6b6" stroke-width="0.4"/>
<circle cx="535.71" cy="881.5" r="1.5" fill="#c2c2c2" stroke="#b6b6b6" stroke-width="0.4"/>
<circle cx="534.57" cy="857.83" r="1.5" fill="#c2c2c2" stroke="#b6b6b6" stroke-width="0.4"/>
<circle cx="543.11" cy="887.86" r="1.5" fill="#c2c2c2" stroke="#b6b6b6" stroke-width="0.4"/>
<circle cx="522.12" cy="868.95" r="1.5" fill="#c2c2c2" stroke="#b6b6b6" stroke-width="0.4"/>
<circle cx="510.65" cy="812.16" r="1.5" fill="#c2c2c2" stroke="#b6b6b6" stroke-width="0.4"/>
<circle cx="554.33" cy="844.43" r="1.5" fill="#c2c2c2" stroke="#b6b6b6" stroke-width="0.4"/>
<circle cx="564.48" cy="825.92" r="1.5" fill="#c2c2c2" stroke="#b6b6b6" stroke-width="0.4"/>
<circle cx="562.05" cy="865.25" r="1.5" fill="#c2c2c2" stroke="#b6b6b6" stroke-width="0.4"/>
<circle cx="538.63" cy="885.66" r="1.5" fill="#c2c2c2" stroke="#b6b6b6" stroke-width="0.4"/>
<circle cx="533.37" cy="873.85" r="1.5" fill="#c2c2c2" stroke="#b6b6b6" stroke-width="0.4"/>
<circle cx="534.08" cy="879.53" r="1.5" fill="#c2c2c2" stroke="#b6b6b6" stroke-width="0.4"/>
<circle cx="528.59" cy="846.88" r="1.5" fill="#c2c2c2" stroke="#b6b6b6" stroke-width="0.4"/>
<circle cx="538.68" cy="885.58" r="1.5" fill="#c2c2c2" stroke="#b6b6b6" stroke-width="0.4"/>
<circle cx="504.49" cy="810.07" r="1.5" fill="#c2c2c2" stroke="#b6b6b6" stroke-width="0.4"/>
<circle cx="537.64" cy="887.98" r="1.5" fill="#c2c2c2" stroke="#b6b6b6" stroke-width="0.4"/>
<circle cx="519.77" cy="815.21" r="1.5" fill="#c2c2c2" stroke="#b6b6b6" stroke-width="0.4"/>
<circle cx="539.27" cy="883.72" r="1.5" fill="#c2c2c2" stroke="#b6b6b6" stroke-width="0.4"/>
<circle cx="510.72" cy="830.5" r="1.5" fill="#c2c2c2" stroke="#b6b6b6" stroke-width="0.4"/>
<circle cx="527.53" cy="826.33" r="1.5" fill="#c2c2c2" stroke="#b6b6b6" stroke-width="0.4"/>
<circle cx="548.25" cy="885.36" r="1.5" fill="#c2c2c2" stroke="#b6b6b6" stroke-width="0.4"/>
<circle cx="542.24" cy="886.71" r="1.5" fill="#c2c2c2" stroke="#b6b6b6" stroke-width="0.4"/>
<circle cx="511.21" cy="795.5" r="1.5" fill="#c2c2c2" stroke="#b6b6b6" stroke-width="0.4"/>
<circle cx="556.74" cy="858.11" r="1.5" fill="#c2c2c2" stroke="#b6b6b6" stroke-width="0.4"/>
<circle cx="572.28" cy="810.18" r="1.5" fill="#c2c2c2" stroke="#b6b6b6" stroke-width="0.4"/>
<circle cx="591.67" cy="781.67" r="1.5" fill="#c2c2c2" stroke="#b6b6b6" stroke-width="0.4"/>
<circle cx="524.81" cy="861.26" r="1.5" fill="#c2c2c2" stroke="#b6b6b6" stroke-width="0.4"/>
<circle cx="533.69" cy="870.56" r="1.5" fill="#c2c2c2" stroke="#b6b6b6" stroke-width="0.4"/>
<circle cx="538.44" cy="883.26" r="1.5" fill="#c2c2c2" stroke="#b6b6b6" stroke-width="0.4"/>
<circle cx="559.3" cy="812.98" r="1.5" fill="#c2c2c2" stroke="#b6b6b6" stroke-width="0.4"/>
<circle cx="522.46" cy="823.83" r="1.5" fill="#c2c2c2" stroke="#b6b6b6" stroke-width="0.4"/>
<circle cx="530.55" cy="870.62" r="1.5" fill="#c2c2c2" stroke="#b6b6b6" stroke-width="0.4"/>
<circle cx="537.58" cy="857.94" r="1.5" fill="#c2c2c2" stroke="#b6b6b6" stroke-width="0.4"/>
<circle cx="542.73" cy="879.61" r="1.5" fill="#c2c2c2" stroke="#b6b6b6" stroke-width="0.4"/>
<circle cx="506.57" cy="807.43" r="1.5" fill="#c2c2c2" stroke="#b6b6b6" stroke-width="0.4"/>
<circle cx="532.66" cy="876.82" r="1.5" fill="#c2c2c2" stroke="#b6b6b6" stroke-width="0.4"/>
<circle cx="563.45" cy="847.56" r="1.5" fill="#c2c2c2" stroke="#b6b6b6" stroke-width="0.4"/>
<circle cx="524.5" cy="790.92" r="1.5" fill="#c2c2c2" stroke="#b6b6b6" stroke-width="0.4"/>
<circle cx="534.1" cy="873.11" r="1.5" fill="#c2c2c2" stroke="#b6b6b6" stroke-width="0.4"/>
<circle cx="537.37" cy="884.39" r="1.5" fill="#c2c2c2" stroke="#b6b6b6" stroke-width="0.4"/>
<circle cx="554.74" cy="840.72" r="1.5" fill="#c2c2c2" stroke="#b6b6b6" stroke-width="0.4"/>
<circle cx="556.04" cy="820.19" r="1.5" fill="#c2c2c2" stroke="#b6b6b6" stroke-width="0.4"/>
<circle cx="530.27" cy="872.2" r="1.5" fill="#c2c2c2" stroke="#b6b6b6" stroke-width="0.4"/>
<circle cx="525.88" cy="858.53" r="1.5" fill="#c2c2c2" stroke="#b6b6b6" stroke-width="0.4"/>
<circle cx="550.64" cy="872.5" r="1.5" fill="#c2c2c2" stroke="#b6b6b6" stroke-width="0.4"/>
<circle cx="537.83" cy="876.19" r="1.5" fill="#c2c2c2" stroke="#b6b6b6" stroke-width="0.4"/>
<circle cx="545.16" cy="878.33" r="1.5" fill="#c2c2c2" stroke="#b6b6b6" stroke-width="0.4"/>
<circle cx="511.38" cy="838.69" r="1.5" fill="#c2c2c2" stroke="#b6b6b6" stroke-width="0.4"/>
<circle cx="526.94" cy="793.12" r="1.5" fill="#c2c2c2" stroke="#b6b6b6" stroke-width="0.4"/>
<circle cx="547.13" cy="880.04" r="1.5" fill="#c2c2c2" stroke="#b6b6b6" stroke-width="0.4"/>
<circle cx="544.96" cy="882.78" r="1.5" fill="#c2c2c2" stroke="#b6b6b6" stroke-width="0.4"/>
<circle cx="561.21" cy="866.99" r="1.5" fill="#c2c2c2" stroke="#b6b6b6" stroke-width="0.4"/>
<circle cx="568.23" cy="775.46" r="1.5" fill="#c2c2c2" stroke="#b6b6b6" stroke-width="0.4"/>
<circle cx="542.13" cy="888.63" r="1.5" fill="#c2c2c2" stroke="#b6b6b6" stroke-width="0.4"/>
<circle cx="567.16" cy="839.94" r="1.5" fill="#c2c2c2" stroke="#b6b6b6" stroke-width="0.4"/>
<circle cx="557.64" cy="859.59" r="1.5" fill="#c2c2c2" stroke="#b6b6b6" stroke-width="0.4"/>
<circle cx="538.08" cy="884.58" r="1.5" fill="#c2c2c2" stroke="#b6b6b6" stroke-width="0.4"/>
<circle cx="543.16" cy="882.7" r="1.5" fill="#c2c2c2" stroke="#b6b6b6" stroke-width="0.4"/>
<circle cx="558.84" cy="859.97" r="1.5" fill="#c2c2c2" stroke="#b6b6b6" stroke-width="0.4"/>
<circle cx="523.89" cy="798.23" r="1.5" fill="#c2c2c2" stroke="#b6b6b6" stroke-width="0.4"/>
<circle cx="554.18" cy="859.13" r="1.5" fill="#c2c2c2" stroke="#b6b6b6" stroke-width="0.4"/>
<circle cx="523.56" cy="861.48" r="1.5" fill="#c2c2c2" stroke="#b6b6b6" stroke-width="0.4"/>
<circle cx="554.07" cy="859.46" r="1.5" fill="#c2c2c2" stroke="#b6b6b6" stroke-width="0.4"/>
<circle cx="581.37" cy="804.89" r="1.5" fill="#c2c2c2" stroke="#b6b6b6" stroke-width="0.4"/>
<circle cx="553.06" cy="847.59" r="1.5" fill="#c2c2c2" stroke="#b6b6b6" stroke-width="0.4"/>
<circle cx="562.3" cy="819.79" r="1.5" fill="#c2c2c2" stroke="#b6b6b6" stroke-width="0.4"/>
<circle cx="535.93" cy="881.45" r="1.5" fill="#c2c2c2" stroke="#b6b6b6" stroke-width="0.4"/>
<circle cx="545.48" cy="887.2" r="1.5" fill="#c2c2c2" stroke="#b6b6b6" stroke-width="0.4"/>
<circle cx="558.73" cy="855.98" r="1.5" fill="#c2c2c2" stroke="#b6b6b6" stroke-width="0.4"/>
<circle cx="528.98" cy="805.48" r="1.5" fill="#c2c2c2" stroke="#b6b6b6" stroke-width="0.4"/>
<circle cx="544.43" cy="886.21" r="1.5" fill="#c2c2c2" stroke="#b6b6b6" stroke-width="0.4"/>
<circle cx="527.86" cy="840.33" r="1.5" fill="#c2c2c2" stroke="#b6b6b6" stroke-width="0.4"/>
<circle cx="515.88" cy="827.84" r="1.5" fill="#c2c2c2" stroke="#b6b6b6" stroke-width="0.4"/>
<circle cx="570.99" cy="844.17" r="1.5" fill="#c2c2c2" stroke="#b6b6b6" stroke-width="0.4"/>
<circle cx="523.93" cy="873.88" r="1.5" fill="#c2c2c2" stroke="#b6b6b6" stroke-width="0.4"/>
<circle cx="543.28" cy="885.79" r="1.5" fill="#c2c2c2" stroke="#b6b6b6" stroke-width="0.4"/>
<circle cx="516.39" cy="845.43" r="1.5" fill="#c2c2c2" stroke="#b6b6b6" stroke-width="0.4"/>
<circle cx="529.31" cy="877.96" r="1.5" fill="#c2c2c2" stroke="#b6b6b6" stroke-width="0.4"/>
<circle cx="516.93" cy="832.65" r="1.5" fill="#c2c2c2" stroke="#b6b6b6" stroke-width="0.4"/>
<circle cx="558.01" cy="840.59" r="1.5" fill="#c2c2c2" stroke="#b6b6b6" stroke-width="0.4"/>
<circle cx="564.21" cy="858.61" r="1.5" fill="#c2c2c2" stroke="#b6b6b6" stroke-width="0.4"/>
<circle cx="547.48" cy="876.47" r="1.5" fill="#c2c2c2" stroke="#b6b6b6" stroke-width="0.4"/>
<circle cx="532.14" cy="865.91" r="1.5" fill="#c2c2c2" stroke="#b6b6b6" stroke-width="0.4"/>
<circle cx="543.49" cy="877.82" r="1.5" fill="#c2c2c2" stroke="#b6b6b6" stroke-width="0.4"/>
<circle cx="522.15" cy="831.33" r="1.5" fill="#c2c2c2" stroke="#b6b6b6" stroke-width="0.4"/>
<circle cx="535.54" cy="881.94" r="1.5" fill="#c2c2c2" stroke="#b6b6b6" stroke-width="0.4"/>
<circle cx="532.1" cy="874.87" r="1.5" fill="#c2c2c2" stroke="#b6b6b6" stroke-width="0.4"/>
<circle cx="550.8" cy="827.21" r="1.5" fill="#c2c2c2" stroke="#b6b6b6" stroke-width="0.4"/>
<circle cx="513.68" cy="833.47" r="1.5" fill="#c2c2c2" stroke="#b6b6b6" stroke-width="0.4"/>
<circle cx="524.05" cy="858.93" r="1.5" fill="#c2c2c2" stroke="#b6b6b6" stroke-width="0.4"/>
<circle cx="547.32" cy="877.67" r="1.5" fill="#c2c2c2" stroke="#b6b6b6" stroke-width="0.4"/>
<circle cx="551.95" cy="880.9" r="1.5" fill="#c2c2c2" stroke="#b6b6b6" stroke-width="0.4"/>
<circle cx="560.64" cy="841.89" r="1.5" fill="#c2c2c2" stroke="#b6b6b6" stroke-width="0.4"/>
<circle cx="518.34" cy="842.8" r="1.5" fill="#c2c2c2" stroke="#b6b6b6" stroke-width="0.4"/>
<circle cx="561.49" cy="853.88" r="1.5" fill="#c2c2c2" stroke="#b6b6b6" stroke-width="0.4"/>
<circle cx="550.05" cy="876.59" r="1.5" fill="#c2c2c2" stroke="#b6b6b6" stroke-width="0.4"/>
<circle cx="536.39" cy="878.89" r="1.5" fill="#c2c2c2" stroke="#b6b6b6" stroke-width="0.4"/>
<circle cx="522.77" cy="858.27" r="1.5" fill="#c2c2c2" stroke="#b6b6b6" stroke-width="0.4"/>
<circle cx="520.35" cy="858.66" r="1.5" fill="#c2c2c2" stroke="#b6b6b6" stroke-width="0.4"/>
<circle cx="522.33" cy="856.16" r="1.5" fill="#c2c2c2" stroke="#b6b6b6" stroke-width="0.4"/>
<circle cx="537.79" cy="883.47" r="1.5" fill="#c2c2c2" stroke="#b6b6b6" stroke-width="0.4"/>
<circle cx="576.91" cy="841.34" r="1.5" fill="#c2c2c2" stroke="#b6b6b6" stroke-width="0.4"/>
<circle cx="533.47" cy="879.22" r="1.5" fill="#c2c2c2" stroke="#b6b6b6" stroke-width="0.4"/>
<circle cx="540.02" cy="885.55" r="1.5" fill="#c2c2c2" stroke="#b6b6b6" stroke-width="0.4"/>
<circle cx="545.37" cy="871.51" r="1.5" fill="#c2c2c2" stroke="#b6b6b6" stroke-width="0.4"/>
<circle cx="537.57" cy="888.14" r="1.5" fill="#c2c2c2" stroke="#b6b6b6" stroke-width="0.4"/>
<circle cx="551.66" cy="855.66" r="1.5" fill="#c2c2c2" stroke="#b6b6b6" stroke-width="0.4"/>
<circle cx="552.72" cy="827.12" r="1.5" fill="#c2c2c2" stroke="#b6b6b6" stroke-width="0.4"/>
<circle cx="562.8" cy="814.47" r="1.5" fill="#c2c2c2" stroke="#b6b6b6" stroke-width="0.4"/>
<circle cx="523.02" cy="856.34" r="1.5" fill="#c2c2c2" stroke="#b6b6b6" stroke-width="0.4"/>
<circle cx="546.19" cy="883.76" r="1.5" fill="#c2c2c2" stroke="#b6b6b6" stroke-width="0.4"/>
<circle cx="529.91" cy="818.1" r="1.5" fill="#c2c2c2" stroke="#b6b6b6" stroke-width="0.4"/>
<circle cx="538.16" cy="865.61" r="1.5" fill="#c2c2c2" stroke="#b6b6b6" stroke-width="0.4"/>
<circle cx="523.75" cy="825.63" r="1.5" fill="#c2c2c2" stroke="#b6b6b6" stroke-width="0.4"/>
<circle cx="525.18" cy="839.27" r="1.5" fill="#c2c2c2" stroke="#b6b6b6" stroke-width="0.4"/>
<circle cx="558.04" cy="853.48" r="1.5" fill="#c2c2c2" stroke="#b6b6b6" stroke-width="0.4"/>
<circle cx="557.4" cy="804.16" r="1.5" fill="#c2c2c2" stroke="#b6b6b6" stroke-width="0.4"/>
<circle cx="553.04" cy="856.29" r="1.5" fill="#c2c2c2" stroke="#b6b6b6" stroke-width="0.4"/>
<circle cx="550.01" cy="871.96" r="1.5" fill="#c2c2c2" stroke="#b6b6b6" stroke-width="0.4"/>
<circle cx="517.57" cy="847.65" r="1.5" fill="#c2c2c2" stroke="#b6b6b6" stroke-width="0.4"/>
<circle cx="554.71" cy="835.93" r="1.5" fill="#c2c2c2" stroke="#b6b6b6" stroke-width="0.4"/>
<circle cx="549.68" cy="883.06" r="1.5" fill="#c2c2c2" stroke="#b6b6b6" stroke-width="0.4"/>
<circle cx="540.28" cy="888.44" r="1.5" fill="#c2c2c2" stroke="#b6b6b6" stroke-width="0.4"/>
<circle cx="546.61" cy="870.85" r="1.5" fill="#c2c2c2" stroke="#b6b6b6" stroke-width="0.4"/>
<circle cx="549.54" cy="846.65" r="1.5" fill="#c2c2c2" stroke="#b6b6b6" stroke-width="0.4"/>
<circle cx="567.09" cy="849.2" r="1.5" fill="#c2c2c2" stroke="#b6b6b6" stroke-width="0.4"/>
<circle cx="519.18" cy="850.76" r="1.5" fill="#c2c2c2" stroke="#b6b6b6" stroke-width="0.4"/>
<circle cx="527.03" cy="870.4" r="1.5" fill="#c2c2c2" stroke="#b6b6b6" stroke-width="0.4"/>
<circle cx="546.33" cy="877.07" r="1.5" fill="#c2c2c2" stroke="#b6b6b6" stroke-width="0.4"/>
<circle cx="550.81" cy="866.67" r="1.5" fill="#c2c2c2" stroke="#b6b6b6" stroke-width="0.4"/>
<circle cx="516.15" cy="838.81" r="1.5" fill="#c2c2c2" stroke="#b6b6b6" stroke-width="0.4"/>
<circle cx="557.3" cy="819.6" r="1.5" fill="#c2c2c2" stroke="#b6b6b6" stroke-width="0.4"/>
<circle cx="532.43" cy="867.5" r="1.5" fill="#c2c2c2" stroke="#b6b6b6" stroke-width="0.4"/>
<circle cx="536.89" cy="884.36" r="1.5" fill="#c2c2c2" stroke="#b6b6b6" stroke-width="0.4"/>
<circle cx="569.52" cy="820.23" r="1.5" fill="#c2c2c2" stroke="#b6b6b6" stroke-width="0.4"/>
<circle cx="543.74" cy="868.82" r="1.5" fill="#c2c2c2" stroke="#b6b6b6" stroke-width="0.4"/>
<circle cx="558.52" cy="842.86" r="1.5" fill="#c2c2c2" stroke="#b6b6b6" stroke-width="0.4"/>
<circle cx="525.83" cy="837.24" r="1.5" fill="#c2c2c2" stroke="#b6b6b6" stroke-width="0.4"/>
<circle cx="562.9" cy="838.91" r="1.5" fill="#c2c2c2" stroke="#b6b6b6" stroke-width="0.4"/>
<circle cx="538.9" cy="887.85" r="1.5" fill="#c2c2c2" stroke="#b6b6b6" stroke-width="0.4"/>
<circle cx="532.91" cy="882.06" r="1.5" fill="#c2c2c2" stroke="#b6b6b6" stroke-width="0.4"/>
<circle cx="564.94" cy="838.73" r="1.5" fill="#c2c2c2" stroke="#b6b6b6" stroke-width="0.4"/>
<circle cx="552.66" cy="875.8" r="1.5" fill="#c2c2c2" stroke="#b6b6b6" stroke-width="0.4"/>
<circle cx="546.52" cy="877.2" r="1.5" fill="#c2c2c2" stroke="#b6b6b6" stroke-width="0.4"/>
<circle cx="562.6" cy="821.95" r="1.5" fill="#c2c2c2" stroke="#b6b6b6" stroke-width="0.4"/>
<circle cx="526.01" cy="876.01" r="1.5" fill="#c2c2c2" stroke="#b6b6b6" stroke-width="0.4"/>
<circle cx="522.83" cy="865.11" r="1.5" fill="#c2c2c2" stroke="#b6b6b6" stroke-width="0.4"/>
<circle cx="542.48" cy="888.91" r="1.5" fill="#c2c2c2" stroke="#b6b6b6" stroke-width="0.4"/>
<circle cx="531.25" cy="865.7" r="1.5" fill="#c2c2c2" stroke="#b6b6b6" stroke-width="0.4"/>
<circle cx="549.19" cy="871.08" r="1.5" fill="#c2c2c2" stroke="#b6b6b6" stroke-width="0.4"/>
<circle cx="546.08" cy="884.07" r="1.5" fill="#c2c2c2" stroke="#b6b6b6" stroke-width="0.4"/>
<circle cx="556.24" cy="867.69" r="1.5" fill="#c2c2c2" stroke="#b6b6b6" stroke-width="0.4"/>
<circle cx="568.18" cy="800.7" r="1.5" fill="#c2c2c2" stroke="#b6b6b6" stroke-width="0.4"/>
<circle cx="530.68" cy="852.02" r="1.5" fill="#c2c2c2" stroke="#b6b6b6" stroke-width="0.4"/>
<circle cx="533.72" cy="883.81" r="1.5" fill="#c2c2c2" stroke="#b6b6b6" stroke-width="0.4"/>
<circle cx="573.55" cy="848.01" r="1.5" fill="#c2c2c2" stroke="#b6b6b6" stroke-width="0.4"/>
<circle cx="567.55" cy="820.75" r="1.5" fill="#c2c2c2" stroke="#b6b6b6" stroke-width="0.4"/>
<circle cx="529.92" cy="830.23" r="1.5" fill="#c2c2c2" stroke="#b6b6b6" stroke-width="0.4"/>
<circle cx="575.23" cy="848.63" r="1.5" fill="#c2c2c2" stroke="#b6b6b6" stroke-width="0.4"/>
<circle cx="538.87" cy="883.27" r="1.5" fill="#c2c2c2" stroke="#b6b6b6" stroke-width="0.4"/>
<circle cx="560.09" cy="842.32" r="1.5" fill="#c2c2c2" stroke="#b6b6b6" stroke-width="0.4"/>
<circle cx="534.33" cy="881.21" r="1.5" fill="#c2c2c2" stroke="#b6b6b6" stroke-width="0.4"/>
<circle cx="563.57" cy="792.57" r="1.5" fill="#c2c2c2" stroke="#b6b6b6" stroke-width="0.4"/>
<circle cx="543.92" cy="884.36" r="1.5" fill="#c2c2c2" stroke="#b6b6b6" stroke-width="0.4"/>
<circle cx="528.25" cy="825.57" r="1.5" fill="#c2c2c2" stroke="#b6b6b6" stroke-width="0.4"/>
<circle cx="529.07" cy="879.17" r="1.5" fill="#c2c2c2" stroke="#b6b6b6" stroke-width="0.4"/>
<circle cx="524.03" cy="836.12" r="1.5" fill="#c2c2c2" stroke="#b6b6b6" stroke-width="0.4"/>
<circle cx="544.96" cy="880.4" r="1.5" fill="#c2c2c2" stroke="#b6b6b6" stroke-width="0.4"/>
<circle cx="528.32" cy="844.83" r="1.5" fill="#c2c2c2" stroke="#b6b6b6" stroke-width="0.4"/>
<circle cx="552.42" cy="857.06" r="1.5" fill="#c2c2c2" stroke="#b6b6b6" stroke-width="0.4"/>
<circle cx="517.51" cy="833.93" r="1.5" fill="#c2c2c2" stroke="#b6b6b6" stroke-width="0.4"/>
<circle cx="515.32" cy="822.14" r="1.5" fill="#c2c2c2" stroke="#b6b6b6" stroke-width="0.4"/>
<circle cx="529.05" cy="866.67" r="1.5" fill="#c2c2c2" stroke="#b6b6b6" stroke-width="0.4"/>
<circle cx="576.52" cy="762.6" r="1.5" fill="#c2c2c2" stroke="#b6b6b6" stroke-width="0.4"/>
<circle cx="565.15" cy="856.18" r="1.5" fill="#c2c2c2" stroke="#b6b6b6" stroke-width="0.4"/>
<circle cx="562.72" cy="804.49" r="1.5" fill="#c2c2c2" stroke="#b6b6b6" stroke-width="0.4"/>
<circle cx="529.04" cy="855.84" r="1.5" fill="#c2c2c2" stroke="#b6b6b6" stroke-width="0.4"/>
<circle cx="523.39" cy="844.62" r="1.5" fill="#c2c2c2" stroke="#b6b6b6" stroke-width="0.4"/>
<circle cx="592.32" cy="783.6" r="1.5" fill="#c2c2c2" stroke="#b6b6b6" stroke-width="0.4"/>
<circle cx="548.88" cy="880.56" r="1.5" fill="#c2c2c2" stroke="#b6b6b6" stroke-width="0.4"/>
<circle cx="553.32" cy="795.54" r="1.5" fill="#c2c2c2" stroke="#b6b6b6" stroke-width="0.4"/>
<circle cx="547.18" cy="871.08" r="1.5" fill="#c2c2c2" stroke="#b6b6b6" stroke-width="0.4"/>
<circle cx="572.9" cy="784.53" r="1.5" fill="#c2c2c2" stroke="#b6b6b6" stroke-width="0.4"/>
<circle cx="536.31" cy="874.82" r="1.5" fill="#c2c2c2" stroke="#b6b6b6" stroke-width="0.4"/>
<circle cx="548.64" cy="865.83" r="1.5" fill="#c2c2c2" stroke="#b6b6b6" stroke-width="0.4"/>
<circle cx="564.57" cy="853.66" r="1.5" fill="#c2c2c2" stroke="#b6b6b6" stroke-width="0.4"/>
<circle cx="539.5" cy="885.63" r="1.5" fill="#c2c2c2" stroke="#b6b6b6" stroke-width="0.4"/>
<circle cx="556.01" cy="877.79" r="1.5" fill="#c2c2c2" stroke="#b6b6b6" stroke-width="0.4"/>
<circle cx="554.7" cy="864.87" r="1.5" fill="#c2c2c2" stroke="#b6b6b6" stroke-width="0.4"/>
<circle cx="558.07" cy="797.14" r="1.5" fill="#c2c2c2" stroke="#b6b6b6" stroke-width="0.4"/>
<circle cx="557.9" cy="828.35" r="1.5" fill="#c2c2c2" stroke="#b6b6b6" stroke-width="0.4"/>
<circle cx="529.63" cy="867.34" r="1.5" fill="#c2c2c2" stroke="#b6b6b6" stroke-width="0.4"/>
<circle cx="537.06" cy="876.93" r="1.5" fill="#c2c2c2" stroke="#b6b6b6" stroke-width="0.4"/>
<circle cx="559.29" cy="814.58" r="1.5" fill="#c2c2c2" stroke="#b6b6b6" stroke-width="0.4"/>
<circle cx="516.46" cy="799.45" r="1.5" fill="#c2c2c2" stroke="#b6b6b6" stroke-width="0.4"/>
<circle cx="574.81" cy="769.65" r="1.5" fill="#c2c2c2" stroke="#b6b6b6" stroke-width="0.4"/>
<circle cx="550.71" cy="846.58" r="1.5" fill="#c2c2c2" stroke="#b6b6b6" stroke-width="0.4"/>
<circle cx="508.78" cy="788.95" r="1.5" fill="#c2c2c2" stroke="#b6b6b6" stroke-width="0.4"/>
<circle cx="542.88" cy="887.43" r="1.5" fill="#c2c2c2" stroke="#b6b6b6" stroke-width="0.4"/>
<circle cx="538.76" cy="883.81" r="1.5" fill="#c2c2c2" stroke="#b6b6b6" stroke-width="0.4"/>
<circle cx="573.87" cy="808.45" r="1.5" fill="#c2c2c2" stroke="#b6b6b6" stroke-width="0.4"/>
<circle cx="537.3" cy="881.49" r="1.5" fill="#c2c2c2" stroke="#b6b6b6" stroke-width="0.4"/>
<circle cx="550.25" cy="877.81" r="1.5" fill="#c2c2c2" stroke="#b6b6b6" stroke-width="0.4"/>
<circle cx="583.39" cy="807.32" r="1.5" fill="#c2c2c2" stroke="#b6b6b6" stroke-width="0.4"/>
<circle cx="522.28" cy="824.61" r="1.5" fill="#c2c2c2" stroke="#b6b6b6" stroke-width="0.4"/>
<circle cx="565.98" cy="850.08" r="1.5" fill="#c2c2c2" stroke="#b6b6b6" stroke-width="0.4"/>
<circle cx="561.31" cy="816.38" r="1.5" fill="#c2c2c2" stroke="#b6b6b6" stroke-width="0.4"/>
<circle cx="582.59" cy="802.92" r="1.5" fill="#c2c2c2" stroke="#b6b6b6" stroke-width="0.4"/>
<circle cx="555.06" cy="835.71" r="1.5" fill="#c2c2c2" stroke="#b6b6b6" stroke-width="0.4"/>
<circle cx="519.57" cy="848.13" r="1.5" fill="#c2c2c2" stroke="#b6b6b6" stroke-width="0.4"/>
<circle cx="546.85" cy="884.33" r="1.5" fill="#c2c2c2" stroke="#b6b6b6" stroke-width="0.4"/>
<circle cx="510.94" cy="839.08" r="1.5" fill="#c2c2c2" stroke="#b6b6b6" stroke-width="0.4"/>
<circle cx="546.07" cy="883.08" r="1.5" fill="#c2c2c2" stroke="#b6b6b6" stroke-width="0.4"/>
<circle cx="513.32" cy="825.29" r="1.5" fill="#c2c2c2" stroke="#b6b6b6" stroke-width="0.4"/>
<circle cx="510.83" cy="798.16" r="1.5" fill="#c2c2c2" stroke="#b6b6b6" stroke-width="0.4"/>
<circle cx="522.17" cy="842.55" r="1.5" fill="#c2c2c2" stroke="#b6b6b6" stroke-width="0.4"/>
<circle cx="537.42" cy="885.24" r="1.5" fill="#c2c2c2" stroke="#b6b6b6" stroke-width="0.4"/>
<circle cx="543.61" cy="882.92" r="1.5" fill="#c2c2c2" stroke="#b6b6b6" stroke-width="0.4"/>
<circle cx="529.14" cy="830.35" r="1.5" fill="#c2c2c2" stroke="#b6b6b6" stroke-width="0.4"/>
<circle cx="522.27" cy="814.92" r="1.5" fill="#c2c2c2" stroke="#b6b6b6" stroke-width="0.4"/>
<circle cx="542.87" cy="888.16" r="1.5" fill="#c2c2c2" stroke="#b6b6b6" stroke-width="0.4"/>
<circle cx="547.31" cy="882.16" r="1.5" fill="#c2c2c2" stroke="#b6b6b6" stroke-width="0.4"/>
<circle cx="547.45" cy="868.93" r="1.5" fill="#c2c2c2" stroke="#b6b6b6" stroke-width="0.4"/>
<circle cx="549.15" cy="871.54" r="1.5" fill="#c2c2c2" stroke="#b6b6b6" stroke-width="0.4"/>
<circle cx="528.99" cy="871.91" r="1.5" fill="#c2c2c2" stroke="#b6b6b6" stroke-width="0.4"/>
<circle cx="531.99" cy="881.04" r="1.5" fill="#c2c2c2" stroke="#b6b6b6" stroke-width="0.4"/>
<circle cx="535.14" cy="875.72" r="1.5" fill="#c2c2c2" stroke="#b6b6b6" stroke-width="0.4"/>
<circle cx="534.07" cy="871.72" r="1.5" fill="#c2c2c2" stroke="#b6b6b6" stroke-width="0.4"/>
<circle cx="538.87" cy="885.9" r="1.5" fill="#c2c2c2" stroke="#b6b6b6" stroke-width="0.4"/>
<circle cx="555.78" cy="862.89" r="1.5" fill="#c2c2c2" stroke="#b6b6b6" stroke-width="0.4"/>
<circle cx="542.95" cy="888.34" r="1.5" fill="#c2c2c2" stroke="#b6b6b6" stroke-width="0.4"/>
<circle cx="534.07" cy="876.16" r="1.5" fill="#c2c2c2" stroke="#b6b6b6" stroke-width="0.4"/>
<circle cx="544.19" cy="870.69" r="1.5" fill="#c2c2c2" stroke="#b6b6b6" stroke-width="0.4"/>
<circle cx="531.9" cy="878.46" r="1.5" fill="#c2c2c2" stroke="#b6b6b6" stroke-width="0.4"/>
<circle cx="565.63" cy="811.61" r="1.5" fill="#c2c2c2" stroke="#b6b6b6" stroke-width="0.4"/>
<circle cx="562.56" cy="788.5" r="1.5" fill="#c2c2c2" stroke="#b6b6b6" stroke-width="0.4"/>
<circle cx="564.13" cy="831.54" r="1.5" fill="#c2c2c2" stroke="#b6b6b6" stroke-width="0.4"/>
<circle cx="535.1" cy="885.51" r="1.5" fill="#c2c2c2" stroke="#b6b6b6" stroke-width="0.4"/>
<circle cx="534.37" cy="875.02" r="1.5" fill="#c2c2c2" stroke="#b6b6b6" stroke-width="0.4"/>
<circle cx="550.42" cy="830.21" r="1.5" fill="#c2c2c2" stroke="#b6b6b6" stroke-width="0.4"/>
<circle cx="538.48" cy="881.69" r="1.5" fill="#c2c2c2" stroke="#b6b6b6" stroke-width="0.4"/>
<circle cx="555.1" cy="842.57" r="1.5" fill="#c2c2c2" stroke="#b6b6b6" stroke-width="0.4"/>
<circle cx="536.9" cy="883.04" r="1.5" fill="#c2c2c2" stroke="#b6b6b6" stroke-width="0.4"/>
<circle cx="567.11" cy="823.88" r="1.5" fill="#c2c2c2" stroke="#b6b6b6" stroke-width="0.4"/>
<circle cx="511.31" cy="836.29" r="1.5" fill="#c2c2c2" stroke="#b6b6b6" stroke-width="0.4"/>
<circle cx="518.61" cy="805.63" r="1.5" fill="#c2c2c2" stroke="#b6b6b6" stroke-width="0.4"/>
<circle cx="569.68" cy="835.18" r="1.5" fill="#c2c2c2" stroke="#b6b6b6" stroke-width="0.4"/>
<circle cx="501.49" cy="812.51" r="1.5" fill="#c2c2c2" stroke="#b6b6b6" stroke-width="0.4"/>
<circle cx="549.16" cy="857.23" r="1.5" fill="#c2c2c2" stroke="#b6b6b6" stroke-width="0.4"/>
<circle cx="575.47" cy="836.89" r="1.5" fill="#c2c2c2" stroke="#b6b6b6" stroke-width="0.4"/>
<circle cx="553.98" cy="852.87" r="1.5" fill="#c2c2c2" stroke="#b6b6b6" stroke-width="0.4"/>
<circle cx="531.16" cy="837.72" r="1.5" fill="#c2c2c2" stroke="#b6b6b6" stroke-width="0.4"/>
<circle cx="559.43" cy="851.87" r="1.5" fill="#c2c2c2" stroke="#b6b6b6" stroke-width="0.4"/>
<circle cx="522.49" cy="831.09" r="1.5" fill="#c2c2c2" stroke="#b6b6b6" stroke-width="0.4"/>
<circle cx="557.2" cy="854.91" r="1.5" fill="#c2c2c2" stroke="#b6b6b6" stroke-width="0.4"/>
<circle cx="539.03" cy="886.19" r="1.5" fill="#c2c2c2" stroke="#b6b6b6" stroke-width="0.4"/>
<circle cx="524.16" cy="873.26" r="1.5" fill="#c2c2c2" stroke="#b6b6b6" stroke-width="0.4"/>
<circle cx="525.88" cy="849.94" r="1.5" fill="#c2c2c2" stroke="#b6b6b6" stroke-width="0.4"/>
<circle cx="534.53" cy="881.11" r="1.5" fill="#c2c2c2" stroke="#b6b6b6" stroke-width="0.4"/>
<circle cx="506.48" cy="774.99" r="1.5" fill="#c2c2c2" stroke="#b6b6b6" stroke-width="0.4"/>
<circle cx="552.71" cy="879.66" r="1.5" fill="#c2c2c2" stroke="#b6b6b6" stroke-width="0.4"/>
<circle cx="537.16" cy="874.82" r="1.5" fill="#c2c2c2" stroke="#b6b6b6" stroke-width="0.4"/>
<circle cx="560.21" cy="861.74" r="1.5" fill="#c2c2c2" stroke="#b6b6b6" stroke-width="0.4"/>
<circle cx="575.47" cy="827.04" r="1.5" fill="#c2c2c2" stroke="#b6b6b6" stroke-width="0.4"/>
<circle cx="502.63" cy="791.08" r="1.5" fill="#c2c2c2" stroke="#b6b6b6" stroke-width="0.4"/>
<circle cx="548.82" cy="878.27" r="1.5" fill="#c2c2c2" stroke="#b6b6b6" stroke-width="0.4"/>
<circle cx="551.34" cy="834.92" r="1.5" fill="#c2c2c2" stroke="#b6b6b6" stroke-width="0.4"/>
<circle cx="556.01" cy="817.47" r="1.5" fill="#c2c2c2" stroke="#b6b6b6" stroke-width="0.4"/>
<circle cx="574.11" cy="795.41" r="1.5" fill="#c2c2c2" stroke="#b6b6b6" stroke-width="0.4"/>
<circle cx="536.68" cy="882.94" r="1.5" fill="#c2c2c2" stroke="#b6b6b6" stroke-width="0.4"/>
<circle cx="553.59" cy="850.2" r="1.5" fill="#c2c2c2" stroke="#b6b6b6" stroke-width="0.4"/>
<circle cx="540.16" cy="888.7" r="1.5" fill="#c2c2c2" stroke="#b6b6b6" stroke-width="0.4"/>
<circle cx="526.24" cy="861.12" r="1.5" fill="#c2c2c2" stroke="#b6b6b6" stroke-width="0.4"/>
<circle cx="535.33" cy="878.25" r="1.5" fill="#c2c2c2" stroke="#b6b6b6" stroke-width="0.4"/>
<circle cx="569.23" cy="804.06" r="1.5" fill="#c2c2c2" stroke="#b6b6b6" stroke-width="0.4"/>
<circle cx="545.79" cy="875" r="1.5" fill="#c2c2c2" stroke="#b6b6b6" stroke-width="0.4"/>
<circle cx="536.38" cy="884.44" r="1.5" fill="#c2c2c2" stroke="#b6b6b6" stroke-width="0.4"/>
<circle cx="535.92" cy="876.89" r="1.5" fill="#c2c2c2" stroke="#b6b6b6" stroke-width="0.4"/>
<circle cx="541.77" cy="887.37" r="1.5" fill="#c2c2c2" stroke="#b6b6b6" stroke-width="0.4"/>
<circle cx="524.68" cy="853.02" r="1.5" fill="#c2c2c2" stroke="#b6b6b6" stroke-width="0.4"/>
<circle cx="559.74" cy="850.88" r="1.5" fill="#c2c2c2" stroke="#b6b6b6" stroke-width="0.4"/>
<circle cx="549.7" cy="875.92" r="1.5" fill="#c2c2c2" stroke="#b6b6b6" stroke-width="0.4"/>
<circle cx="539.13" cy="885.81" r="1.5" fill="#c2c2c2" stroke="#b6b6b6" stroke-width="0.4"/>
<circle cx="533.78" cy="873.74" r="1.5" fill="#c2c2c2" stroke="#b6b6b6" stroke-width="0.4"/>
<circle cx="543.82" cy="883.01" r="1.5" fill="#c2c2c2" stroke="#b6b6b6" stroke-width="0.4"/>
<circle cx="502.95" cy="759.9" r="1.5" fill="#c2c2c2" stroke="#b6b6b6" stroke-width="0.4"/>
<circle cx="542.66" cy="888.91" r="1.5" fill="#c2c2c2" stroke="#b6b6b6" stroke-width="0.4"/>
<circle cx="565.6" cy="837.59" r="1.5" fill="#c2c2c2" stroke="#b6b6b6" stroke-width="0.4"/>
<circle cx="519.87" cy="861.93" r="1.5" fill="#c2c2c2" stroke="#b6b6b6" stroke-width="0.4"/>
<circle cx="520.19" cy="849.7" r="1.5" fill="#c2c2c2" stroke="#b6b6b6" stroke-width="0.4"/>
<circle cx="533.12" cy="870.42" r="1.5" fill="#c2c2c2" stroke="#b6b6b6" stroke-width="0.4"/>
<circle cx="546.72" cy="877.68" r="1.5" fill="#c2c2c2" stroke="#b6b6b6" stroke-width="0.4"/>
<circle cx="538.7" cy="885.08" r="1.5" fill="#c2c2c2" stroke="#b6b6b6" stroke-width="0.4"/>
<circle cx="552.2" cy="857.3" r="1.5" fill="#c2c2c2" stroke="#b6b6b6" stroke-width="0.4"/>
<circle cx="550.5" cy="867.95" r="1.5" fill="#c2c2c2" stroke="#b6b6b6" stroke-width="0.4"/>
<circle cx="549.98" cy="865.94" r="1.5" fill="#c2c2c2" stroke="#b6b6b6" stroke-width="0.4"/>
<circle cx="556.96" cy="833.05" r="1.5" fill="#c2c2c2" stroke="#b6b6b6" stroke-width="0.4"/>
<circle cx="552.05" cy="859.54" r="1.5" fill="#c2c2c2" stroke="#b6b6b6" stroke-width="0.4"/>
<circle cx="534.17" cy="866.95" r="1.5" fill="#c2c2c2" stroke="#b6b6b6" stroke-width="0.4"/>
<circle cx="529.19" cy="761.02" r="1.5" fill="#c2c2c2" stroke="#b6b6b6" stroke-width="0.4"/>
<circle cx="533.61" cy="867.82" r="1.5" fill="#c2c2c2" stroke="#b6b6b6" stroke-width="0.4"/>
<circle cx="558.62" cy="809.55" r="1.5" fill="#c2c2c2" stroke="#b6b6b6" stroke-width="0.4"/>
<circle cx="565.87" cy="822.64" r="1.5" fill="#c2c2c2" stroke="#b6b6b6" stroke-width="0.4"/>
<circle cx="542.74" cy="884.18" r="1.5" fill="#c2c2c2" stroke="#b6b6b6" stroke-width="0.4"/>
<circle cx="516.6" cy="814.96" r="1.5" fill="#c2c2c2" stroke="#b6b6b6" stroke-width="0.4"/>
<circle cx="531.86" cy="872.38" r="1.5" fill="#c2c2c2" stroke="#b6b6b6" stroke-width="0.4"/>
<circle cx="562.8" cy="862.03" r="1.5" fill="#c2c2c2" stroke="#b6b6b6" stroke-width="0.4"/>
<circle cx="562.27" cy="845.68" r="1.5" fill="#c2c2c2" stroke="#b6b6b6" stroke-width="0.4"/>
<circle cx="544.43" cy="886.92" r="1.5" fill="#c2c2c2" stroke="#b6b6b6" stroke-width="0.4"/>
<circle cx="569.94" cy="830.45" r="1.5" fill="#c2c2c2" stroke="#b6b6b6" stroke-width="0.4"/>
<circle cx="568.61" cy="817.15" r="1.5" fill="#c2c2c2" stroke="#b6b6b6" stroke-width="0.4"/>
<circle cx="554.53" cy="840.33" r="1.5" fill="#c2c2c2" stroke="#b6b6b6" stroke-width="0.4"/>
<circle cx="567.13" cy="814.19" r="1.5" fill="#c2c2c2" stroke="#b6b6b6" stroke-width="0.4"/>
<circle cx="537.75" cy="883.41" r="1.5" fill="#c2c2c2" stroke="#b6b6b6" stroke-width="0.4"/>
<circle cx="552.49" cy="867.26" r="1.5" fill="#c2c2c2" stroke="#b6b6b6" stroke-width="0.4"/>
<circle cx="536.78" cy="877.99" r="1.5" fill="#c2c2c2" stroke="#b6b6b6" stroke-width="0.4"/>
<circle cx="497.02" cy="776.39" r="1.5" fill="#c2c2c2" stroke="#b6b6b6" stroke-width="0.4"/>
<circle cx="528.8" cy="844.69" r="1.5" fill="#c2c2c2" stroke="#b6b6b6" stroke-width="0.4"/>
<circle cx="572.72" cy="784.44" r="1.5" fill="#c2c2c2" stroke="#b6b6b6" stroke-width="0.4"/>
<circle cx="539.36" cy="886.54" r="1.5" fill="#c2c2c2" stroke="#b6b6b6" stroke-width="0.4"/>
<circle cx="548.15" cy="884.63" r="1.5" fill="#c2c2c2" stroke="#b6b6b6" stroke-width="0.4"/>
<circle cx="545.05" cy="883.37" r="1.5" fill="#c2c2c2" stroke="#b6b6b6" stroke-width="0.4"/>
<circle cx="546.19" cy="869.7" r="1.5" fill="#c2c2c2" stroke="#b6b6b6" stroke-width="0.4"/>
<circle cx="568.02" cy="812.13" r="1.5" fill="#c2c2c2" stroke="#b6b6b6" stroke-width="0.4"/>
<circle cx="558.8" cy="851.89" r="1.5" fill="#c2c2c2" stroke="#b6b6b6" stroke-width="0.4"/>
<circle cx="511.08" cy="847.36" r="1.5" fill="#c2c2c2" stroke="#b6b6b6" stroke-width="0.4"/>
<circle cx="534.3" cy="875.91" r="1.5" fill="#c2c2c2" stroke="#b6b6b6" stroke-width="0.4"/>
<circle cx="526.85" cy="865.5" r="1.5" fill="#c2c2c2" stroke="#b6b6b6" stroke-width="0.4"/>
<circle cx="537.27" cy="859.19" r="1.5" fill="#c2c2c2" stroke="#b6b6b6" stroke-width="0.4"/>
<circle cx="558.33" cy="858.38" r="1.5" fill="#c2c2c2" stroke="#b6b6b6" stroke-width="0.4"/>
<circle cx="538.48" cy="875.34" r="1.5" fill="#c2c2c2" stroke="#b6b6b6" stroke-width="0.4"/>
<circle cx="554.88" cy="861.95" r="1.5" fill="#c2c2c2" stroke="#b6b6b6" stroke-width="0.4"/>
<circle cx="515.02" cy="847.05" r="1.5" fill="#c2c2c2" stroke="#b6b6b6" stroke-width="0.4"/>
<circle cx="543.44" cy="871.66" r="1.5" fill="#c2c2c2" stroke="#b6b6b6" stroke-width="0.4"/>
<circle cx="522.9" cy="845.72" r="1.5" fill="#c2c2c2" stroke="#b6b6b6" stroke-width="0.4"/>
<circle cx="537.5" cy="885.11" r="1.5" fill="#c2c2c2" stroke="#b6b6b6" stroke-width="0.4"/>
<circle cx="535.57" cy="881.28" r="1.5" fill="#c2c2c2" stroke="#b6b6b6" stroke-width="0.4"/>
<circle cx="533.15" cy="877.61" r="1.5" fill="#c2c2c2" stroke="#b6b6b6" stroke-width="0.4"/>
<circle cx="538.37" cy="880.35" r="1.5" fill="#c2c2c2" stroke="#b6b6b6" stroke-width="0.4"/>
<circle cx="546.27" cy="881.89" r="1.5" fill="#c2c2c2" stroke="#b6b6b6" stroke-width="0.4"/>
<circle cx="509.88" cy="779.53" r="1.5" fill="#c2c2c2" stroke="#b6b6b6" stroke-width="0.4"/>
<circle cx="519.39" cy="799.67" r="1.5" fill="#c2c2c2" stroke="#b6b6b6" stroke-width="0.4"/>
<circle cx="526.06" cy="856" r="1.5" fill="#c2c2c2" stroke="#b6b6b6" stroke-width="0.4"/>
<circle cx="550.74" cy="867.13" r="1.5" fill="#c2c2c2" stroke="#b6b6b6" stroke-width="0.4"/>
<circle cx="558.14" cy="820.98" r="1.5" fill="#c2c2c2" stroke="#b6b6b6" stroke-width="0.4"/>
<circle cx="546.01" cy="881.68" r="1.5" fill="#c2c2c2" stroke="#b6b6b6" stroke-width="0.4"/>
<circle cx="542.13" cy="887.88" r="1.5" fill="#c2c2c2" stroke="#b6b6b6" stroke-width="0.4"/>
<circle cx="556.55" cy="866.42" r="1.5" fill="#c2c2c2" stroke="#b6b6b6" stroke-width="0.4"/>
<circle cx="584.2" cy="803.84" r="1.5" fill="#c2c2c2" stroke="#b6b6b6" stroke-width="0.4"/>
<circle cx="544.45" cy="883.04" r="1.5" fill="#c2c2c2" stroke="#b6b6b6" stroke-width="0.4"/>
<circle cx="525.09" cy="831.09" r="1.5" fill="#c2c2c2" stroke="#b6b6b6" stroke-width="0.4"/>
<circle cx="554.22" cy="849.71" r="1.5" fill="#c2c2c2" stroke="#b6b6b6" stroke-width="0.4"/>
<circle cx="565.38" cy="819.2" r="1.5" fill="#c2c2c2" stroke="#b6b6b6" stroke-width="0.4"/>
<circle cx="510.91" cy="835.64" r="1.5" fill="#c2c2c2" stroke="#b6b6b6" stroke-width="0.4"/>
<circle cx="519" cy="858.86" r="1.5" fill="#c2c2c2" stroke="#b6b6b6" stroke-width="0.4"/>
<circle cx="547.31" cy="870.03" r="1.5" fill="#c2c2c2" stroke="#b6b6b6" stroke-width="0.4"/>
<circle cx="542.14" cy="889.2" r="1.5" fill="#c2c2c2" stroke="#b6b6b6" stroke-width="0.4"/>
<circle cx="548.68" cy="861.1" r="1.5" fill="#c2c2c2" stroke="#b6b6b6" stroke-width="0.4"/>
<circle cx="529.44" cy="858.46" r="1.5" fill="#c2c2c2" stroke="#b6b6b6" stroke-width="0.4"/>
<circle cx="520.29" cy="841.75" r="1.5" fill="#c2c2c2" stroke="#b6b6b6" stroke-width="0.4"/>
<circle cx="569.85" cy="777.36" r="1.5" fill="#c2c2c2" stroke="#b6b6b6" stroke-width="0.4"/>
<circle cx="516.5" cy="830.51" r="1.5" fill="#c2c2c2" stroke="#b6b6b6" stroke-width="0.4"/>
<circle cx="514.26" cy="838.95" r="1.5" fill="#c2c2c2" stroke="#b6b6b6" stroke-width="0.4"/>
<circle cx="563.99" cy="814.38" r="1.5" fill="#c2c2c2" stroke="#b6b6b6" stroke-width="0.4"/>
<circle cx="544.87" cy="878.39" r="1.5" fill="#c2c2c2" stroke="#b6b6b6" stroke-width="0.4"/>
<circle cx="536.09" cy="862.47" r="1.5" fill="#c2c2c2" stroke="#b6b6b6" stroke-width="0.4"/>
<circle cx="505.63" cy="765.91" r="1.5" fill="#c2c2c2" stroke="#b6b6b6" stroke-width="0.4"/>
<circle cx="553.66" cy="853.4" r="1.5" fill="#c2c2c2" stroke="#b6b6b6" stroke-width="0.4"/>
<circle cx="563.94" cy="826.93" r="1.5" fill="#c2c2c2" stroke="#b6b6b6" stroke-width="0.4"/>
<circle cx="560.81" cy="828.02" r="1.5" fill="#c2c2c2" stroke="#b6b6b6" stroke-width="0.4"/>
<circle cx="570.21" cy="833.1" r="1.5" fill="#c2c2c2" stroke="#b6b6b6" stroke-width="0.4"/>
<circle cx="562.66" cy="834.04" r="1.5" fill="#c2c2c2" stroke="#b6b6b6" stroke-width="0.4"/>
<circle cx="512.15" cy="810.76" r="1.5" fill="#c2c2c2" stroke="#b6b6b6" stroke-width="0.4"/>
<circle cx="528.09" cy="843.72" r="1.5" fill="#c2c2c2" stroke="#b6b6b6" stroke-width="0.4"/>
<circle cx="518.89" cy="835.49" r="1.5" fill="#c2c2c2" stroke="#b6b6b6" stroke-width="0.4"/>
<circle cx="548.19" cy="878.28" r="1.5" fill="#c2c2c2" stroke="#b6b6b6" stroke-width="0.4"/>
<circle cx="572.06" cy="854.85" r="1.5" fill="#c2c2c2" stroke="#b6b6b6" stroke-width="0.4"/>
<circle cx="542.26" cy="888.32" r="1.5" fill="#c2c2c2" stroke="#b6b6b6" stroke-width="0.4"/>
<circle cx="565" cy="830.48" r="1.5" fill="#c2c2c2" stroke="#b6b6b6" stroke-width="0.4"/>
<circle cx="561.77" cy="817.21" r="1.5" fill="#c2c2c2" stroke="#b6b6b6" stroke-width="0.4"/>
<circle cx="547.27" cy="875.34" r="1.5" fill="#c2c2c2" stroke="#b6b6b6" stroke-width="0.4"/>
<circle cx="501.85" cy="817.66" r="1.5" fill="#c2c2c2" stroke="#b6b6b6" stroke-width="0.4"/>
<circle cx="579.53" cy="781.81" r="1.5" fill="#c2c2c2" stroke="#b6b6b6" stroke-width="0.4"/>
<circle cx="561.38" cy="846.68" r="1.5" fill="#c2c2c2" stroke="#b6b6b6" stroke-width="0.4"/>
<circle cx="543.34" cy="884.85" r="1.5" fill="#c2c2c2" stroke="#b6b6b6" stroke-width="0.4"/>
<circle cx="535.16" cy="862.71" r="1.5" fill="#c2c2c2" stroke="#b6b6b6" stroke-width="0.4"/>
<circle cx="537.69" cy="879.64" r="1.5" fill="#c2c2c2" stroke="#b6b6b6" stroke-width="0.4"/>
<circle cx="561.51" cy="821.15" r="1.5" fill="#c2c2c2" stroke="#b6b6b6" stroke-width="0.4"/>
<circle cx="557.15" cy="821.98" r="1.5" fill="#c2c2c2" stroke="#b6b6b6" stroke-width="0.4"/>
<circle cx="554.07" cy="860.39" r="1.5" fill="#c2c2c2" stroke="#b6b6b6" stroke-width="0.4"/>
<circle cx="553.31" cy="876.72" r="1.5" fill="#c2c2c2" stroke="#b6b6b6" stroke-width="0.4"/>
<circle cx="557.74" cy="866.85" r="1.5" fill="#c2c2c2" stroke="#b6b6b6" stroke-width="0.4"/>
<circle cx="531.52" cy="860.6" r="1.5" fill="#c2c2c2" stroke="#b6b6b6" stroke-width="0.4"/>
<circle cx="543.88" cy="880.17" r="1.5" fill="#c2c2c2" stroke="#b6b6b6" stroke-width="0.4"/>
<circle cx="549.45" cy="847.08" r="1.5" fill="#c2c2c2" stroke="#b6b6b6" stroke-width="0.4"/>
<circle cx="530.29" cy="861.86" r="1.5" fill="#c2c2c2" stroke="#b6b6b6" stroke-width="0.4"/>
<circle cx="539.59" cy="885.28" r="1.5" fill="#c2c2c2" stroke="#b6b6b6" stroke-width="0.4"/>
<circle cx="521.36" cy="832.11" r="1.5" fill="#c2c2c2" stroke="#b6b6b6" stroke-width="0.4"/>
<circle cx="556.99" cy="848.69" r="1.5" fill="#c2c2c2" stroke="#b6b6b6" stroke-width="0.4"/>
<circle cx="534.66" cy="871.34" r="1.5" fill="#c2c2c2" stroke="#b6b6b6" stroke-width="0.4"/>
<circle cx="544.05" cy="871.68" r="1.5" fill="#c2c2c2" stroke="#b6b6b6" stroke-width="0.4"/>
<circle cx="535.77" cy="882.7" r="1.5" fill="#c2c2c2" stroke="#b6b6b6" stroke-width="0.4"/>
<circle cx="574.9" cy="850.63" r="1.5" fill="#c2c2c2" stroke="#b6b6b6" stroke-width="0.4"/>
<circle cx="550.45" cy="870.15" r="1.5" fill="#c2c2c2" stroke="#b6b6b6" stroke-width="0.4"/>
<circle cx="537.05" cy="872.02" r="1.5" fill="#c2c2c2" stroke="#b6b6b6" stroke-width="0.4"/>
<circle cx="547.11" cy="869.68" r="1.5" fill="#c2c2c2" stroke="#b6b6b6" stroke-width="0.4"/>
<circle cx="543.3" cy="886.78" r="1.5" fill="#c2c2c2" stroke="#b6b6b6" stroke-width="0.4"/>
<circle cx="544.68" cy="882.45" r="1.5" fill="#c2c2c2" stroke="#b6b6b6" stroke-width="0.4"/>
<circle cx="529.53" cy="863.53" r="1.5" fill="#c2c2c2" stroke="#b6b6b6" stroke-width="0.4"/>
<circle cx="566.5" cy="836.19" r="1.5" fill="#c2c2c2" stroke="#b6b6b6" stroke-width="0.4"/>
<circle cx="539.22" cy="884.66" r="1.5" fill="#c2c2c2" stroke="#b6b6b6" stroke-width="0.4"/>
<circle cx="531.05" cy="845.64" r="1.5" fill="#c2c2c2" stroke="#b6b6b6" stroke-width="0.4"/>
<circle cx="532.38" cy="863.3" r="1.5" fill="#c2c2c2" stroke="#b6b6b6" stroke-width="0.4"/>
<circle cx="554.35" cy="870.56" r="1.5" fill="#c2c2c2" stroke="#b6b6b6" stroke-width="0.4"/>
<circle cx="534.51" cy="870.1" r="1.5" fill="#c2c2c2" stroke="#b6b6b6" stroke-width="0.4"/>
<circle cx="534.25" cy="880.27" r="1.5" fill="#c2c2c2" stroke="#b6b6b6" stroke-width="0.4"/>
<circle cx="551.48" cy="841.11" r="1.5" fill="#c2c2c2" stroke="#b6b6b6" stroke-width="0.4"/>
<circle cx="571.8" cy="768.91" r="1.5" fill="#c2c2c2" stroke="#b6b6b6" stroke-width="0.4"/>
<circle cx="544.92" cy="887.53" r="1.5" fill="#c2c2c2" stroke="#b6b6b6" stroke-width="0.4"/>
<circle cx="545.87" cy="880.09" r="1.5" fill="#c2c2c2" stroke="#b6b6b6" stroke-width="0.4"/>
<circle cx="509.34" cy="840.98" r="1.5" fill="#c2c2c2" stroke="#b6b6b6" stroke-width="0.4"/>
<circle cx="556.94" cy="793.3" r="1.5" fill="#c2c2c2" stroke="#b6b6b6" stroke-width="0.4"/>
<circle cx="538.38" cy="878.21" r="1.5" fill="#c2c2c2" stroke="#b6b6b6" stroke-width="0.4"/>
<circle cx="526.35" cy="876.2" r="1.5" fill="#c2c2c2" stroke="#b6b6b6" stroke-width="0.4"/>
<circle cx="544.06" cy="886.29" r="1.5" fill="#c2c2c2" stroke="#b6b6b6" stroke-width="0.4"/>
<circle cx="518.8" cy="830.38" r="1.5" fill="#c2c2c2" stroke="#b6b6b6" stroke-width="0.4"/>
<circle cx="565.89" cy="836.26" r="1.5" fill="#c2c2c2" stroke="#b6b6b6" stroke-width="0.4"/>
<circle cx="543.15" cy="880.55" r="1.5" fill="#c2c2c2" stroke="#b6b6b6" stroke-width="0.4"/>
<circle cx="564.64" cy="790.62" r="1.5" fill="#c2c2c2" stroke="#b6b6b6" stroke-width="0.4"/>
<circle cx="537.57" cy="884.48" r="1.5" fill="#c2c2c2" stroke="#b6b6b6" stroke-width="0.4"/>
<circle cx="561.25" cy="789.9" r="1.5" fill="#c2c2c2" stroke="#b6b6b6" stroke-width="0.4"/>
<circle cx="526.53" cy="843.43" r="1.5" fill="#c2c2c2" stroke="#b6b6b6" stroke-width="0.4"/>
<circle cx="542.78" cy="888.54" r="1.5" fill="#c2c2c2" stroke="#b6b6b6" stroke-width="0.4"/>
<circle cx="513.04" cy="848.7" r="1.5" fill="#c2c2c2" stroke="#b6b6b6" stroke-width="0.4"/>
<circle cx="520.86" cy="839" r="1.5" fill="#c2c2c2" stroke="#b6b6b6" stroke-width="0.4"/>
<circle cx="525.05" cy="811.53" r="1.5" fill="#c2c2c2" stroke="#b6b6b6" stroke-width="0.4"/>
<circle cx="536.2" cy="879.92" r="1.5" fill="#c2c2c2" stroke="#b6b6b6" stroke-width="0.4"/>
<circle cx="552.92" cy="867.32" r="1.5" fill="#c2c2c2" stroke="#b6b6b6" stroke-width="0.4"/>
<circle cx="577.93" cy="811.27" r="1.5" fill="#c2c2c2" stroke="#b6b6b6" stroke-width="0.4"/>
<circle cx="573.73" cy="847.93" r="1.5" fill="#c2c2c2" stroke="#b6b6b6" stroke-width="0.4"/>
<circle cx="536.26" cy="880.98" r="1.5" fill="#c2c2c2" stroke="#b6b6b6" stroke-width="0.4"/>
<circle cx="543.44" cy="886.36" r="1.5" fill="#c2c2c2" stroke="#b6b6b6" stroke-width="0.4"/>
<circle cx="545.24" cy="887.63" r="1.5" fill="#c2c2c2" stroke="#b6b6b6" stroke-width="0.4"/>
<circle cx="573.79" cy="834.3" r="1.5" fill="#c2c2c2" stroke="#b6b6b6" stroke-width="0.4"/>
<circle cx="557.82" cy="863.27" r="1.5" fill="#c2c2c2" stroke="#b6b6b6" stroke-width="0.4"/>
<circle cx="556.07" cy="868.91" r="1.5" fill="#c2c2c2" stroke="#b6b6b6" stroke-width="0.4"/>
<circle cx="538.08" cy="886.51" r="1.5" fill="#c2c2c2" stroke="#b6b6b6" stroke-width="0.4"/>
<circle cx="536.99" cy="880.63" r="1.5" fill="#c2c2c2" stroke="#b6b6b6" stroke-width="0.4"/>
<circle cx="547.72" cy="880.56" r="1.5" fill="#c2c2c2" stroke="#b6b6b6" stroke-width="0.4"/>
<circle cx="527.32" cy="863.33" r="1.5" fill="#c2c2c2" stroke="#b6b6b6" stroke-width="0.4"/>
<circle cx="538.69" cy="880.12" r="1.5" fill="#c2c2c2" stroke="#b6b6b6" stroke-width="0.4"/>
<circle cx="552.73" cy="879.23" r="1.5" fill="#c2c2c2" stroke="#b6b6b6" stroke-width="0.4"/>
<circle cx="548.51" cy="864.68" r="1.5" fill="#c2c2c2" stroke="#b6b6b6" stroke-width="0.4"/>
<circle cx="523.3" cy="872" r="1.5" fill="#c2c2c2" stroke="#b6b6b6" stroke-width="0.4"/>
<circle cx="550.36" cy="873.12" r="1.5" fill="#c2c2c2" stroke="#b6b6b6" stroke-width="0.4"/>
<circle cx="511.58" cy="844.12" r="1.5" fill="#c2c2c2" stroke="#b6b6b6" stroke-width="0.4"/>
<circle cx="567.55" cy="809.25" r="1.5" fill="#c2c2c2" stroke="#b6b6b6" stroke-width="0.4"/>
<circle cx="540.24" cy="888.52" r="1.5" fill="#c2c2c2" stroke="#b6b6b6" stroke-width="0.4"/>
<circle cx="560" cy="829.28" r="1.5" fill="#c2c2c2" stroke="#b6b6b6" stroke-width="0.4"/>
<circle cx="547.4" cy="880.85" r="1.5" fill="#c2c2c2" stroke="#b6b6b6" stroke-width="0.4"/>
<circle cx="512.01" cy="832.76" r="1.5" fill="#c2c2c2" stroke="#b6b6b6" stroke-width="0.4"/>
<circle cx="532.32" cy="846.88" r="1.5" fill="#c2c2c2" stroke="#b6b6b6" stroke-width="0.4"/>
<circle cx="539.94" cy="887.68" r="1.5" fill="#c2c2c2" stroke="#b6b6b6" stroke-width="0.4"/>
<circle cx="558.34" cy="815.76" r="1.5" fill="#c2c2c2" stroke="#b6b6b6" stroke-width="0.4"/>
<circle cx="553.14" cy="866.1" r="1.5" fill="#c2c2c2" stroke="#b6b6b6" stroke-width="0.4"/>
<circle cx="545.08" cy="878.36" r="1.5" fill="#c2c2c2" stroke="#b6b6b6" stroke-width="0.4"/>
<circle cx="522.92" cy="815.2" r="1.5" fill="#c2c2c2" stroke="#b6b6b6" stroke-width="0.4"/>
<circle cx="551.34" cy="847.8" r="1.5" fill="#c2c2c2" stroke="#b6b6b6" stroke-width="0.4"/>
<circle cx="528.78" cy="874.21" r="1.5" fill="#c2c2c2" stroke="#b6b6b6" stroke-width="0.4"/>
<circle cx="547.23" cy="880.08" r="1.5" fill="#c2c2c2" stroke="#b6b6b6" stroke-width="0.4"/>
<circle cx="525.82" cy="827.45" r="1.5" fill="#c2c2c2" stroke="#b6b6b6" stroke-width="0.4"/>
<circle cx="580.9" cy="822.59" r="1.5" fill="#c2c2c2" stroke="#b6b6b6" stroke-width="0.4"/>
<circle cx="518.48" cy="802.46" r="1.5" fill="#c2c2c2" stroke="#b6b6b6" stroke-width="0.4"/>
<circle cx="519.45" cy="852.42" r="1.5" fill="#c2c2c2" stroke="#b6b6b6" stroke-width="0.4"/>
<circle cx="529.09" cy="875.42" r="1.5" fill="#c2c2c2" stroke="#b6b6b6" stroke-width="0.4"/>
<circle cx="546.79" cy="886.17" r="1.5" fill="#c2c2c2" stroke="#b6b6b6" stroke-width="0.4"/>
<circle cx="536.66" cy="872.08" r="1.5" fill="#c2c2c2" stroke="#b6b6b6" stroke-width="0.4"/>
<circle cx="535.8" cy="884.17" r="1.5" fill="#c2c2c2" stroke="#b6b6b6" stroke-width="0.4"/>
<circle cx="517.32" cy="819.75" r="1.5" fill="#c2c2c2" stroke="#b6b6b6" stroke-width="0.4"/>
<circle cx="536.36" cy="870.92" r="1.5" fill="#c2c2c2" stroke="#b6b6b6" stroke-width="0.4"/>
<circle cx="543.43" cy="886.13" r="1.5" fill="#c2c2c2" stroke="#b6b6b6" stroke-width="0.4"/>
<circle cx="544.57" cy="876.95" r="1.5" fill="#c2c2c2" stroke="#b6b6b6" stroke-width="0.4"/>
<circle cx="552.39" cy="875.73" r="1.5" fill="#c2c2c2" stroke="#b6b6b6" stroke-width="0.4"/>
<circle cx="562.98" cy="840.94" r="1.5" fill="#c2c2c2" stroke="#b6b6b6" stroke-width="0.4"/>
<circle cx="567.97" cy="821.58" r="1.5" fill="#c2c2c2" stroke="#b6b6b6" stroke-width="0.4"/>
<circle cx="524.7" cy="843.68" r="1.5" fill="#c2c2c2" stroke="#b6b6b6" stroke-width="0.4"/>
<circle cx="557.03" cy="849.55" r="1.5" fill="#c2c2c2" stroke="#b6b6b6" stroke-width="0.4"/>
<circle cx="512.03" cy="802.38" r="1.5" fill="#c2c2c2" stroke="#b6b6b6" stroke-width="0.4"/>
<circle cx="535.76" cy="875.25" r="1.5" fill="#c2c2c2" stroke="#b6b6b6" stroke-width="0.4"/>
<circle cx="560.36" cy="855.02" r="1.5" fill="#c2c2c2" stroke="#b6b6b6" stroke-width="0.4"/>
<circle cx="537.83" cy="887.39" r="1.5" fill="#c2c2c2" stroke="#b6b6b6" stroke-width="0.4"/>
<circle cx="521.58" cy="863.82" r="1.5" fill="#c2c2c2" stroke="#b6b6b6" stroke-width="0.4"/>
<circle cx="572.93" cy="837.43" r="1.5" fill="#c2c2c2" stroke="#b6b6b6" stroke-width="0.4"/>
<circle cx="540.06" cy="886.53" r="1.5" fill="#c2c2c2" stroke="#b6b6b6" stroke-width="0.4"/>
<circle cx="551.55" cy="863.7" r="1.5" fill="#c2c2c2" stroke="#b6b6b6" stroke-width="0.4"/>
<circle cx="517.42" cy="812.31" r="1.5" fill="#c2c2c2" stroke="#b6b6b6" stroke-width="0.4"/>
<circle cx="572.67" cy="852.16" r="1.5" fill="#c2c2c2" stroke="#b6b6b6" stroke-width="0.4"/>
<circle cx="536.27" cy="882.64" r="1.5" fill="#c2c2c2" stroke="#b6b6b6" stroke-width="0.4"/>
<circle cx="534.94" cy="864.75" r="1.5" fill="#c2c2c2" stroke="#b6b6b6" stroke-width="0.4"/>
<circle cx="555.91" cy="855.64" r="1.5" fill="#c2c2c2" stroke="#b6b6b6" stroke-width="0.4"/>
<circle cx="575.15" cy="851.64" r="1.5" fill="#c2c2c2" stroke="#b6b6b6" stroke-width="0.4"/>
<circle cx="525.52" cy="844.86" r="1.5" fill="#c2c2c2" stroke="#b6b6b6" stroke-width="0.4"/>
<circle cx="528.33" cy="857.63" r="1.5" fill="#c2c2c2" stroke="#b6b6b6" stroke-width="0.4"/>
<circle cx="525.87" cy="848.37" r="1.5" fill="#c2c2c2" stroke="#b6b6b6" stroke-width="0.4"/>
<circle cx="539.1" cy="886.26" r="1.5" fill="#c2c2c2" stroke="#b6b6b6" stroke-width="0.4"/>
<circle cx="536.81" cy="883.28" r="1.5" fill="#c2c2c2" stroke="#b6b6b6" stroke-width="0.4"/>
<circle cx="527.41" cy="815.52" r="1.5" fill="#c2c2c2" stroke="#b6b6b6" stroke-width="0.4"/>
<circle cx="527.64" cy="849.81" r="1.5" fill="#c2c2c2" stroke="#b6b6b6" stroke-width="0.4"/>
<circle cx="539.42" cy="885.87" r="1.5" fill="#c2c2c2" stroke="#b6b6b6" stroke-width="0.4"/>
<circle cx="547.07" cy="871.66" r="1.5" fill="#c2c2c2" stroke="#b6b6b6" stroke-width="0.4"/>
<circle cx="565.07" cy="813.93" r="1.5" fill="#c2c2c2" stroke="#b6b6b6" stroke-width="0.4"/>
<circle cx="529.56" cy="856.45" r="1.5" fill="#c2c2c2" stroke="#b6b6b6" stroke-width="0.4"/>
<circle cx="557.52" cy="851.33" r="1.5" fill="#c2c2c2" stroke="#b6b6b6" stroke-width="0.4"/>
<circle cx="559.61" cy="829.71" r="1.5" fill="#c2c2c2" stroke="#b6b6b6" stroke-width="0.4"/>
<circle cx="520.25" cy="858.91" r="1.5" fill="#c2c2c2" stroke="#b6b6b6" stroke-width="0.4"/>
<circle cx="509.62" cy="827.31" r="1.5" fill="#c2c2c2" stroke="#b6b6b6" stroke-width="0.4"/>
<circle cx="532.67" cy="875.76" r="1.5" fill="#c2c2c2" stroke="#b6b6b6" stroke-width="0.4"/>
<circle cx="528.65" cy="842.59" r="1.5" fill="#c2c2c2" stroke="#b6b6b6" stroke-width="0.4"/>
<circle cx="527.34" cy="857.81" r="1.5" fill="#c2c2c2" stroke="#b6b6b6" stroke-width="0.4"/>
<circle cx="542.56" cy="887.57" r="1.5" fill="#c2c2c2" stroke="#b6b6b6" stroke-width="0.4"/>
<circle cx="535.29" cy="874.13" r="1.5" fill="#c2c2c2" stroke="#b6b6b6" stroke-width="0.4"/>
<circle cx="495.74" cy="812.14" r="1.5" fill="#c2c2c2" stroke="#b6b6b6" stroke-width="0.4"/>
<circle cx="560.89" cy="822.81" r="1.5" fill="#c2c2c2" stroke="#b6b6b6" stroke-width="0.4"/>
<circle cx="558.04" cy="848.94" r="1.5" fill="#c2c2c2" stroke="#b6b6b6" stroke-width="0.4"/>
<circle cx="544.23" cy="883.5" r="1.5" fill="#c2c2c2" stroke="#b6b6b6" stroke-width="0.4"/>
<circle cx="560.33" cy="847.99" r="1.5" fill="#c2c2c2" stroke="#b6b6b6" stroke-width="0.4"/>
<circle cx="547.53" cy="868.36" r="1.5" fill="#c2c2c2" stroke="#b6b6b6" stroke-width="0.4"/>
<circle cx="543.54" cy="884.35" r="1.5" fill="#c2c2c2" stroke="#b6b6b6" stroke-width="0.4"/>
<circle cx="512.84" cy="818.56" r="1.5" fill="#c2c2c2" stroke="#b6b6b6" stroke-width="0.4"/>
<circle cx="532.66" cy="869.93" r="1.5" fill="#c2c2c2" stroke="#b6b6b6" stroke-width="0.4"/>
<circle cx="533.68" cy="858.41" r="1.5" fill="#c2c2c2" stroke="#b6b6b6" stroke-width="0.4"/>
<circle cx="559.27" cy="825.24" r="1.5" fill="#c2c2c2" stroke="#b6b6b6" stroke-width="0.4"/>
<circle cx="547.64" cy="880.94" r="1.5" fill="#c2c2c2" stroke="#b6b6b6" stroke-width="0.4"/>
<circle cx="534.55" cy="865.31" r="1.5" fill="#c2c2c2" stroke="#b6b6b6" stroke-width="0.4"/>
<circle cx="515.71" cy="807.79" r="1.5" fill="#c2c2c2" stroke="#b6b6b6" stroke-width="0.4"/>
<circle cx="543.95" cy="888.98" r="1.5" fill="#c2c2c2" stroke="#b6b6b6" stroke-width="0.4"/>
<circle cx="524.75" cy="847.68" r="1.5" fill="#c2c2c2" stroke="#b6b6b6" stroke-width="0.4"/>
<circle cx="509.45" cy="846.09" r="1.5" fill="#c2c2c2" stroke="#b6b6b6" stroke-width="0.4"/>
<circle cx="559.58" cy="774.38" r="1.5" fill="#c2c2c2" stroke="#b6b6b6" stroke-width="0.4"/>
<circle cx="537.32" cy="884.66" r="1.5" fill="#c2c2c2" stroke="#b6b6b6" stroke-width="0.4"/>
<circle cx="536.57" cy="880.69" r="1.5" fill="#c2c2c2" stroke="#b6b6b6" stroke-width="0.4"/>
<circle cx="523.79" cy="836.21" r="1.5" fill="#c2c2c2" stroke="#b6b6b6" stroke-width="0.4"/>
<circle cx="543.48" cy="885.6" r="1.5" fill="#c2c2c2" stroke="#b6b6b6" stroke-width="0.4"/>
<circle cx="558.27" cy="869.22" r="1.5" fill="#c2c2c2" stroke="#b6b6b6" stroke-width="0.4"/>
<circle cx="522.5" cy="820.21" r="1.5" fill="#c2c2c2" stroke="#b6b6b6" stroke-width="0.4"/>
<circle cx="535.02" cy="882.27" r="1.5" fill="#c2c2c2" stroke="#b6b6b6" stroke-width="0.4"/>
<circle cx="536.85" cy="874.48" r="1.5" fill="#c2c2c2" stroke="#b6b6b6" stroke-width="0.4"/>
<circle cx="530.57" cy="869.84" r="1.5" fill="#c2c2c2" stroke="#b6b6b6" stroke-width="0.4"/>
<circle cx="538.3" cy="882.85" r="1.5" fill="#c2c2c2" stroke="#b6b6b6" stroke-width="0.4"/>
<circle cx="521.85" cy="818.19" r="1.5" fill="#c2c2c2" stroke="#b6b6b6" stroke-width="0.4"/>
<circle cx="518.96" cy="779.58" r="1.5" fill="#c2c2c2" stroke="#b6b6b6" stroke-width="0.4"/>
<circle cx="523.9" cy="843.35" r="1.5" fill="#c2c2c2" stroke="#b6b6b6" stroke-width="0.4"/>
<circle cx="517.56" cy="858.23" r="1.5" fill="#c2c2c2" stroke="#b6b6b6" stroke-width="0.4"/>
<circle cx="556.29" cy="873.22" r="1.5" fill="#c2c2c2" stroke="#b6b6b6" stroke-width="0.4"/>
<circle cx="544.87" cy="874.17" r="1.5" fill="#c2c2c2" stroke="#b6b6b6" stroke-width="0.4"/>
<circle cx="579.11" cy="763.69" r="1.5" fill="#c2c2c2" stroke="#b6b6b6" stroke-width="0.4"/>
<circle cx="523.79" cy="864.83" r="1.5" fill="#c2c2c2" stroke="#b6b6b6" stroke-width="0.4"/>
<circle cx="553.19" cy="877.71" r="1.5" fill="#c2c2c2" stroke="#b6b6b6" stroke-width="0.4"/>
<circle cx="525.34" cy="865.78" r="1.5" fill="#c2c2c2" stroke="#b6b6b6" stroke-width="0.4"/>
<circle cx="551.1" cy="876.28" r="1.5" fill="#c2c2c2" stroke="#b6b6b6" stroke-width="0.4"/>
<circle cx="545.43" cy="883.75" r="1.5" fill="#c2c2c2" stroke="#b6b6b6" stroke-width="0.4"/>
<circle cx="516.62" cy="832.11" r="1.5" fill="#c2c2c2" stroke="#b6b6b6" stroke-width="0.4"/>
<circle cx="532.72" cy="851.15" r="1.5" fill="#c2c2c2" stroke="#b6b6b6" stroke-width="0.4"/>
<circle cx="544.75" cy="884.34" r="1.5" fill="#c2c2c2" stroke="#b6b6b6" stroke-width="0.4"/>
<circle cx="539.46" cy="886.74" r="1.5" fill="#c2c2c2" stroke="#b6b6b6" stroke-width="0.4"/>
<circle cx="538.27" cy="886.98" r="1.5" fill="#c2c2c2" stroke="#b6b6b6" stroke-width="0.4"/>
<circle cx="534.62" cy="880.31" r="1.5" fill="#c2c2c2" stroke="#b6b6b6" stroke-width="0.4"/>
<circle cx="545.62" cy="885.18" r="1.5" fill="#c2c2c2" stroke="#b6b6b6" stroke-width="0.4"/>
<circle cx="529.29" cy="844.17" r="1.5" fill="#c2c2c2" stroke="#b6b6b6" stroke-width="0.4"/>
<circle cx="536.68" cy="876.48" r="1.5" fill="#c2c2c2" stroke="#b6b6b6" stroke-width="0.4"/>
<circle cx="548.29" cy="869.06" r="1.5" fill="#c2c2c2" stroke="#b6b6b6" stroke-width="0.4"/>
<circle cx="525.65" cy="867.08" r="1.5" fill="#c2c2c2" stroke="#b6b6b6" stroke-width="0.4"/>
<circle cx="542.32" cy="884.09" r="1.5" fill="#c2c2c2" stroke="#b6b6b6" stroke-width="0.4"/>
<circle cx="536.12" cy="874.8" r="1.5" fill="#c2c2c2" stroke="#b6b6b6" stroke-width="0.4"/>
<circle cx="542.05" cy="887.41" r="1.5" fill="#c2c2c2" stroke="#b6b6b6" stroke-width="0.4"/>
<circle cx="514.07" cy="776.14" r="1.5" fill="#c2c2c2" stroke="#b6b6b6" stroke-width="0.4"/>
<circle cx="531.72" cy="853.62" r="1.5" fill="#c2c2c2" stroke="#b6b6b6" stroke-width="0.4"/>
<circle cx="542.42" cy="887.41" r="1.5" fill="#c2c2c2" stroke="#b6b6b6" stroke-width="0.4"/>
<circle cx="514.96" cy="788.94" r="1.5" fill="#c2c2c2" stroke="#b6b6b6" stroke-width="0.4"/>
<circle cx="572.21" cy="825.52" r="1.5" fill="#c2c2c2" stroke="#b6b6b6" stroke-width="0.4"/>
<circle cx="512.56" cy="819.71" r="1.5" fill="#c2c2c2" stroke="#b6b6b6" stroke-width="0.4"/>
<circle cx="533.54" cy="877.76" r="1.5" fill="#c2c2c2" stroke="#b6b6b6" stroke-width="0.4"/>
<circle cx="558.68" cy="851.49" r="1.5" fill="#c2c2c2" stroke="#b6b6b6" stroke-width="0.4"/>
<circle cx="537.18" cy="884.51" r="1.5" fill="#c2c2c2" stroke="#b6b6b6" stroke-width="0.4"/>
<circle cx="556.91" cy="857.76" r="1.5" fill="#c2c2c2" stroke="#b6b6b6" stroke-width="0.4"/>
<circle cx="538.27" cy="884.93" r="1.5" fill="#c2c2c2" stroke="#b6b6b6" stroke-width="0.4"/>
<circle cx="534.84" cy="841.99" r="1.5" fill="#c2c2c2" stroke="#b6b6b6" stroke-width="0.4"/>
<circle cx="520.07" cy="819.24" r="1.5" fill="#c2c2c2" stroke="#b6b6b6" stroke-width="0.4"/>
<circle cx="549.01" cy="879.71" r="1.5" fill="#c2c2c2" stroke="#b6b6b6" stroke-width="0.4"/>
<circle cx="519.95" cy="814.18" r="1.5" fill="#c2c2c2" stroke="#b6b6b6" stroke-width="0.4"/>
<circle cx="537.95" cy="887.44" r="1.5" fill="#c2c2c2" stroke="#b6b6b6" stroke-width="0.4"/>
<circle cx="517.88" cy="840.67" r="1.5" fill="#c2c2c2" stroke="#b6b6b6" stroke-width="0.4"/>
<circle cx="534.69" cy="868.88" r="1.5" fill="#c2c2c2" stroke="#b6b6b6" stroke-width="0.4"/>
<circle cx="551.76" cy="831.77" r="1.5" fill="#c2c2c2" stroke="#b6b6b6" stroke-width="0.4"/>
<circle cx="519.79" cy="816.43" r="1.5" fill="#c2c2c2" stroke="#b6b6b6" stroke-width="0.4"/>
<circle cx="573.49" cy="803.22" r="1.5" fill="#c2c2c2" stroke="#b6b6b6" stroke-width="0.4"/>
<circle cx="574.85" cy="806.09" r="1.5" fill="#c2c2c2" stroke="#b6b6b6" stroke-width="0.4"/>
<circle cx="536.99" cy="873.02" r="1.5" fill="#c2c2c2" stroke="#b6b6b6" stroke-width="0.4"/>
<circle cx="567.68" cy="833.79" r="1.5" fill="#c2c2c2" stroke="#b6b6b6" stroke-width="0.4"/>
<circle cx="577.55" cy="832.84" r="1.5" fill="#c2c2c2" stroke="#b6b6b6" stroke-width="0.4"/>
<circle cx="537.36" cy="881.59" r="1.5" fill="#c2c2c2" stroke="#b6b6b6" stroke-width="0.4"/>
<circle cx="550.64" cy="866.46" r="1.5" fill="#c2c2c2" stroke="#b6b6b6" stroke-width="0.4"/>
<circle cx="532.98" cy="869.88" r="1.5" fill="#c2c2c2" stroke="#b6b6b6" stroke-width="0.4"/>
<circle cx="515.48" cy="813.81" r="1.5" fill="#c2c2c2" stroke="#b6b6b6" stroke-width="0.4"/>
<circle cx="537.98" cy="882.67" r="1.5" fill="#c2c2c2" stroke="#b6b6b6" stroke-width="0.4"/>
<circle cx="543.21" cy="888.65" r="1.5" fill="#c2c2c2" stroke="#b6b6b6" stroke-width="0.4"/>
<circle cx="544.09" cy="886.32" r="1.5" fill="#c2c2c2" stroke="#b6b6b6" stroke-width="0.4"/>
<circle cx="539.38" cy="888.46" r="1.5" fill="#c2c2c2" stroke="#b6b6b6" stroke-width="0.4"/>
<circle cx="547.07" cy="882.43" r="1.5" fill="#c2c2c2" stroke="#b6b6b6" stroke-width="0.4"/>
<circle cx="532.56" cy="865.94" r="1.5" fill="#c2c2c2" stroke="#b6b6b6" stroke-width="0.4"/>
<circle cx="539.42" cy="885.08" r="1.5" fill="#c2c2c2" stroke="#b6b6b6" stroke-width="0.4"/>
<circle cx="544.59" cy="881.56" r="1.5" fill="#c2c2c2" stroke="#b6b6b6" stroke-width="0.4"/>
<circle cx="524.04" cy="861.11" r="1.5" fill="#c2c2c2" stroke="#b6b6b6" stroke-width="0.4"/>
<circle cx="547.32" cy="874.84" r="1.5" fill="#c2c2c2" stroke="#b6b6b6" stroke-width="0.4"/>
<circle cx="543.62" cy="885.27" r="1.5" fill="#c2c2c2" stroke="#b6b6b6" stroke-width="0.4"/>
<circle cx="526.92" cy="871.03" r="1.5" fill="#c2c2c2" stroke="#b6b6b6" stroke-width="0.4"/>
<circle cx="549.98" cy="880.1" r="1.5" fill="#c2c2c2" stroke="#b6b6b6" stroke-width="0.4"/>
<circle cx="521.24" cy="848.15" r="1.5" fill="#c2c2c2" stroke="#b6b6b6" stroke-width="0.4"/>
<circle cx="543.44" cy="883.85" r="1.5" fill="#c2c2c2" stroke="#b6b6b6" stroke-width="0.4"/>
<circle cx="544.09" cy="886.13" r="1.5" fill="#c2c2c2" stroke="#b6b6b6" stroke-width="0.4"/>
<circle cx="538.12" cy="882.07" r="1.5" fill="#c2c2c2" stroke="#b6b6b6" stroke-width="0.4"/>
<circle cx="539.75" cy="888.83" r="1.5" fill="#c2c2c2" stroke="#b6b6b6" stroke-width="0.4"/>
<circle cx="534.71" cy="872.65" r="1.5" fill="#c2c2c2" stroke="#b6b6b6" stroke-width="0.4"/>
<circle cx="510.3" cy="784.06" r="1.5" fill="#c2c2c2" stroke="#b6b6b6" stroke-width="0.4"/>
<circle cx="520.69" cy="779.59" r="1.5" fill="#c2c2c2" stroke="#b6b6b6" stroke-width="0.4"/>
<circle cx="552.53" cy="802.4" r="1.5" fill="#c2c2c2" stroke="#b6b6b6" stroke-width="0.4"/>
<circle cx="534.59" cy="877.07" r="1.5" fill="#c2c2c2" stroke="#b6b6b6" stroke-width="0.4"/>
<circle cx="560.17" cy="863.01" r="1.5" fill="#c2c2c2" stroke="#b6b6b6" stroke-width="0.4"/>
<circle cx="549.81" cy="875.49" r="1.5" fill="#c2c2c2" stroke="#b6b6b6" stroke-width="0.4"/>
<circle cx="551.2" cy="867.18" r="1.5" fill="#c2c2c2" stroke="#b6b6b6" stroke-width="0.4"/>
<circle cx="549.32" cy="856.99" r="1.5" fill="#c2c2c2" stroke="#b6b6b6" stroke-width="0.4"/>
<circle cx="572.41" cy="826.37" r="1.5" fill="#c2c2c2" stroke="#b6b6b6" stroke-width="0.4"/>
<circle cx="555.04" cy="878.83" r="1.5" fill="#c2c2c2" stroke="#b6b6b6" stroke-width="0.4"/>
<circle cx="516.68" cy="842.89" r="1.5" fill="#c2c2c2" stroke="#b6b6b6" stroke-width="0.4"/>
<circle cx="534.01" cy="881.49" r="1.5" fill="#c2c2c2" stroke="#b6b6b6" stroke-width="0.4"/>
<circle cx="533.39" cy="876.28" r="1.5" fill="#c2c2c2" stroke="#b6b6b6" stroke-width="0.4"/>
<circle cx="526.84" cy="868.22" r="1.5" fill="#c2c2c2" stroke="#b6b6b6" stroke-width="0.4"/>
<circle cx="534.89" cy="879.22" r="1.5" fill="#c2c2c2" stroke="#b6b6b6" stroke-width="0.4"/>
<circle cx="566.93" cy="811.98" r="1.5" fill="#c2c2c2" stroke="#b6b6b6" stroke-width="0.4"/>
<circle cx="557.71" cy="860.1" r="1.5" fill="#c2c2c2" stroke="#b6b6b6" stroke-width="0.4"/>
<circle cx="559.63" cy="860.07" r="1.5" fill="#c2c2c2" stroke="#b6b6b6" stroke-width="0.4"/>
<circle cx="554.54" cy="859.36" r="1.5" fill="#c2c2c2" stroke="#b6b6b6" stroke-width="0.4"/>
<circle cx="532.88" cy="868.27" r="1.5" fill="#c2c2c2" stroke="#b6b6b6" stroke-width="0.4"/>
<circle cx="528.31" cy="768.84" r="1.5" fill="#c2c2c2" stroke="#b6b6b6" stroke-width="0.4"/>
<circle cx="566.01" cy="842" r="1.5" fill="#c2c2c2" stroke="#b6b6b6" stroke-width="0.4"/>
<circle cx="537.23" cy="881.41" r="1.5" fill="#c2c2c2" stroke="#b6b6b6" stroke-width="0.4"/>
<circle cx="534.75" cy="877.56" r="1.5" fill="#c2c2c2" stroke="#b6b6b6" stroke-width="0.4"/>
<circle cx="542.25" cy="881.94" r="1.5" fill="#c2c2c2" stroke="#b6b6b6" stroke-width="0.4"/>
<circle cx="545.31" cy="883.39" r="1.5" fill="#c2c2c2" stroke="#b6b6b6" stroke-width="0.4"/>
<circle cx="565.49" cy="819.03" r="1.5" fill="#c2c2c2" stroke="#b6b6b6" stroke-width="0.4"/>
<circle cx="542.14" cy="888.95" r="1.5" fill="#c2c2c2" stroke="#b6b6b6" stroke-width="0.4"/>
<circle cx="537.41" cy="883.39" r="1.5" fill="#c2c2c2" stroke="#b6b6b6" stroke-width="0.4"/>
<circle cx="537.4" cy="881.3" r="1.5" fill="#c2c2c2" stroke="#b6b6b6" stroke-width="0.4"/>
<circle cx="552.78" cy="873.41" r="1.5" fill="#c2c2c2" stroke="#b6b6b6" stroke-width="0.4"/>
<circle cx="518.79" cy="793.09" r="1.5" fill="#c2c2c2" stroke="#b6b6b6" stroke-width="0.4"/>
<circle cx="532.75" cy="860.82" r="1.5" fill="#c2c2c2" stroke="#b6b6b6" stroke-width="0.4"/>
<circle cx="567.07" cy="847.53" r="1.5" fill="#c2c2c2" stroke="#b6b6b6" stroke-width="0.4"/>
<circle cx="527.04" cy="865.25" r="1.5" fill="#c2c2c2" stroke="#b6b6b6" stroke-width="0.4"/>
<circle cx="559.02" cy="842.32" r="1.5" fill="#c2c2c2" stroke="#b6b6b6" stroke-width="0.4"/>
<circle cx="532.77" cy="879.39" r="1.5" fill="#c2c2c2" stroke="#b6b6b6" stroke-width="0.4"/>
<circle cx="545.59" cy="880.87" r="1.5" fill="#c2c2c2" stroke="#b6b6b6" stroke-width="0.4"/>
<circle cx="535.39" cy="876.92" r="1.5" fill="#c2c2c2" stroke="#b6b6b6" stroke-width="0.4"/>
<circle cx="538.27" cy="882.92" r="1.5" fill="#c2c2c2" stroke="#b6b6b6" stroke-width="0.4"/>
<circle cx="563.66" cy="846.06" r="1.5" fill="#c2c2c2" stroke="#b6b6b6" stroke-width="0.4"/>
<circle cx="542.63" cy="878.75" r="1.5" fill="#c2c2c2" stroke="#b6b6b6" stroke-width="0.4"/>
<circle cx="522.55" cy="844.7" r="1.5" fill="#c2c2c2" stroke="#b6b6b6" stroke-width="0.4"/>
<circle cx="534.12" cy="873.47" r="1.5" fill="#c2c2c2" stroke="#b6b6b6" stroke-width="0.4"/>
<circle cx="536.29" cy="862.79" r="1.5" fill="#c2c2c2" stroke="#b6b6b6" stroke-width="0.4"/>
<circle cx="542.97" cy="883.18" r="1.5" fill="#c2c2c2" stroke="#b6b6b6" stroke-width="0.4"/>
<circle cx="510.49" cy="832.98" r="1.5" fill="#c2c2c2" stroke="#b6b6b6" stroke-width="0.4"/>
<circle cx="544.92" cy="883.26" r="1.5" fill="#c2c2c2" stroke="#b6b6b6" stroke-width="0.4"/>
<circle cx="561.39" cy="861.01" r="1.5" fill="#c2c2c2" stroke="#b6b6b6" stroke-width="0.4"/>
<circle cx="542.64" cy="888.3" r="1.5" fill="#c2c2c2" stroke="#b6b6b6" stroke-width="0.4"/>
<circle cx="526.68" cy="848.88" r="1.5" fill="#c2c2c2" stroke="#b6b6b6" stroke-width="0.4"/>
<circle cx="532.27" cy="864.82" r="1.5" fill="#c2c2c2" stroke="#b6b6b6" stroke-width="0.4"/>
<circle cx="544.59" cy="885.16" r="1.5" fill="#c2c2c2" stroke="#b6b6b6" stroke-width="0.4"/>
<circle cx="525.15" cy="871.05" r="1.5" fill="#c2c2c2" stroke="#b6b6b6" stroke-width="0.4"/>
<circle cx="525.08" cy="853.27" r="1.5" fill="#c2c2c2" stroke="#b6b6b6" stroke-width="0.4"/>
<circle cx="538.96" cy="884.44" r="1.5" fill="#c2c2c2" stroke="#b6b6b6" stroke-width="0.4"/>
<circle cx="530.02" cy="822.53" r="1.5" fill="#c2c2c2" stroke="#b6b6b6" stroke-width="0.4"/>
<circle cx="518.45" cy="814.53" r="1.5" fill="#c2c2c2" stroke="#b6b6b6" stroke-width="0.4"/>
<circle cx="550.64" cy="878.81" r="1.5" fill="#c2c2c2" stroke="#b6b6b6" stroke-width="0.4"/>
<circle cx="533.76" cy="874.4" r="1.5" fill="#c2c2c2" stroke="#b6b6b6" stroke-width="0.4"/>
<circle cx="530.52" cy="878.51" r="1.5" fill="#c2c2c2" stroke="#b6b6b6" stroke-width="0.4"/>
<circle cx="562.83" cy="841.4" r="1.5" fill="#c2c2c2" stroke="#b6b6b6" stroke-width="0.4"/>
<circle cx="534.77" cy="877.96" r="1.5" fill="#c2c2c2" stroke="#b6b6b6" stroke-width="0.4"/>
<circle cx="537.78" cy="880.37" r="1.5" fill="#c2c2c2" stroke="#b6b6b6" stroke-width="0.4"/>
<circle cx="552.41" cy="841.7" r="1.5" fill="#c2c2c2" stroke="#b6b6b6" stroke-width="0.4"/>
<circle cx="543.44" cy="887.3" r="1.5" fill="#c2c2c2" stroke="#b6b6b6" stroke-width="0.4"/>
<circle cx="538.38" cy="880.97" r="1.5" fill="#c2c2c2" stroke="#b6b6b6" stroke-width="0.4"/>
<circle cx="536.68" cy="876.62" r="1.5" fill="#c2c2c2" stroke="#b6b6b6" stroke-width="0.4"/>
<circle cx="563" cy="824.21" r="1.5" fill="#c2c2c2" stroke="#b6b6b6" stroke-width="0.4"/>
<circle cx="548.14" cy="860.05" r="1.5" fill="#c2c2c2" stroke="#b6b6b6" stroke-width="0.4"/>
<circle cx="499.05" cy="814.58" r="1.5" fill="#c2c2c2" stroke="#b6b6b6" stroke-width="0.4"/>
<circle cx="530.15" cy="820.31" r="1.5" fill="#c2c2c2" stroke="#b6b6b6" stroke-width="0.4"/>
<circle cx="519.97" cy="847.17" r="1.5" fill="#c2c2c2" stroke="#b6b6b6" stroke-width="0.4"/>
<circle cx="524.68" cy="817.74" r="1.5" fill="#c2c2c2" stroke="#b6b6b6" stroke-width="0.4"/>
<circle cx="525.23" cy="852.71" r="1.5" fill="#c2c2c2" stroke="#b6b6b6" stroke-width="0.4"/>
<circle cx="547.83" cy="865.64" r="1.5" fill="#c2c2c2" stroke="#b6b6b6" stroke-width="0.4"/>
<circle cx="550.8" cy="869.11" r="1.5" fill="#c2c2c2" stroke="#b6b6b6" stroke-width="0.4"/>
<circle cx="533.22" cy="866.26" r="1.5" fill="#c2c2c2" stroke="#b6b6b6" stroke-width="0.4"/>
<circle cx="550.16" cy="873.89" r="1.5" fill="#c2c2c2" stroke="#b6b6b6" stroke-width="0.4"/>
<circle cx="550.72" cy="871.85" r="1.5" fill="#c2c2c2" stroke="#b6b6b6" stroke-width="0.4"/>
<circle cx="545.1" cy="885.19" r="1.5" fill="#c2c2c2" stroke="#b6b6b6" stroke-width="0.4"/>
<circle cx="545.36" cy="880.14" r="1.5" fill="#c2c2c2" stroke="#b6b6b6" stroke-width="0.4"/>
<circle cx="536.93" cy="881.38" r="1.5" fill="#c2c2c2" stroke="#b6b6b6" stroke-width="0.4"/>
<circle cx="535.2" cy="873.61" r="1.5" fill="#c2c2c2" stroke="#b6b6b6" stroke-width="0.4"/>
<circle cx="546.27" cy="868.23" r="1.5" fill="#c2c2c2" stroke="#b6b6b6" stroke-width="0.4"/>
<circle cx="515.4" cy="772.65" r="1.5" fill="#c2c2c2" stroke="#b6b6b6" stroke-width="0.4"/>
<circle cx="564.7" cy="671.1" r="1.5" fill="#c2c2c2" stroke="#b6b6b6" stroke-width="0.4"/>
<circle cx="583.1" cy="672.8" r="1.5" fill="#c2c2c2" stroke="#b6b6b6" stroke-width="0.4"/>
<circle cx="588.3" cy="672.3" r="1.5" fill="#c2c2c2" stroke="#b6b6b6" stroke-width="0.4"/>
<circle cx="475" cy="683.4" r="1.5" fill="#c2c2c2" stroke="#b6b6b6" stroke-width="0.4"/>
<circle cx="447.9" cy="691.2" r="1.5" fill="#c2c2c2" stroke="#b6b6b6" stroke-width="0.4"/>
<circle cx="475.6" cy="695" r="1.5" fill="#c2c2c2" stroke="#b6b6b6" stroke-width="0.4"/>
<circle cx="565.8" cy="694.2" r="1.5" fill="#c2c2c2" stroke="#b6b6b6" stroke-width="0.4"/>
<circle cx="583.9" cy="696.5" r="1.5" fill="#c2c2c2" stroke="#b6b6b6" stroke-width="0.4"/>
<circle cx="585.4" cy="697.4" r="1.5" fill="#c2c2c2" stroke="#b6b6b6" stroke-width="0.4"/>
<circle cx="607.3" cy="697.7" r="1.5" fill="#c2c2c2" stroke="#b6b6b6" stroke-width="0.4"/>
<circle cx="616.1" cy="698.5" r="1.5" fill="#c2c2c2" stroke="#b6b6b6" stroke-width="0.4"/>
<circle cx="620.4" cy="700" r="1.5" fill="#c2c2c2" stroke="#b6b6b6" stroke-width="0.4"/>
<circle cx="624.5" cy="698.8" r="1.5" fill="#c2c2c2" stroke="#b6b6b6" stroke-width="0.4"/>
<circle cx="590.7" cy="703.5" r="1.5" fill="#c2c2c2" stroke="#b6b6b6" stroke-width="0.4"/>
<circle cx="572.8" cy="705.3" r="1.5" fill="#c2c2c2" stroke="#b6b6b6" stroke-width="0.4"/>
<circle cx="597.4" cy="707.6" r="1.5" fill="#c2c2c2" stroke="#b6b6b6" stroke-width="0.4"/>
<circle cx="471.5" cy="712.3" r="1.5" fill="#c2c2c2" stroke="#b6b6b6" stroke-width="0.4"/>
<circle cx="559.7" cy="709.6" r="1.5" fill="#c2c2c2" stroke="#b6b6b6" stroke-width="0.4"/>
<circle cx="562" cy="713.1" r="1.5" fill="#c2c2c2" stroke="#b6b6b6" stroke-width="0.4"/>
<circle cx="548.9" cy="713.4" r="1.5" fill="#c2c2c2" stroke="#b6b6b6" stroke-width="0.4"/>
<circle cx="485.3" cy="722.2" r="1.5" fill="#c2c2c2" stroke="#b6b6b6" stroke-width="0.4"/>
<circle cx="487.3" cy="726.3" r="1.5" fill="#c2c2c2" stroke="#b6b6b6" stroke-width="0.4"/>
<circle cx="562.6" cy="728" r="1.5" fill="#c2c2c2" stroke="#b6b6b6" stroke-width="0.4"/>
<circle cx="569.1" cy="731" r="1.5" fill="#c2c2c2" stroke="#b6b6b6" stroke-width="0.4"/>
<circle cx="580.1" cy="729.5" r="1.5" fill="#c2c2c2" stroke="#b6b6b6" stroke-width="0.4"/>
<circle cx="583.9" cy="730.1" r="1.5" fill="#c2c2c2" stroke="#b6b6b6" stroke-width="0.4"/>
<circle cx="615.8" cy="732.1" r="1.5" fill="#c2c2c2" stroke="#b6b6b6" stroke-width="0.4"/>
<circle cx="620.1" cy="730.7" r="1.5" fill="#c2c2c2" stroke="#b6b6b6" stroke-width="0.4"/>
<circle cx="575.8" cy="735.3" r="1.5" fill="#c2c2c2" stroke="#b6b6b6" stroke-width="0.4"/>
<circle cx="583.1" cy="737.4" r="1.5" fill="#c2c2c2" stroke="#b6b6b6" stroke-width="0.4"/>
<circle cx="588.9" cy="738.2" r="1.5" fill="#c2c2c2" stroke="#b6b6b6" stroke-width="0.4"/>
<circle cx="603.5" cy="739.4" r="1.5" fill="#c2c2c2" stroke="#b6b6b6" stroke-width="0.4"/>
<circle cx="608.5" cy="735" r="1.5" fill="#c2c2c2" stroke="#b6b6b6" stroke-width="0.4"/>
<circle cx="606.4" cy="741.8" r="1.5" fill="#c2c2c2" stroke="#b6b6b6" stroke-width="0.4"/>
<circle cx="469.5" cy="742.9" r="1.5" fill="#c2c2c2" stroke="#b6b6b6" stroke-width="0.4"/>
<circle cx="500.4" cy="744.4" r="1.5" fill="#c2c2c2" stroke="#b6b6b6" stroke-width="0.4"/>
<circle cx="527.3" cy="740.9" r="1.5" fill="#c2c2c2" stroke="#b6b6b6" stroke-width="0.4"/>
<circle cx="607.3" cy="746.1" r="1.5" fill="#c2c2c2" stroke="#b6b6b6" stroke-width="0.4"/>
<circle cx="573.7" cy="742.9" r="1.5" fill="#c2c2c2" stroke="#b6b6b6" stroke-width="0.4"/>
<circle cx="585.4" cy="744.1" r="1.5" fill="#c2c2c2" stroke="#b6b6b6" stroke-width="0.4"/>
<circle cx="560.6" cy="746.7" r="1.5" fill="#c2c2c2" stroke="#b6b6b6" stroke-width="0.4"/>
<circle cx="564.1" cy="744.7" r="1.5" fill="#c2c2c2" stroke="#b6b6b6" stroke-width="0.4"/>
<circle cx="628.6" cy="752" r="1.5" fill="#c2c2c2" stroke="#b6b6b6" stroke-width="0.4"/>
<circle cx="602.6" cy="753.4" r="1.5" fill="#c2c2c2" stroke="#b6b6b6" stroke-width="0.4"/>
<circle cx="608.5" cy="747.6" r="1.5" fill="#c2c2c2" stroke="#b6b6b6" stroke-width="0.4"/>
<circle cx="508" cy="753.4" r="1.5" fill="#c2c2c2" stroke="#b6b6b6" stroke-width="0.4"/>
<circle cx="453.7" cy="757.8" r="1.5" fill="#c2c2c2" stroke="#b6b6b6" stroke-width="0.4"/>
<circle cx="504.2" cy="759.3" r="1.5" fill="#c2c2c2" stroke="#b6b6b6" stroke-width="0.4"/>
<circle cx="548.6" cy="750.5" r="1.5" fill="#c2c2c2" stroke="#b6b6b6" stroke-width="0.4"/>
<circle cx="545.4" cy="755.8" r="1.5" fill="#c2c2c2" stroke="#b6b6b6" stroke-width="0.4"/>
<circle cx="575.8" cy="754.9" r="1.5" fill="#c2c2c2" stroke="#b6b6b6" stroke-width="0.4"/>
<circle cx="583.9" cy="754.3" r="1.5" fill="#c2c2c2" stroke="#b6b6b6" stroke-width="0.4"/>
<circle cx="594.2" cy="758.1" r="1.5" fill="#c2c2c2" stroke="#b6b6b6" stroke-width="0.4"/>
<circle cx="568.5" cy="756.4" r="1.5" fill="#c2c2c2" stroke="#b6b6b6" stroke-width="0.4"/>
<circle cx="567.6" cy="761.3" r="1.5" fill="#c2c2c2" stroke="#b6b6b6" stroke-width="0.4"/>
<circle cx="521.8" cy="762.8" r="1.5" fill="#c2c2c2" stroke="#b6b6b6" stroke-width="0.4"/>
<circle cx="526.4" cy="764.2" r="1.5" fill="#c2c2c2" stroke="#b6b6b6" stroke-width="0.4"/>
<circle cx="465.1" cy="778.8" r="1.5" fill="#c2c2c2" stroke="#b6b6b6" stroke-width="0.4"/>
<circle cx="477.1" cy="789.6" r="1.5" fill="#c2c2c2" stroke="#b6b6b6" stroke-width="0.4"/>
<circle cx="609.3" cy="789.3" r="1.5" fill="#c2c2c2" stroke="#b6b6b6" stroke-width="0.4"/>
<circle cx="475" cy="812.7" r="1.5" fill="#c2c2c2" stroke="#b6b6b6" stroke-width="0.4"/>
<circle cx="489.1" cy="818.5" r="1.5" fill="#c2c2c2" stroke="#b6b6b6" stroke-width="0.4"/>
<circle cx="605.8" cy="819.1" r="1.5" fill="#c2c2c2" stroke="#b6b6b6" stroke-width="0.4"/>
<circle cx="626" cy="834.3" r="1.5" fill="#c2c2c2" stroke="#b6b6b6" stroke-width="0.4"/>
<circle cx="495.5" cy="841.6" r="1.5" fill="#c2c2c2" stroke="#b6b6b6" stroke-width="0.4"/>
<circle cx="500.7" cy="849.2" r="1.5" fill="#c2c2c2" stroke="#b6b6b6" stroke-width="0.4"/>
<circle cx="594.7" cy="857.1" r="1.5" fill="#c2c2c2" stroke="#b6b6b6" stroke-width="0.4"/>
<circle cx="602" cy="849.8" r="1.5" fill="#c2c2c2" stroke="#b6b6b6" stroke-width="0.4"/>
<circle cx="581.3" cy="867.3" r="1.5" fill="#c2c2c2" stroke="#b6b6b6" stroke-width="0.4"/>
<path d="M391.4 663.8 L396.2 662.3 L404.2 657.7 L411.5 653.3 L419.6 646.7" fill="none" stroke="#111" stroke-width="1.25" stroke-linejoin="round"/>
<line x1="391.4" y1="647" x2="391.4" y2="900.6" stroke="#3a3a3a" stroke-width="0.9"/>
<line x1="391.4" y1="900.6" x2="632.4" y2="900.6" stroke="#3a3a3a" stroke-width="0.9"/>
<line x1="387.9" y1="889.2" x2="391.4" y2="889.2" stroke="#3a3a3a" stroke-width="0.9"/>
<text x="382.9" y="891.58" font-size="6.6" text-anchor="middle" fill="#2a2a2a" transform="rotate(-90 382.9 889.2)">0</text>
<line x1="387.9" y1="848.05" x2="391.4" y2="848.05" stroke="#3a3a3a" stroke-width="0.9"/>
<text x="382.9" y="850.43" font-size="6.6" text-anchor="middle" fill="#2a2a2a" transform="rotate(-90 382.9 848.05)">0.5</text>
<line x1="387.9" y1="806.9" x2="391.4" y2="806.9" stroke="#3a3a3a" stroke-width="0.9"/>
<text x="382.9" y="809.28" font-size="6.6" text-anchor="middle" fill="#2a2a2a" transform="rotate(-90 382.9 806.9)">1</text>
<line x1="387.9" y1="765.75" x2="391.4" y2="765.75" stroke="#3a3a3a" stroke-width="0.9"/>
<text x="382.9" y="768.13" font-size="6.6" text-anchor="middle" fill="#2a2a2a" transform="rotate(-90 382.9 765.75)">1.5</text>
<line x1="387.9" y1="724.6" x2="391.4" y2="724.6" stroke="#3a3a3a" stroke-width="0.9"/>
<text x="382.9" y="726.98" font-size="6.6" text-anchor="middle" fill="#2a2a2a" transform="rotate(-90 382.9 724.6)">2</text>
<line x1="387.9" y1="683.45" x2="391.4" y2="683.45" stroke="#3a3a3a" stroke-width="0.9"/>
<text x="382.9" y="685.83" font-size="6.6" text-anchor="middle" fill="#2a2a2a" transform="rotate(-90 382.9 683.45)">2.5</text>
<line x1="440" y1="900.6" x2="440" y2="904.1" stroke="#3a3a3a" stroke-width="0.9"/>
<text x="440" y="911.68" font-size="6.6" text-anchor="middle" fill="#2a2a2a">-1</text>
<line x1="490.6" y1="900.6" x2="490.6" y2="904.1" stroke="#3a3a3a" stroke-width="0.9"/>
<text x="490.6" y="911.68" font-size="6.6" text-anchor="middle" fill="#2a2a2a">-0.5</text>
<line x1="541.2" y1="900.6" x2="541.2" y2="904.1" stroke="#3a3a3a" stroke-width="0.9"/>
<text x="541.2" y="911.68" font-size="6.6" text-anchor="middle" fill="#2a2a2a">0</text>
<line x1="591.8" y1="900.6" x2="591.8" y2="904.1" stroke="#3a3a3a" stroke-width="0.9"/>
<text x="591.8" y="911.68" font-size="6.6" text-anchor="middle" fill="#2a2a2a">0.5</text>
<text x="514.7" y="921.54" font-size="7.6" text-anchor="middle" fill="#2a2a2a">Difference (DE - SE)</text>
<text x="371" y="776.48" font-size="8.0" text-anchor="middle" fill="#2a2a2a" transform="rotate(-90 371 773.6)">-Log p</text>
<line x1="0" y1="944.5" x2="685" y2="944.5" stroke="#f2f2f2" stroke-width="1"/>
</svg></body></html>
